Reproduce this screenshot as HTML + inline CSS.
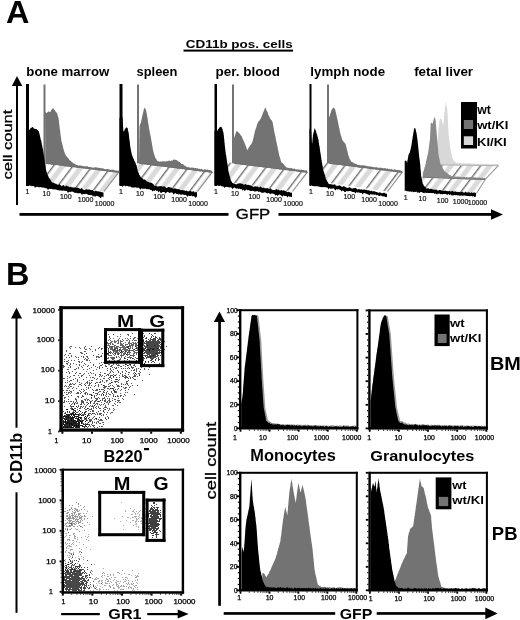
<!DOCTYPE html>
<html><head><meta charset="utf-8"><title>figure</title>
<style>html,body{margin:0;padding:0;background:#fff;} svg{display:block;will-change:transform;} text{font-family:"Liberation Sans", sans-serif;}</style>
</head><body>
<svg width="520" height="620" viewBox="0 0 520 620" style="font-family:'Liberation Sans', sans-serif">
<rect width="520" height="620" fill="#fff"/>
<text x="6.09" y="23.00" font-size="32.00" font-weight="bold" textLength="23.39" lengthAdjust="spacingAndGlyphs" fill="#000" >A</text>
<text x="185.66" y="48.30" font-size="10.76" font-weight="bold" textLength="107.19" lengthAdjust="spacingAndGlyphs" fill="#000" >CD11b pos. cells</text>
<rect x="183.5" y="49.6" width="109.5" height="2" fill="#000" />
<text x="26.34" y="76.20" font-size="13.38" font-weight="bold" textLength="82.95" lengthAdjust="spacingAndGlyphs" fill="#000" >bone marrow</text>
<text x="136.55" y="76.20" font-size="13.38" font-weight="bold" textLength="40.83" lengthAdjust="spacingAndGlyphs" fill="#000" >spleen</text>
<text x="215.52" y="76.20" font-size="13.38" font-weight="bold" textLength="64.36" lengthAdjust="spacingAndGlyphs" fill="#000" >per. blood</text>
<text x="310.37" y="76.20" font-size="13.38" font-weight="bold" textLength="74.68" lengthAdjust="spacingAndGlyphs" fill="#000" >lymph node</text>
<text x="414.17" y="76.20" font-size="13.38" font-weight="bold" textLength="58.92" lengthAdjust="spacingAndGlyphs" fill="#000" >fetal liver</text>
<polygon points="17,76 11.9,86 22.3,86" fill="#000" />
<rect x="16" y="85" width="2" height="120" fill="#000" />
<text transform="translate(11.60,178.70) rotate(-90)" x="-0.70" y="0" font-size="12.83" font-weight="normal" textLength="69.72" lengthAdjust="spacingAndGlyphs" fill="#000" stroke="#000" stroke-width="0.3">cell count</text>
<rect x="19.5" y="213" width="209" height="2.8" fill="#000" />
<rect x="278.5" y="213" width="213.5" height="2.8" fill="#000" />
<polygon points="491,209.2 503,214.4 491,219.8" fill="#000" />
<text x="235.86" y="219.40" font-size="14.91" font-weight="normal" textLength="34.43" lengthAdjust="spacingAndGlyphs" fill="#000" stroke="#000" stroke-width="0.3">GFP</text>
<defs>
<pattern id="hatch" patternUnits="userSpaceOnUse" width="15.5" height="16" patternTransform="translate(3,0) rotate(37)">
<rect width="15.5" height="16" fill="#fff"/>
<rect x="0" y="0" width="1.4" height="16" fill="#707070"/>
<rect x="5.5" y="0" width="5" height="16" fill="#dadada"/>
</pattern>
</defs>
<polygon points="40,162.4 118.8,172.1 104,191.5 26,180" fill="url(#hatch)" />
<line x1="118.8" y1="172.1" x2="104" y2="191.5" stroke="#8a8a8a" stroke-width="1.1" />
<rect x="43.5" y="84.5" width="2" height="78.8" fill="#737373" />
<polygon points="45.5,163.3 45.5,162.7 45.5,162.2 45.5,161.4 45.5,160.3 45.5,159.7 45.5,159.4 45.5,158 45.4,158 45.4,157.2 45.4,156.3 45.4,155.4 45.4,154.7 45.4,154 45.4,153.4 45.4,152.8 45.4,152.1 45.4,151.8 45.4,150.9 45.4,150.1 45.4,149.7 45.4,148.3 45.3,147.6 45.3,147.2 45.3,146.1 45.3,145.4 45.3,145.1 45.3,144.3 45.3,144 45.3,143 45.3,142.2 45.3,141.5 45.3,140.6 45.3,139.7 45.3,139.2 45.3,138.9 45.3,137.8 45.2,137.2 45.2,136.2 45.2,136.2 45.2,134.9 45.2,134.3 45.2,134.1 45.2,133.1 45.2,132.7 45.2,131.8 45.2,131.2 45.2,130 45.2,129.6 45.2,128.9 45.2,128.5 45.2,127.4 45.1,126.8 45.1,125.7 45.1,125.3 45.1,124.5 45.1,123.7 45.1,123.5 45.1,122.5 45.1,122.2 45.1,121.2 45.1,120.5 45.1,119.8 45.1,119.2 45.1,118 45.1,117.6 45,116.7 45,116.1 45,115.2 45,115.2 45,113.9 45,113.5 45,112.5 45,112 45.7,112.6 46.3,112.8 47,113 47.6,112 48.2,111.9 48.8,111 49.4,111.9 50,112 50.5,111.7 51,110.7 51.5,110 52,109 52.6,108.4 53.1,108 53.6,109 54,109.4 54.5,110 55,110.3 55.5,111.5 55.9,111.9 56.4,112.5 56.9,113 57.1,113.6 57.4,114.4 57.6,114.9 57.8,115.5 58,116.9 58.3,117.3 58.5,118 58.6,118.7 58.7,119.3 58.8,120.3 58.9,120.4 58.9,121.4 59,121.9 59.1,122.6 59.2,124 59.3,124.5 59.4,125 59.5,125.8 59.6,126.8 59.6,127.1 59.7,128 59.8,128.7 59.9,129.2 60,130 60.1,130.7 60.2,131.6 60.3,132.5 60.4,132.6 60.4,133.9 60.5,133.9 60.6,135.2 60.7,136 60.8,136.1 60.9,137.1 61,138.1 61.1,138.2 61.2,139.4 61.2,140 61.4,140.9 61.6,141.4 61.8,142.3 62,142.6 62.1,143.3 62.3,144.2 62.5,144.7 62.7,145.6 62.9,146.8 63,147.2 63.2,147.7 63.4,148.4 63.6,149.6 63.8,150 64,150.7 64.3,151.8 64.5,152.2 64.8,152.9 65.1,153.9 65.3,154.5 65.6,155 66,155.6 66.5,156 66.9,157 67.4,157.1 67.8,158.1 68.2,158 68.7,158.8 69.1,159.4 69.6,160.3 70,160.5 70.6,160.8 71.2,161.6 71.8,162 72.4,162.5 73,162.9 73.6,163.6 74.2,163.5 74.8,164 75.4,164.3 76,165 76.7,164.7 77.4,165 78.1,165.6 78.8,165.7 79.5,165.2 80.2,165.6 80.9,165.6 81.6,165.8 82.3,166 83,165.8 83.7,166.4 84.4,166.1 85.1,166.3 85.8,166.4 86.5,166.2 87.2,166.1 87.9,166.5 88.6,166.9 89.3,167 90,167.1 90.7,166.7 91.4,167.4 92.1,167.4 92.8,167.5 93.5,167.4 94.2,167.8 94.9,167.2 95.6,167.2 96.3,167.3 97,167.6 97.8,167.7 98.5,167.7 99.2,168.1 99.9,167.8 100.6,168.3 101.3,168.1 102,168.6 102.7,168.2 103.4,168.5 104.1,169.1 104.8,168.9 105.5,169.2 106.2,169.1 106.9,169.2 107.6,169 108.3,169.4 109,169 109.7,169.7 110.4,169.9 111.1,170 111.8,169.4 112.5,169.7 113.2,169.8 113.9,169.7 114.6,170.2 115.3,170.5 116,170.2 116.7,170.7 117.4,170.8 118.1,170.3 118.8,170.7 118.8,171.9 118.8,172.7 118.1,172.9 117.4,172.3 116.7,172.5 116,172.5 115.3,172.4 114.6,171.9 113.9,172.2 113.2,172.1 112.5,172.2 111.8,172.1 111.1,171.6 110.4,171.8 109.7,171.9 109,171.8 108.3,171.1 107.6,170.9 106.9,171.4 106.2,170.9 105.5,171.1 104.8,171.3 104.1,170.8 103.4,170.6 102.7,170.7 102,170.8 101.3,170.2 100.6,170.4 100,170.1 99.3,170.4 98.6,170.5 97.9,170 97.2,169.9 96.5,170 95.8,169.6 95.1,169.6 94.4,169.5 93.7,169.6 93,169.2 92.3,169.6 91.6,169.4 90.9,169.1 90.2,168.8 89.5,169.3 88.8,168.7 88.1,168.6 87.4,168.5 86.7,168.4 86,169 85.3,168.4 84.6,168.3 83.9,168.6 83.2,168.4 82.5,168 81.8,168.1 81.1,168.3 80.4,167.9 79.7,168 79,167.5 78.3,167.9 77.6,167.8 76.9,167.8 76.2,167.6 75.5,167.2 74.8,166.9 74.1,167.2 73.4,167.3 72.7,166.8 72,166.7 71.3,166.9 70.6,166.9 69.9,167 69.2,166.3 68.5,166.2 67.8,166.6 67.1,166.4 66.4,166.4 65.7,166.5 65,166.4 64.3,166.2 63.7,166.1 63,165.7 62.3,165.8 61.6,165.4 60.9,165.7 60.2,165.7 59.5,165.5 58.8,165.2 58.1,165.1 57.4,165 56.7,164.6 56,165.2 55.3,164.9 54.6,164.7 53.9,164.7 53.2,164.8 52.5,164.4 51.8,164.7 51.1,164.7 50.4,164.1 49.7,163.9 49,164.3 48.3,164.4 47.6,163.6 46.9,164 46.2,164 45.5,163.6" fill="#737373" />
<line x1="45.5" y1="163.2" x2="118.8" y2="172.3" stroke="#6f6f6f" stroke-width="1.0" />
<rect x="26" y="84" width="3" height="102" fill="#000" />
<polygon points="26,185 26,183.8 26,183.9 26,183.3 26,182.1 26,181 26,181 26,179.8 26,179.6 26,178.5 26,178.2 26,177 26,176.6 26,175.9 26,175.3 26,174.1 26,174.3 26,172.8 26,172.1 26,171.4 26,170.5 26,170.2 26,169.9 26,169.1 26,167.8 26,167 26,166.6 26,166.4 26,165.3 26,165.2 26,164.1 26,163.4 26,162.9 26,162.2 26,161 26,160.2 26,159.7 26,159 26,157.9 26,157.6 26,157.1 26,155.8 26,155.1 26,154.5 26,153.9 26,154 26,152.2 26,151.7 26,150.9 26,150.6 26,149.4 26,149.2 26,148.1 26,147.6 26,147.5 26,146 26,145.9 26,144.9 26,144.2 26,144 26,142.5 26,142.7 26,142 26,141 26,139.6 26,139.6 26,138.8 26,138.3 26,137 26,137.2 26,136.4 26,134.7 26,134.3 26,133.2 26,133.5 26,132.9 26,132.3 26,131 26.3,130.5 26.7,129.9 27,129 27.7,129.5 28.3,129.8 29,130 29.5,130 30,129.1 30.5,128.3 31,128 31.8,127.5 32.5,127 33,126.9 33.5,128.3 34,128.5 35,129 36,129 36.7,129.2 37.3,130.1 38,130 38.2,131 38.5,131.1 38.8,131.5 39,132.2 39.2,133 39.5,134 39.7,134.5 39.9,135.4 40.1,136.8 40.2,136.7 40.4,138.2 40.6,138.7 40.8,139.7 41,140 41.1,140.6 41.3,140.8 41.4,142.5 41.6,142.6 41.7,143.1 41.9,144.6 42,145.2 42.1,145.4 42.3,146.1 42.4,147.7 42.6,147.6 42.7,148.8 42.9,148.8 43,150 43.1,151.1 43.2,151 43.3,152.2 43.5,152.3 43.6,153.6 43.7,154.7 43.8,154.5 43.9,155.4 44,156.7 44.1,157.3 44.3,157.6 44.4,158.7 44.5,159.2 44.6,160 44.7,161.1 44.8,161.2 44.9,162.5 45,163 45.1,163.9 45.2,164.1 45.4,165.3 45.5,166 45.6,166.3 45.7,166.6 45.8,168.4 45.9,168.8 46,168.9 46.1,170 46.3,171 46.5,171.2 46.7,172.1 47,173.3 47.2,173.5 47.4,174 47.6,175 48,175.5 48.3,176 48.6,176.9 49,178 49.4,178.3 49.8,178.8 50.2,179.2 50.7,180.2 51.1,180.5 51.5,181.7 51.9,182 52.5,182.8 53.2,182.4 53.8,183.1 54.4,183.3 55.1,183.2 55.7,184 56.4,183.7 57.1,184.7 57.9,184.4 58.6,184.9 59.3,184.1 60,184.8 62,186.2 63,185.1 64,185.2 65,186.8 66,185.6 67,185.8 68,186.6 69,186.6 70,187.3 71,186.5 72,187.8 73,186.9 74,187.9 75,187 76,187.8 77,187.3 78,187.9 79,188 80,188.9 81,188.6 82,188.1 83,189.8 84,189.8 85,190 86,189.1 87,189.5 88,189.4 89,189.4 90,189.4 91,190.3 92,189.9 93,190.1 94,191.4 95,191 96,190.6 97,191.6 98,191.1 99,191.7 100,191.5 101,192 102,192.3 103,192.4 103.5,192.4 103.5,197.3 103,197 102,196.2 101,197.9 100,197.7 99,196.5 98,196.4 97,195.8 96,196.1 95,197 94,195.4 93,196.7 92,195 91,195.2 90,195 89,194.9 88,194.7 87,194 86,193.8 85,194.1 84,194.3 83,193.7 82,195 81,193.5 80,193 79,193.3 78,193.4 77,192.7 76,193 75,192.7 74,192.4 73,191.7 72,191.5 71,191.8 70,191.9 69,191.8 68,192.9 67,191.3 66,190.7 65,191.1 64,190.4 63,190.4 62,190.9 61,190.3 60,190.4 59,190.4 58,190 57,189.9 56,189.5 55,189.4 54,189.2 53,189.4 52,188.9 51,188.7 50,189 49,188.8 48,189.9 47,188.6 46,188.2 45,188.1 44,187.7 43,187.5 42,187.4 41,187.2 40,187.1 39,187.5 38,186.8 37,187.1 36,186.8 35,188 34,186.1 33,185.9 32,186.3 31,185.8 30,185.7 29,185.6 28,185.2 27,185.5" fill="#000" />
<text x="27.4" y="193.5" font-size="7" text-anchor="middle" fill="#111" stroke="#111" stroke-width="0.2">1</text>
<text x="46.4" y="196.1" font-size="7" text-anchor="middle" fill="#111" stroke="#111" stroke-width="0.2">10</text>
<text x="65.8" y="199.3" font-size="7" text-anchor="middle" fill="#111" stroke="#111" stroke-width="0.2">100</text>
<text x="85.6" y="202.3" font-size="7" text-anchor="middle" fill="#111" stroke="#111" stroke-width="0.2">1000</text>
<text x="104.6" y="205.5" font-size="7" text-anchor="middle" fill="#111" stroke="#111" stroke-width="0.2">10000</text>
<polygon points="133.5,162.4 212.3,172.1 197.5,191.5 119.5,180" fill="url(#hatch)" />
<line x1="212.3" y1="172.1" x2="197.5" y2="191.5" stroke="#8a8a8a" stroke-width="1.1" />
<rect x="137" y="84.5" width="2" height="78.8" fill="#737373" />
<polygon points="139,163.3 139,162.7 139,162.2 139,161.5 139,160.1 139,159.8 139.1,159 139.1,158.6 139.1,157.3 139.1,156.8 139.1,156.5 139.1,155.5 139.1,154.8 139.1,154.5 139.1,153.3 139.1,152.3 139.2,151.9 139.2,151 139.2,150.2 139.2,149.9 139.2,149.5 139.2,148.5 139.2,147.9 139.2,146.9 139.2,146.4 139.2,145.8 139.2,145 139.3,144.5 139.3,143.5 139.3,142.6 139.3,142.1 139.3,141.4 139.3,140.4 139.3,140.1 139.3,139.5 139.3,138.2 139.3,137.9 139.4,137.3 139.4,136.3 139.4,135.5 139.4,134.9 139.4,134.3 139.4,133.7 139.4,132.9 139.4,131.9 139.4,131.7 139.4,131.1 139.5,129.7 139.5,129.1 139.5,128.4 139.5,128.2 139.5,127.5 139.5,126.5 139.8,125.4 140,124.9 140.2,124 140.5,123.5 140.8,123.1 141,122 141.2,121 141.3,120.3 141.4,119.9 141.6,119.2 141.8,118.7 141.9,117.8 142.1,116.8 142.2,116.3 142.3,116.1 142.5,115 142.7,114.5 142.9,113.2 143,113 143.2,111.9 143.4,111.5 143.6,110.2 143.8,110.1 143.9,108.8 144.1,108.3 144.3,107.6 144.7,108.3 145.2,108.8 145.6,109.1 146,110 146.1,110.4 146.3,111.3 146.4,111.8 146.5,112.7 146.7,113.3 146.8,114.3 147,115 147.1,115.9 147.2,116.4 147.4,116.9 147.5,118 147.6,118.6 147.7,119.6 147.8,119.9 147.9,120.8 148,121.8 148.1,122.2 148.2,123.3 148.4,124 148.5,124.3 148.6,125.3 148.7,125.7 148.8,126.3 148.9,127.2 149,128 149.1,128.8 149.3,129.8 149.4,129.8 149.5,131 149.7,131.5 149.8,131.9 149.9,133.3 150.1,133.8 150.2,134.1 150.4,135.4 150.5,135.4 150.6,136.1 150.8,137 150.9,138.2 151,138.2 151.2,139.6 151.3,140 151.4,140.8 151.5,141.1 151.7,142.2 151.8,142.8 151.9,143.6 152,144.5 152.2,145.1 152.3,146.1 152.4,146.2 152.5,147.4 152.6,147.8 152.8,148.8 152.9,149.6 153,150 153.2,151.1 153.4,151.2 153.6,152.1 153.8,153.2 154,153.9 154.2,154.1 154.4,155.3 154.6,155.5 154.8,156.2 155,157 155.4,157.8 155.7,158.3 156.1,158.9 156.5,159.5 156.9,160.2 157.2,160.6 157.6,161.5 158.3,161.1 159.1,161.7 159.8,161.6 160.6,161.6 161.3,161.7 162,161.3 162.8,161.3 163.5,161.3 164.3,161.3 165,161.5 165.7,161.6 166.4,161.2 167.1,161.1 167.8,161.2 168.5,160.7 169.2,160.6 169.9,161 170.6,160.9 171.3,160.4 172,160.5 172.8,160.4 173.5,159.6 174.2,159.7 175,159.5 175.8,159.9 176.5,160.1 177.2,160.5 178,161 178.6,161.5 179.1,161.9 179.7,162 180.3,162.9 180.9,162.8 181.4,163.9 182,164 182.7,164.1 183.3,164.5 184,164.9 184.7,165.9 185.3,165.7 186,166.3 186.7,167 187.3,167.3 188,167.3 188.7,167 189.4,167.5 190.1,167.7 190.8,167.8 191.5,167.6 192.2,167.7 192.9,167.6 193.6,167.7 194.2,168.2 194.9,167.9 195.6,168.1 196.3,168.3 197,168.2 197.7,168.3 198.4,169.1 199.1,168.8 199.8,168.7 200.5,169.2 201.2,168.8 201.9,169 202.6,169.7 203.3,169.8 204,169.6 204.7,169.3 205.4,169.6 206.1,169.4 206.7,169.7 207.4,169.6 208.1,169.8 208.8,170.3 209.5,170 210.2,170.1 210.9,170.8 211.6,170.5 212.3,170.7 212.3,171.6 212.3,172.7 211.6,172.3 210.9,172.8 210.2,172.6 209.5,172.4 208.8,172.4 208.1,171.9 207.4,171.9 206.7,172.1 206,172.3 205.3,172.1 204.6,171.9 203.9,171.7 203.2,171.2 202.5,171.8 201.8,171.1 201.1,171 200.4,171.4 199.7,171.4 199,171.3 198.3,170.9 197.6,170.6 196.9,170.4 196.2,171 195.5,171 194.8,170.3 194.1,170.7 193.5,170.3 192.8,170.1 192.1,170.2 191.4,169.7 190.7,170 190,169.7 189.3,170 188.6,169.8 187.9,170 187.2,169.9 186.5,169.4 185.8,169.2 185.1,169.7 184.4,169.2 183.7,168.8 183,168.7 182.3,169.4 181.6,169 180.9,168.5 180.2,168.7 179.5,168.6 178.8,168.5 178.1,168.8 177.4,168.7 176.7,168 176,167.9 175.3,168 174.6,168.3 173.9,168 173.2,168 172.5,167.8 171.8,167.5 171.1,167.9 170.4,167.1 169.7,167.6 169,167.1 168.3,167.2 167.6,167.6 166.9,167.1 166.2,166.6 165.5,166.9 164.8,167 164.1,166.4 163.4,166.5 162.7,166.2 162,166.5 161.3,166.3 160.6,166.3 159.9,166.1 159.2,166.3 158.5,165.8 157.8,166.3 157.2,166.2 156.5,165.8 155.8,165.7 155.1,165.9 154.4,165.4 153.7,165.7 153,165.2 152.3,165.4 151.6,165.1 150.9,165.2 150.2,165.4 149.5,164.6 148.8,165.1 148.1,164.8 147.4,164.6 146.7,164.5 146,164.2 145.3,164.2 144.6,164.4 143.9,163.9 143.2,164.3 142.5,164.4 141.8,164.4 141.1,164.2 140.4,164.1 139.7,163.5 139,163.6" fill="#737373" />
<line x1="139" y1="163.2" x2="212.3" y2="172.3" stroke="#6f6f6f" stroke-width="1.0" />
<rect x="119.5" y="84" width="3" height="102" fill="#000" />
<polygon points="119.5,185 119.5,184.8 119.5,184 119.5,182.5 119.5,182.2 119.5,181.5 119.5,181.4 119.5,179.6 119.5,179.4 119.5,179.1 119.5,177.8 119.5,177 119.5,176.6 119.5,175.6 119.5,175.6 119.5,173.9 119.5,173.4 119.5,172.5 119.5,172.6 119.5,171.4 119.5,171.4 119.5,170.7 119.5,170 119.5,168.5 119.5,167.5 119.5,167.2 119.5,167.2 119.5,166.3 119.5,164.7 119.5,164.8 119.5,164.3 119.5,163.7 119.5,162.7 119.5,162.2 119.5,161.4 119.5,160.1 119.5,159.1 119.5,159.2 119.5,157.8 119.5,157.4 119.5,157.4 119.5,156.2 119.5,155.4 119.5,155.2 119.5,153.7 119.5,153.9 119.5,153.1 119.5,151.7 119.5,150.9 119.5,150 119.5,150.2 119.5,148.7 119.5,147.7 119.5,148.1 119.5,147 119.5,146.4 119.5,145.8 119.5,144.3 119.5,143.6 119.5,143.4 119.5,142.1 119.5,142 119.5,141.6 119.5,140.8 119.5,140 119.5,138.6 119.5,138.1 119.5,138.2 119.5,136.6 119.5,136.4 119.5,135.1 119.5,135.5 119.5,133.8 119.5,133.4 119.5,132.9 119.5,132.4 119.5,131.9 119.5,131 119.5,129.8 119.5,128.8 119.5,128.8 119.5,128.4 119.5,126.6 119.5,126.8 119.5,125.4 119.5,125 119.5,124.4 119.5,123.8 119.5,123.5 119.5,122.5 119.5,121.4 119.5,121.1 119.5,120.1 119.5,119.3 119.5,118.5 119.5,118 120,117.5 120.5,116.7 121,116.5 121.8,116.4 122.5,117 122.5,117.3 122.6,118.4 122.6,118.9 122.7,120.3 122.7,121.1 122.8,121.2 122.8,122.2 122.9,123.3 122.9,123.4 123,124.3 123,125 123,125.6 123.1,126.6 123.2,127.7 123.2,127.4 123.2,129.1 123.3,129.4 123.3,130.3 123.4,130.8 123.5,131.7 123.5,132 123.8,131.1 124.2,130.9 124.5,130 124.9,129.1 125.2,128.8 125.6,128.3 126,127.5 126.8,127.4 127.5,128 127.7,128.3 127.9,129.9 128.1,130.8 128.3,131.4 128.5,132 128.6,132.5 128.7,133.6 128.8,133.7 128.9,135.1 129,135.7 129,136.5 129.1,137 129.2,137.5 129.3,138.8 129.4,139.2 129.5,140 129.6,141 129.7,141.3 129.8,141.7 129.9,143 130,143.8 130,144.9 130.1,145.6 130.2,145.3 130.3,146.9 130.4,147 130.5,148 130.7,148.9 130.8,149.3 130.9,149.9 131.1,150.8 131.2,151.5 131.4,152.4 131.6,153.1 131.7,153.8 131.8,154.2 132,155 132.3,155.9 132.6,156.2 132.9,157.3 133.1,157.8 133.4,158.6 133.7,158.7 134,160 134.3,160.7 134.7,161.1 135,162 135.4,162.3 135.7,163.8 136.1,164.8 136.4,165 136.6,165.5 136.7,165.9 136.9,167.2 137,167.4 137.2,169 137.4,168.7 137.5,169.7 137.7,170.6 137.8,170.8 138,172 138.4,172.5 138.8,173.1 139.1,174.3 139.5,175.3 139.9,175.3 140.2,176.5 140.6,176.4 141,177.5 141.6,178 142.2,178.2 142.9,178.4 143.5,179.4 144.1,179.7 144.8,179.3 145.4,179.9 146,180.5 146.6,181.2 147.3,181.7 147.9,181.5 148.5,182.1 149.2,182.6 149.8,182.6 150.5,182.8 151.1,182.6 151.7,183 152.4,183.6 153,183.8 155,186.2 156,185.1 157,186.4 158,186.5 159,186.3 160,186.3 161,186 162,186.6 163,186.4 164,186.3 165,186.5 166,187.7 167,188.1 168,187 169,187 170,187.5 171,187.5 172,187.8 173,188.6 174,188.5 175,188.6 176,188.4 177,189.3 178,188.9 179,189.2 180,189.5 181,190.4 182,189.5 183,190.4 184,189.9 185,191 186,190.4 187,190.7 188,191.5 189,191.3 190,190.6 191,190.8 192,192.3 193,191 194,191.6 195,192.8 196,191.4 197,192.4 197,197.3 196.5,196.4 195.5,198 194.5,196.5 193.5,195.9 192.5,196.4 191.5,195.6 190.5,195.9 189.5,196 188.5,195.5 187.5,196.8 186.5,195.5 185.5,194.8 184.5,195.1 183.5,194.7 182.5,194.3 181.5,194.7 180.5,194.7 179.5,194.1 178.5,194.4 177.5,194 176.5,194.1 175.5,193.1 174.5,193.5 173.5,194.7 172.5,192.6 171.5,192.6 170.5,192.6 169.5,193 168.5,192.3 167.5,191.8 166.5,192.6 165.5,193.5 164.5,192 163.5,192 162.5,192 161.5,192.9 160.5,192.8 159.5,191.1 158.5,192.5 157.5,190.6 156.5,190.9 155.5,190.1 154.5,190.9 153.5,190.5 152.5,191.6 151.5,190 150.5,190.1 149.5,189.2 148.5,189.2 147.5,189.1 146.5,189.3 145.5,188.5 144.5,188.7 143.5,188.8 142.5,188.8 141.5,188.2 140.5,189.8 139.5,188.5 138.5,187.5 137.5,187.7 136.5,187.7 135.5,187.3 134.5,187.5 133.5,187.4 132.5,187.4 131.5,187.4 130.5,186.4 129.5,186.4 128.5,186.6 127.5,185.9 126.5,185.7 125.5,186.4 124.5,185.5 123.5,185.7 122.5,187.1 121.5,185.1 120.5,185.4" fill="#000" />
<text x="120.9" y="193.5" font-size="7" text-anchor="middle" fill="#111" stroke="#111" stroke-width="0.2">1</text>
<text x="139.9" y="196.1" font-size="7" text-anchor="middle" fill="#111" stroke="#111" stroke-width="0.2">10</text>
<text x="159.3" y="199.3" font-size="7" text-anchor="middle" fill="#111" stroke="#111" stroke-width="0.2">100</text>
<text x="179.1" y="202.3" font-size="7" text-anchor="middle" fill="#111" stroke="#111" stroke-width="0.2">1000</text>
<text x="198.1" y="205.5" font-size="7" text-anchor="middle" fill="#111" stroke="#111" stroke-width="0.2">10000</text>
<polygon points="228.5,162.4 307.3,172.1 292.5,191.5 214.5,180" fill="url(#hatch)" />
<line x1="307.3" y1="172.1" x2="292.5" y2="191.5" stroke="#8a8a8a" stroke-width="1.1" />
<rect x="232" y="84.5" width="2" height="78.8" fill="#737373" />
<polygon points="234,163.3 234,163 234,161.8 234,161.1 234,160.1 234,159.9 234,159 234,158.6 234,157.4 234,157.1 234,156.4 234,155.5 234,154.6 234,154 234,153.6 234,152.4 234,151.7 234,151.2 234,150.3 234,150.1 234,149.4 234,148.8 234,148 234,147.1 234,146.1 234,145.9 234,145.1 234,144.4 234,143.6 234,143 234,141.9 234,141.5 234,140.6 234,139.8 234,139.1 234,138.5 234.2,137.5 234.4,137 234.7,136.2 234.9,135.5 235.1,135.2 235.3,134.3 235.6,133.6 235.8,133.1 236,132 236.7,130.9 237.3,131.2 238,132 238.6,132.7 239.3,133 239.9,134 240.4,134.6 241,135.7 241.5,136 241.8,136.3 242.1,137.6 242.4,138.3 242.7,138.7 243,139.4 243.3,140.3 243.6,140.7 243.9,141.3 244.1,142 244.4,142.4 244.7,143.2 245,144 245.3,144.5 245.5,145.7 245.8,145.9 246,146.4 246.3,147.7 246.5,147.7 246.8,149 247,149.6 247.3,150 247.8,149.5 248.2,148.6 248.7,147.8 249.1,147 249.6,146.3 250,146 250.4,145.2 250.7,144.6 251.1,144.4 251.5,143.5 251.9,143.2 252.2,142.3 252.6,141.5 252.8,140.5 252.9,140.1 253.1,139.1 253.2,138.3 253.4,138.4 253.6,137.2 253.7,136.4 253.9,135.6 254,135.3 254.2,134.5 254.4,133.4 254.5,133.3 254.7,132.2 254.8,131.9 255,131 255.2,130.3 255.5,129.6 255.7,128.8 256,128.3 256.2,127.8 256.4,126.9 256.7,125.6 256.9,125.3 257.2,124.3 257.4,123.5 257.7,122.9 257.9,122.4 258.3,121.6 258.8,121.6 259.2,120.8 259.7,120.3 260.1,119.6 260.6,118.7 261,118.2 261.3,117.4 261.6,116.7 261.9,115.8 262.1,115.2 262.4,114.7 262.7,113.4 263,113 263.3,112.1 263.6,111.6 263.9,111.1 264.1,110.4 264.4,109.8 264.7,108.6 265,108 265.3,107.6 265.6,108.1 266,108.8 266.3,109.8 266.7,110.7 267,111 267.2,111.8 267.5,112 267.8,112.8 268,113.9 268.2,114.7 268.5,115 268.8,115.7 269.2,116.2 269.5,116.9 269.8,117.8 270.2,118.6 270.5,119 270.9,119.6 271.4,120.1 271.8,120.6 272.3,121.4 272.7,122.4 272.8,123.4 272.9,123.9 273.1,124.9 273.2,124.8 273.3,125.7 273.4,126.8 273.5,127.4 273.6,127.6 273.8,128.5 273.9,129.4 274,130 274.1,130.9 274.3,131.4 274.4,131.9 274.6,133.3 274.7,133.6 274.9,134.5 275,135.1 275.2,135.4 275.3,136.3 275.5,136.9 275.6,137.7 275.8,138.4 275.9,139.4 276,140 276.2,140.6 276.3,141.4 276.5,142.4 276.6,142.5 276.8,143.2 276.9,144.5 277.1,145 277.2,145.6 277.4,146.1 277.5,147 277.6,147.8 277.8,148.2 277.9,149.4 278.1,150.1 278.2,150.5 278.4,150.9 278.6,152.4 278.7,152.6 278.9,153.6 279,154.2 279.2,155.2 279.4,155.9 279.6,156.6 279.8,157 280,158 280.2,158.4 280.4,159 280.6,159.9 280.8,160.5 281,161.5 281.2,162 281.7,162.8 282.3,162.8 282.8,163.3 283.4,164 283.9,164.6 284.5,165.5 285,166.1 285.6,166.6 286.1,166.9 286.7,167.4 287.2,167.8 287.9,167.7 288.6,167.9 289.3,167.7 290,168.5 290.7,168.1 291.4,168.1 292.1,168.4 292.7,168.5 293.4,168.9 294.1,168.4 294.8,168.7 295.5,169.3 296.2,169.4 296.9,169.3 297.6,169.4 298.3,169.2 299,169.8 299.7,169.8 300.4,169.7 301.1,169.5 301.8,169.7 302.4,169.9 303.1,170 303.8,169.9 304.5,170.2 305.2,170.4 305.9,170.3 306.6,170.5 307.3,170.7 307.3,171.6 307.3,172.7 306.6,172.5 305.9,172.6 305.2,172.4 304.5,172.1 303.8,172.5 303.1,172.2 302.4,172.1 301.7,172.2 301,172.1 300.3,172.1 299.6,172 298.9,171.8 298.2,171.8 297.5,171.2 296.8,171.6 296.1,171.1 295.4,171 294.7,170.8 294,171 293.3,170.6 292.6,171 291.9,171 291.2,170.9 290.5,170.3 289.8,170.7 289.1,170.7 288.5,170 287.8,170 287.1,170 286.4,170.1 285.7,169.8 285,170 284.3,169.7 283.6,169.9 282.9,169.7 282.2,169.7 281.5,169.3 280.8,169.6 280.1,169.5 279.4,169.4 278.7,168.8 278,169.4 277.3,169 276.6,168.7 275.9,168.8 275.2,168.7 274.5,168.7 273.8,168.4 273.1,168.3 272.4,168.3 271.7,168.5 271,168.2 270.3,167.8 269.6,168 268.9,167.7 268.2,167.5 267.5,168.2 266.8,167.5 266.1,167.6 265.4,167.4 264.7,167.1 264,167.7 263.3,167.6 262.6,166.9 261.9,167 261.2,166.9 260.5,166.6 259.8,167 259.1,167 258.4,166.9 257.7,166.7 257,166.1 256.3,166.2 255.6,166.3 254.9,166.4 254.2,166 253.5,166 252.8,166.2 252.2,165.5 251.5,165.6 250.8,165.5 250.1,166 249.4,165.3 248.7,165.1 248,165.3 247.3,165.4 246.6,164.9 245.9,165.4 245.2,164.8 244.5,165.1 243.8,164.6 243.1,165.1 242.4,164.4 241.7,164.8 241,164.8 240.3,164.2 239.6,164 238.9,164.3 238.2,164.2 237.5,164 236.8,164.2 236.1,163.9 235.4,163.8 234.7,163.7 234,163.6" fill="#737373" />
<line x1="234" y1="163.2" x2="307.3" y2="172.3" stroke="#6f6f6f" stroke-width="1.0" />
<rect x="214.5" y="84" width="2.5" height="102" fill="#000" />
<polygon points="214.5,185 214.5,184.6 214.5,184.1 214.5,182.4 214.5,182.5 214.5,181.4 214.5,181.1 214.5,179.8 214.5,179.4 214.5,179.1 214.5,177.4 214.5,177 214.5,176.6 214.5,176.3 214.5,174.9 214.5,174.9 214.5,173.5 214.5,172.8 214.5,172.4 214.5,171.9 214.5,171.4 214.5,170.7 214.5,169.3 214.5,169.2 214.5,168.3 214.5,167.3 214.5,167.1 214.5,166.5 214.5,165.3 214.5,165.2 214.5,163.5 214.5,162.9 214.5,162.9 214.5,161.6 214.5,161.3 214.5,160.5 214.5,159.3 214.5,159.4 214.5,158.6 214.5,157.2 214.5,156.7 214.5,156.6 214.5,156 214.5,155.3 214.5,154.1 214.5,153.3 214.5,152.7 214.5,151.7 214.5,151.3 214.5,150.3 214.5,149.5 214.5,149.1 214.5,148 214.5,147.8 214.5,147.4 214.5,146.6 214.5,146.3 214.5,145.5 214.5,144.5 214.5,144.1 214.5,142.9 214.5,142.6 214.5,141.3 214.5,140.9 214.5,140.7 214.5,139.5 214.5,138.7 214.5,138.4 214.5,137.1 214.5,137 214.5,135.3 214.5,134.9 214.5,134.1 214.5,133.5 214.5,133.6 214.5,131.8 214.5,131.5 214.5,131 215.3,131.1 216.2,131.2 217,131 217.4,130.7 217.8,129.7 218.2,128.9 218.6,129 219,128 219.8,127.2 220.5,126.8 221.3,127 221.7,127.3 222.1,128.3 222.5,129 222.7,130.3 222.9,130.9 223.1,131.5 223.3,132.2 223.5,133 223.6,133.9 223.7,134.6 223.7,134.9 223.8,135.3 223.9,136.1 224,137.5 224.1,138.1 224.1,139 224.2,138.8 224.3,140 224.4,141.2 224.4,141.3 224.5,142.7 224.6,143 224.7,143.6 224.7,144.7 224.8,145.2 224.9,145.9 224.9,146 225,147.3 225.1,147.7 225.2,148.1 225.2,148.8 225.3,150 225.4,150.7 225.5,151.1 225.6,152.5 225.7,152.4 225.8,153 225.9,154.9 226.1,154.8 226.2,155.7 226.3,156.1 226.4,156.8 226.5,157.7 226.6,158.9 226.7,158.7 226.8,160 226.9,161.1 227,162 227.1,162.2 227.2,162.7 227.3,163.3 227.4,163.9 227.6,164.8 227.7,166.1 227.8,165.8 227.9,167.5 228,168.1 228.1,168 228.2,168.8 228.3,170 228.4,171 228.6,171.6 228.7,171.9 228.9,173.3 229,173.2 229.2,174.2 229.3,175 229.5,175.3 229.7,176.6 229.9,176.6 230.2,177.5 230.4,178.9 230.6,179.3 230.8,180 231.2,180.9 231.7,181.8 232.1,182.4 232.5,183 233.2,182.9 233.9,183.8 234.6,183.4 235.3,183.9 236,184.5 238,183.4 239,183.5 240,183.3 241,183.6 242,183.8 243,183.9 244,184.9 245,184 246,184.3 247,185 248,184.8 249,184.9 250,185.2 251,185.6 252,186.1 253,186.7 254,186.7 255,186.2 256,186.4 257,186.5 258,186.4 259,187.7 260,186.4 261,186.8 262,187.7 263,187.7 264,187.4 265,188.6 266,187.9 267,188.4 268,187.8 269,189.2 270,188.1 271,188.7 272,189.7 273,190 274,190.1 275,190.1 276,189.3 277,189.2 278,190 279,189.5 280,191.1 281,189.8 282,190.5 283,190.4 284,190.3 285,191.2 286,190.7 287,192.2 288,192 289,191.7 290,192.6 291,192.7 292,192.4 292,197.3 291.5,197 290.5,196.7 289.5,196.8 288.5,196.1 287.5,197.6 286.5,196.1 285.5,195.9 284.5,196.1 283.5,195.2 282.5,196.8 281.5,195.7 280.5,195 279.5,194.4 278.5,195.1 277.5,196.1 276.5,194.8 275.5,195.8 274.5,194.2 273.5,193.8 272.5,193.6 271.5,193.4 270.5,193.9 269.5,193.6 268.5,193 267.5,193.5 266.5,193 265.5,192.6 264.5,192.2 263.5,192.8 262.5,192.8 261.5,192.7 260.5,192.1 259.5,191.5 258.5,191.9 257.5,191.1 256.5,191.2 255.5,191.6 254.5,191.4 253.5,190.9 252.5,190.7 251.5,191 250.5,190.9 249.5,190.6 248.5,190.1 247.5,190.2 246.5,189.5 245.5,190.2 244.5,191.1 243.5,189.5 242.5,190.8 241.5,189.1 240.5,189.3 239.5,188.4 238.5,188.9 237.5,188.3 236.5,188.8 235.5,188.2 234.5,187.6 233.5,187.8 232.5,189.3 231.5,187.6 230.5,187.3 229.5,187.6 228.5,187.3 227.5,187.1 226.5,186.7 225.5,186.9 224.5,188.1 223.5,186.5 222.5,186.6 221.5,186.3 220.5,185.6 219.5,186.1 218.5,185.8 217.5,185.4 216.5,185.5 215.5,185.6" fill="#000" />
<text x="215.9" y="193.5" font-size="7" text-anchor="middle" fill="#111" stroke="#111" stroke-width="0.2">1</text>
<text x="234.9" y="196.1" font-size="7" text-anchor="middle" fill="#111" stroke="#111" stroke-width="0.2">10</text>
<text x="254.3" y="199.3" font-size="7" text-anchor="middle" fill="#111" stroke="#111" stroke-width="0.2">100</text>
<text x="274.1" y="202.3" font-size="7" text-anchor="middle" fill="#111" stroke="#111" stroke-width="0.2">1000</text>
<text x="293.1" y="205.5" font-size="7" text-anchor="middle" fill="#111" stroke="#111" stroke-width="0.2">10000</text>
<polygon points="323.5,162.4 402.3,172.1 387.5,191.5 309.5,180" fill="url(#hatch)" />
<line x1="402.3" y1="172.1" x2="387.5" y2="191.5" stroke="#8a8a8a" stroke-width="1.1" />
<rect x="327" y="84.5" width="2" height="78.8" fill="#737373" />
<polygon points="329,163.3 329,162.6 329,161.6 329,160.9 328.9,160.6 328.9,160 328.9,159 328.9,158.3 328.9,157.5 328.9,157 328.8,156.4 328.8,156 328.8,154.5 328.8,154.5 328.8,153.9 328.8,152.7 328.7,152.3 328.7,151.7 328.7,150.8 328.7,149.8 328.7,149.4 328.7,148.9 328.6,147.6 328.6,147.2 328.6,146.1 328.6,146.1 328.6,145.3 328.6,144 328.5,143.9 328.5,143.1 328.5,142 328.5,141.6 328.5,141 328.5,140 328.4,139.5 328.4,139.1 328.4,138.2 328.4,137.4 328.4,136.3 328.4,135.6 328.3,135.5 328.3,134.7 328.3,134.1 328.3,133.2 328.3,132.5 328.3,131.8 328.2,131.2 328.2,130.2 328.2,129.6 328.2,128.9 328.2,128.4 328.2,127.3 328.1,126.4 328.1,125.8 328.1,125.2 328.1,125 328.1,124.2 328.1,123.5 328,122.6 328,121.6 328,121.2 328,120.5 328.2,120.1 328.5,119.1 328.8,118.5 329,117.6 329.2,116.8 329.5,116.5 329.8,115.7 330,115 330.2,114.2 330.4,113.4 330.6,113 330.9,112 331.1,111.5 331.3,110.5 331.5,110 332,109.6 332.5,108.6 333,108 333.5,107.4 334,108.3 334.5,108.6 335,109 335.2,109.9 335.4,110.4 335.6,111.5 335.8,111.9 335.9,113.1 336.1,113.8 336.3,114.4 336.5,115 336.6,116 336.8,116.4 336.9,117.3 337.1,117.5 337.2,118.9 337.4,119.4 337.6,119.6 337.7,120.4 337.9,121.4 338,122 338.1,122.9 338.3,123.1 338.4,124.5 338.6,124.7 338.7,126 338.9,126.5 339,127 339.1,127.6 339.3,128.1 339.4,128.8 339.6,130 339.7,130.8 339.9,131.6 340,132 340.2,132.6 340.4,133.8 340.6,134 340.8,135.3 341,136 341.3,136.1 341.5,137.4 341.7,138 341.9,138.7 342.1,139.5 342.3,140 342.9,140.8 343.4,141.5 343.9,142 344.4,142.4 345,143.4 345.5,143.6 345.7,144.6 345.8,144.8 346,146 346.2,146.3 346.3,146.9 346.5,147.6 346.7,148.6 346.8,149.1 347,150 347.2,150.5 347.4,151.1 347.6,152 347.8,153 347.9,153.1 348.1,154.2 348.3,155 348.5,155.2 348.7,156.3 349,156.8 349.3,158 349.6,158.8 349.9,159.4 350.2,159.5 350.5,160.5 351.1,161.5 351.8,162 352.5,162.3 353.1,162.4 353.8,162.9 354.5,163.6 355.1,163.9 355.8,163.8 356.5,163.8 357.1,164.8 357.8,164.8 358.5,165.3 359.2,165 359.9,164.9 360.6,165.2 361.3,165.4 362,165.3 362.7,165.3 363.4,165.3 364.1,165.5 364.8,165.4 365.4,165.6 366.1,166.3 366.8,165.6 367.5,166.3 368.2,166.4 368.9,166.2 369.6,166.4 370.3,166.2 371,166.7 371.7,166.8 372.4,166.9 373.1,166.8 373.8,167.3 374.5,167.3 375.2,167.2 375.9,167.3 376.6,167.1 377.3,167.7 378,167.6 378.7,167.9 379.4,167.5 380.1,168.1 380.7,167.5 381.4,168 382.1,167.7 382.8,167.9 383.5,168.4 384.2,168 384.9,168.3 385.6,168.2 386.3,168.9 387,168.3 387.7,168.6 388.4,169.1 389.1,169.1 389.8,169.2 390.5,169.5 391.2,168.8 391.9,169.4 392.6,169.6 393.3,169.7 394,169.8 394.7,169.3 395.3,169.4 396,170.1 396.7,170.1 397.4,169.9 398.1,169.8 398.8,170.3 399.5,170 400.2,170.6 400.9,170.4 401.6,170.9 402.3,170.7 402.3,171.4 402.3,172.7 401.6,172.6 400.9,172.2 400.2,172.7 399.5,172.4 398.8,172.1 398.1,172.6 397.4,172.2 396.7,171.9 396,172.2 395.3,171.7 394.6,172.1 393.9,171.5 393.2,172 392.5,171.1 391.8,171.6 391.1,171.2 390.4,171.2 389.7,171.3 389,170.7 388.3,170.8 387.6,170.6 386.9,171 386.2,170.5 385.5,170.6 384.8,170.4 384.1,170.2 383.5,170.7 382.8,170.3 382.1,170.3 381.4,170.3 380.7,170.3 380,169.7 379.3,169.5 378.6,169.7 377.9,169.4 377.2,169.2 376.5,169.8 375.8,169.5 375.1,169.3 374.4,169 373.7,169.4 373,169.1 372.3,168.7 371.6,169.3 370.9,169.2 370.2,169.1 369.5,168.9 368.8,168.6 368.1,168.3 367.4,168.5 366.7,168 366,168.3 365.3,167.8 364.6,167.6 363.9,168.1 363.2,167.7 362.5,167.9 361.8,167.9 361.1,167.9 360.4,167.6 359.7,167.7 359,167.5 358.3,167.6 357.6,167.5 356.9,166.7 356.2,166.8 355.5,166.8 354.8,166.6 354.1,166.5 353.4,167 352.7,166.2 352,166.2 351.3,166.6 350.6,166.1 349.9,166 349.2,166.5 348.5,166.3 347.8,165.9 347.2,165.6 346.5,165.6 345.8,166.1 345.1,165.9 344.4,165.2 343.7,165.6 343,165.3 342.3,165.4 341.6,165 340.9,164.8 340.2,164.6 339.5,164.8 338.8,165.1 338.1,165.1 337.4,164.8 336.7,164.8 336,164.3 335.3,164.3 334.6,164.6 333.9,164.6 333.2,164.1 332.5,164.3 331.8,164.3 331.1,164.3 330.4,163.6 329.7,163.8 329,163.6" fill="#737373" />
<line x1="329" y1="163.2" x2="402.3" y2="172.3" stroke="#6f6f6f" stroke-width="1.0" />
<rect x="309.5" y="84" width="2" height="102" fill="#000" />
<polygon points="309.5,185 309.5,184.2 309.5,183.5 309.5,182.8 309.5,181.8 309.5,181 309.5,180.2 309.5,180.3 309.5,179.2 309.5,178.6 309.5,178.5 309.5,177.4 309.5,176.9 309.5,176.2 309.5,175.7 309.5,173.9 309.5,173.6 309.5,173.6 309.5,172.3 309.5,172.2 309.5,170.5 309.5,169.7 309.5,170 309.5,168.7 309.5,168.1 309.5,167.9 309.5,166.4 309.5,166.6 309.5,165.2 309.5,164.3 309.5,163.6 309.5,163.2 309.5,162.4 309.5,162.2 309.5,160.5 309.5,159.8 309.5,159.2 309.5,159.1 309.5,158.6 309.5,157.5 309.5,157 309.5,156.3 309.5,154.9 309.5,154.4 309.5,154.6 309.5,153.1 309.5,153.2 309.5,151.9 309.5,150.9 309.5,149.9 309.5,149.5 309.5,148.9 309.5,148.3 309.5,147.6 309.5,147.1 309.5,146.3 309.5,145 309.5,144.6 309.5,144.7 309.5,142.9 309.5,143.1 309.5,142 309.5,141.6 309.5,140.5 309.5,139.8 309.5,139.3 309.5,139 309.5,137.6 309.5,136.6 309.5,135.9 309.5,136.2 309.5,134.8 309.5,133.9 309.5,133.7 309.5,133.3 309.5,132.3 309.5,131.1 309.5,130.7 309.5,129.8 309.5,128.8 309.5,128.7 310.2,129.3 311,128.7 311,129.4 311.1,129.7 311.1,131.3 311.2,132.1 311.2,132.6 311.3,132.7 311.3,133.3 311.3,134.4 311.4,135.2 311.4,136.2 311.5,137.1 311.5,137.7 311.6,137.7 311.6,138.7 311.7,138.9 311.7,140.1 311.7,140.2 311.8,141 311.8,141.7 311.9,142.6 311.9,143.4 312,144.5 312,145 312.1,143.8 312.1,143.1 312.2,143 312.3,142.4 312.4,141.7 312.4,141 312.5,140.2 312.6,139.3 312.6,138.9 312.7,137.4 312.8,136.8 312.9,136.7 312.9,135.3 313,135 313.2,134.3 313.3,133.3 313.5,132.8 313.7,132.6 313.9,131.6 314,130.7 314.2,129.8 314.4,129.7 314.5,128.8 314.7,127.9 315,128.6 315.4,129.9 315.7,130.5 316,131 316.2,132.4 316.5,132.8 316.7,133.9 317,134.3 317.2,135 317.4,136 317.6,136.8 317.8,136.7 317.9,137.8 318.1,138.7 318.3,138.8 318.5,140 318.6,141.1 318.7,141.7 318.8,142.7 318.9,142.7 319,143.5 319.1,144.8 319.2,144.9 319.4,146.1 319.5,146.3 319.6,146.9 319.7,147.6 319.8,148.2 319.9,149.2 320,150 320.1,150.3 320.2,151.8 320.3,152.7 320.4,152.4 320.5,153 320.6,153.7 320.8,155.5 320.9,155.2 321,156.6 321.1,156.9 321.2,157.5 321.3,158.3 321.4,159.5 321.5,160 321.6,160.1 321.8,161.9 321.9,162.2 322,162.5 322.1,163.2 322.3,164.5 322.4,165.2 322.5,165.5 322.7,166.2 322.8,167.1 322.9,168.3 323,168.6 323.2,169.7 323.3,170 323.5,170.9 323.7,171.5 324,172.1 324.2,173.1 324.4,173.6 324.6,174.6 324.9,174.6 325.1,175.5 325.3,176.9 325.5,177 325.7,178.3 326,179.1 326.2,179.4 326.4,180 326.8,180.2 327.3,181.6 327.7,182.2 328.1,182.4 328.6,183.8 329,184 331,184.3 332,184.5 333,184.7 334,184.6 335,184.3 336,185.7 337,185.7 338,186.1 339,185.2 340,185.5 341,186.2 342,187 343,186.4 344,186.1 345,186.9 346,187.6 347,187.7 348,187.9 349,187.3 350,187.2 351,188.3 352,188.4 353,188.6 354,188.1 355,188.1 356,188.1 357,189.3 358,189.6 359,188.8 360,189.8 361,189.2 362,189.5 363,189.8 364,189.4 365,189.7 366,189.8 367,190 368,190.6 369,190.1 370,191.3 371,190.5 372,191.1 373,191.6 374,191 375,191.6 376,192 377,192.1 378,192.8 379,192.8 380,191.9 381,193.2 382,192.9 383,193.3 384,192.6 385,193.3 386,193.8 387,193.7 387,197.3 386.5,197 385.5,196.9 384.5,196.6 383.5,196.2 382.5,196.5 381.5,195.8 380.5,195.5 379.5,196 378.5,195.7 377.5,194.9 376.5,195.2 375.5,194.6 374.5,194.7 373.5,194.4 372.5,194.5 371.5,194.6 370.5,194 369.5,195.6 368.5,194.4 367.5,194.3 366.5,193.8 365.5,193.4 364.5,193.1 363.5,193.2 362.5,194.6 361.5,192.7 360.5,193.1 359.5,192.8 358.5,192.2 357.5,192.7 356.5,191.9 355.5,193.5 354.5,192.2 353.5,192 352.5,192 351.5,191.4 350.5,191 349.5,190.9 348.5,191.3 347.5,191.3 346.5,190.9 345.5,192 344.5,191.9 343.5,190.7 342.5,190.5 341.5,191.4 340.5,190.1 339.5,189.5 338.5,189.2 337.5,189.5 336.5,188.9 335.5,190.5 334.5,189.2 333.5,188.3 332.5,188.6 331.5,188.8 330.5,188.7 329.5,188.1 328.5,189.5 327.5,187.5 326.5,187.4 325.5,187.2 324.5,187.1 323.5,187.3 322.5,186.9 321.5,187.3 320.5,187 319.5,186.7 318.5,186.6 317.5,186.3 316.5,186.2 315.5,186.3 314.5,186.2 313.5,186 312.5,186 311.5,185 310.5,185.4" fill="#000" />
<text x="310.9" y="193.5" font-size="7" text-anchor="middle" fill="#111" stroke="#111" stroke-width="0.2">1</text>
<text x="329.9" y="196.1" font-size="7" text-anchor="middle" fill="#111" stroke="#111" stroke-width="0.2">10</text>
<text x="349.3" y="199.3" font-size="7" text-anchor="middle" fill="#111" stroke="#111" stroke-width="0.2">100</text>
<text x="369.1" y="202.3" font-size="7" text-anchor="middle" fill="#111" stroke="#111" stroke-width="0.2">1000</text>
<text x="388.1" y="205.5" font-size="7" text-anchor="middle" fill="#111" stroke="#111" stroke-width="0.2">10000</text>
<polygon points="436,164.5 498.5,165.4 485.4,179.2 422.5,176.8" fill="url(#hatch)" />
<line x1="498.5" y1="165.3" x2="485.4" y2="179.2" stroke="#999" stroke-width="1.1" />
<polygon points="436,164.9 436,164.2 436,163.2 436.1,162.5 436.1,161.9 436.1,161.5 436.1,160.9 436.2,159.6 436.2,158.9 436.2,158.6 436.2,157.8 436.3,157.1 436.3,156.7 436.3,156 436.3,155.4 436.4,154.5 436.4,153.2 436.4,152.6 436.4,152.2 436.5,151.8 436.5,150.4 436.5,150 436.6,149.3 436.6,148.5 436.7,147.8 436.8,147 436.9,146.3 436.9,145.5 437,144.7 437.1,144.4 437.2,143.6 437.2,143.1 437.3,142.3 437.4,141.8 437.5,140.6 437.5,140.4 437.6,139.2 437.7,138.8 437.8,138.2 437.8,137.1 437.9,136.4 438,135.9 438.1,134.8 438.1,134.4 438.2,133.3 438.3,132.7 438.4,132.3 438.4,131.9 438.5,130.8 438.6,130.5 438.6,129.1 438.7,128.3 438.8,127.9 438.9,127.1 438.9,126.3 439,125.9 439.1,125.1 439.1,124.3 439.2,123.6 439.3,122.8 439.3,122.2 439.4,121.7 439.5,120.9 439.6,120.2 439.6,119.4 439.7,118.4 440.6,118.5 441.5,119.3 441.7,120 441.9,120.9 442.1,121.2 442.3,122.1 442.4,122.4 442.6,123.2 442.8,124 443,124.5 443.2,125.5 443.3,124.7 443.4,123.8 443.4,123.6 443.5,122.4 443.6,121.8 443.7,121.4 443.7,120.4 443.8,119.3 443.9,118.7 444,118.3 444,117.2 444.1,116.5 444.2,116.1 444.3,115.3 444.3,114.4 444.4,113.9 444.5,113.1 444.6,112.5 444.7,111.3 444.8,110.7 444.9,110 444.9,109.8 445,108.4 445.1,107.9 445.2,107.1 445.3,106.7 445.4,106.1 445.5,104.8 445.5,104.7 445.6,103.8 445.7,102.7 445.8,102.6 445.9,101.5 446,102.1 446.2,103.2 446.3,103.3 446.4,104.4 446.5,105.1 446.7,106.2 446.8,106.9 446.9,107.4 447,107.7 447.2,108.7 447.3,109.5 447.3,110.1 447.4,111.3 447.4,111.8 447.4,112.3 447.5,112.9 447.5,114 447.6,114.2 447.6,115.4 447.6,116 447.7,116.6 447.7,117.5 447.7,118 447.8,118.5 447.8,119.4 447.9,119.8 447.9,120.6 447.9,121.5 448,122.6 448,122.8 448,123.7 448.1,124.8 448.1,125.4 448.2,126.2 448.2,126.7 448.2,127.4 448.3,128.1 448.3,128.8 448.3,129.4 448.4,130 448.4,130.6 448.5,131.2 448.5,132.2 448.5,133.2 448.6,133.7 448.6,134.4 448.7,134.8 448.8,136.1 448.9,136.2 448.9,137.6 449,138.1 449.1,138.7 449.2,139.3 449.3,140.3 449.4,140.4 449.5,141.1 449.5,142.2 449.6,142.8 449.7,143.6 449.8,144.4 449.9,144.7 450,146.1 450,146.6 450.1,146.9 450.2,148.1 450.3,148.6 450.4,149.4 450.6,150.2 450.8,151 450.9,151.9 451.1,152 451.2,153.4 451.4,153.7 451.5,154.2 451.7,155.1 451.8,155.8 452,157 452.1,157.4 452.5,158.1 452.8,158.5 453.2,159.7 453.5,160.3 453.9,161 454.6,161.6 455.3,161.4 455.9,162.5 456.6,162.9 457.3,162.6 458,163.3 458.7,163.3 459.4,163.1 460.1,163.4 460.8,163.1 461.6,163.7 462.3,163.2 463,163.6 463.7,163.6 464.4,163.3 465.1,163.3 465.8,163.8 466.5,163.2 467.2,163.3 467.9,163.4 468.7,163.6 469.4,163.5 470.1,163.3 470.8,163.7 471.5,163.8 472.2,163.8 472.9,163.7 473.6,163.5 474.3,163.3 475.1,163.7 475.8,163.8 476.5,163.7 477.2,164.1 477.9,163.5 478.6,164 479.3,164 480,164.1 480.7,164.2 481.4,163.6 482.2,164.2 482.9,163.8 483.6,164 484.3,164.3 485,164 485.7,164 486.4,163.6 487.1,164 487.8,163.8 488.6,163.9 489.3,163.9 490,164.4 490.7,164.1 491.4,164.2 492.1,163.8 492.8,163.9 493.5,164.4 494.2,163.8 494.9,164.5 495.7,164.1 496.4,164.1 497.1,164.2 497.8,164.1 498.5,164.2 498.5,165 498.5,165.9 497.8,165.8 497.1,166 496.4,165.7 495.7,165.6 495,165.8 494.3,165.5 493.6,165.8 492.9,165.8 492.2,166 491.5,165.5 490.8,165.7 490.1,166 489.4,165.6 488.7,166 488,165.9 487.3,165.4 486.6,165.6 485.9,165.9 485.2,165.7 484.5,165.8 483.8,166.1 483.1,165.8 482.3,165.7 481.6,165.9 480.9,165.6 480.2,165.3 479.5,165.5 478.8,165.7 478.1,166 477.4,165.7 476.7,165.4 476,166 475.3,165.5 474.6,165.4 473.9,165.6 473.2,165.4 472.5,165.2 471.8,165.7 471.1,165.7 470.4,165.9 469.7,165.2 469,165.8 468.3,165.7 467.6,165.3 466.9,165.5 466.2,165.6 465.5,165.3 464.8,165.1 464.1,165.7 463.4,165.2 462.7,165.4 462,165.4 461.3,165.7 460.6,165.4 459.9,165.3 459.2,165.7 458.5,165.2 457.8,165.5 457.1,165.1 456.4,165.5 455.7,165.5 455,165.6 454.3,165.3 453.6,165.1 452.9,165.4 452.2,165.6 451.4,165.1 450.7,164.9 450,165 449.3,165.6 448.6,164.8 447.9,164.9 447.2,164.9 446.5,165.5 445.8,165.1 445.1,165.3 444.4,165.3 443.7,165.1 443,165.3 442.3,165.1 441.6,165.2 440.9,165 440.2,164.7 439.5,165.2 438.8,164.9 438.1,164.9 437.4,165.4 436.7,164.9 436,165" fill="#d8d8d8" />
<line x1="436" y1="164.8" x2="498.5" y2="165.7" stroke="#aaa" stroke-width="0.9" />
<polygon points="422.5,176.8 485.4,179.2 476.4,193.5 405,188" fill="url(#hatch)" />
<line x1="485.4" y1="179.2" x2="476.4" y2="193.5" stroke="#999" stroke-width="1.1" />
<polygon points="422.8,177.3 422.8,176.2 422.8,175.9 422.8,175 422.8,173.8 422.8,173.4 423,172.6 423.2,172.1 423.4,171.2 423.6,171.1 423.8,170.2 424,169.3 424.3,168.9 424.5,167.6 424.7,167 424.9,166.9 425.1,165.9 425.3,164.9 425.5,164.5 425.6,163.9 425.8,163.3 425.9,162.5 426.1,161.4 426.2,160.7 426.4,160.3 426.6,159.3 426.7,158.7 426.9,158.4 427,157.6 427.1,156.6 427.3,156.5 427.4,155.4 427.6,155.2 427.8,154.3 427.9,153.6 428.1,152.7 428.2,152.1 428.3,151.5 428.4,150.4 428.5,149.7 428.6,149.5 428.7,148.2 428.8,147.6 428.9,147.2 429,146.1 429.1,145.4 429.2,145.1 429.3,143.8 429.4,143.1 429.5,142.9 429.6,141.7 429.7,141 429.8,140.7 429.9,139.7 429.9,138.8 430,138.7 430,137.8 430,137.1 430.1,135.9 430.1,135.2 430.2,134.9 430.2,134.3 430.2,133.1 430.3,132.3 430.3,131.7 430.3,130.9 430.4,130.4 430.4,129.7 430.4,129.1 430.5,128 430.5,127.3 430.5,126.6 430.6,126 430.6,125.2 430.7,125.1 430.7,123.9 430.7,123 430.8,122.7 430.8,121.9 431.4,122.9 432,123.3 432.6,123.7 432.8,123.1 433,122.2 433.1,121.5 433.3,120.7 433.5,120.4 433.7,119.7 433.9,118.7 434,118.3 434.2,117.4 434.4,116.6 434.6,117.5 434.9,117.9 435.1,118.6 435.4,119.3 435.6,120.2 435.7,121.2 435.7,121.9 435.8,122.6 435.8,123.3 435.9,124 435.9,124.4 436,125.4 436.1,125.6 436.1,126.7 436.2,126.9 436.2,128.4 436.3,129 436.3,129.1 436.4,130.3 436.5,131.1 436.5,131.1 436.6,132.3 436.6,132.9 436.7,133.7 436.7,134.7 436.8,135.2 436.9,135.5 436.9,136.5 437,137.2 437,137.5 437.1,138.3 437.1,139.2 437.2,140 437.3,140.5 437.3,141.2 437.4,142.3 437.5,143.2 437.5,143.5 437.6,144.4 437.7,145.2 437.7,145.9 437.8,146.6 437.9,146.7 437.9,148.2 438,148.3 438.1,149 438.1,150 438.2,150.8 438.3,151.6 438.3,152 438.4,153.2 438.5,153.7 438.5,154.6 438.6,155 438.7,155.7 438.9,156 439,156.7 439.2,157.9 439.3,158.4 439.5,159.1 439.6,159.7 439.8,160.3 439.9,161.2 440.1,161.7 440.2,162.9 440.4,163.1 440.5,164 440.8,165 441.2,165.5 441.5,165.8 441.9,166.7 442.2,167.1 442.6,167.7 442.9,168.6 443.2,169.2 443.6,169.3 443.9,170.5 444.3,170.4 444.6,171.4 445.2,171.4 445.8,172.2 446.5,172.5 447.1,173 447.7,173.5 448.3,173.9 448.9,174.7 449.5,175.1 450.1,175 450.8,175.4 451.4,176.1 452,176.4 452.7,176.2 453.4,176.4 454.1,176.7 454.8,176.2 455.6,176.8 456.3,176.8 457,176.6 457.7,176.5 458.4,176.8 459.1,176.6 459.8,177.1 460.5,176.9 461.2,176.7 461.9,177.2 462.7,177 463.4,176.7 464.1,177 464.8,177.1 465.5,177.5 466.2,177 466.9,177.1 467.6,177.6 468.3,177.2 469.1,177.5 469.8,177 470.5,177.3 471.2,177.1 471.9,177.7 472.6,177.5 473.3,177.3 474,177.2 474.7,177.5 475.5,177.3 476.2,177.6 476.9,177.9 477.6,177.6 478.3,177.5 479,177.7 479.7,177.5 480.4,178.1 481.1,177.6 481.8,178.1 482.6,177.8 483.3,178.2 484,178.2 484.7,177.8 485.4,178.1 485.4,179.2 485.4,179.8 484.7,180.1 484,179.8 483.3,179.8 482.6,179.6 481.9,179.4 481.2,179.8 480.5,179.9 479.8,179.4 479.1,179.2 478.4,179.4 477.7,179.6 477,179.4 476.3,179.8 475.6,179.7 474.8,179.7 474.1,179.5 473.4,179.5 472.7,179.7 472,178.9 471.3,179.3 470.6,179 469.9,179.4 469.2,179 468.5,179.3 467.8,179 467.1,179.2 466.4,179.2 465.7,179.4 465,179.3 464.3,178.9 463.6,179.1 462.9,178.7 462.2,178.6 461.5,179.1 460.8,179.2 460.1,179 459.4,178.8 458.7,178.9 458,178.9 457.3,178.8 456.6,178.6 455.9,179 455.2,178.5 454.5,178.9 453.7,178.8 453,178.8 452.3,178.8 451.6,178.9 450.9,178.9 450.2,178.5 449.5,178.3 448.8,178.6 448.1,178.8 447.4,178.5 446.7,177.9 446,177.9 445.3,178.2 444.6,178.5 443.9,178.5 443.2,178.1 442.5,178.2 441.8,178.1 441.1,177.8 440.4,177.7 439.7,178.1 439,178 438.3,178.3 437.6,177.7 436.9,178.2 436.2,177.7 435.5,177.9 434.8,178 434.1,177.6 433.4,178.2 432.6,178.2 431.9,178.1 431.2,177.3 430.5,177.8 429.8,177.8 429.1,178 428.4,177.4 427.7,177.3 427,177.8 426.3,177.4 425.6,177.2 424.9,177.2 424.2,177.6 423.5,177.5 422.8,177.4" fill="#8a8a8a" />
<line x1="422.8" y1="177.2" x2="485.4" y2="179.6" stroke="#777" stroke-width="1.0" />
<polygon points="404.7,191 404.7,190.6 404.7,189.9 404.7,188.3 404.7,188.7 404.7,187.9 404.7,187.2 404.7,186.3 404.7,185.1 404.7,184.3 404.7,184.4 404.7,183 404.7,182.4 404.7,182 404.7,181.2 404.7,180.5 404.7,179.7 404.7,178.9 404.7,178.5 404.7,177.3 404.7,176.4 404.7,176.5 404.7,175.7 404.7,174.8 404.7,173.5 404.7,172.6 404.7,172.9 404.7,172.2 404.7,170.7 404.7,170.4 404.7,169 404.7,168.7 404.7,168.4 404.7,167.3 404.7,167.1 404.7,166.5 404.7,164.9 404.7,164.8 404.7,163.7 404.7,162.8 404.7,162.2 404.7,161.7 404.7,161 405.4,161 406,160 406.2,161.1 406.5,160.9 406.8,161.7 407,163 407.1,162.9 407.3,161.6 407.4,161 407.5,159.9 407.7,159.8 407.8,158.7 408,158 408.1,156.9 408.2,156.8 408.4,155.4 408.5,155 408.9,153.8 409.2,153.6 409.6,153.1 410,152 410.1,151.1 410.3,150.4 410.4,149.5 410.6,149.3 410.8,148.8 410.9,147.4 411.1,147.1 411.2,146.4 411.4,145.2 411.5,145 411.6,144.3 411.7,143.3 411.8,142.5 411.9,142.7 412,140.9 412.1,140.5 412.2,140.1 412.4,139.2 412.5,138 412.6,138.3 412.7,136.8 412.8,136.3 412.9,136.2 413,135 413.1,134.8 413.2,134 413.4,132.6 413.5,132.3 413.6,131.7 413.8,130.1 413.9,130.3 414,129 414.6,128.1 415.2,128.1 415.4,129 415.6,129.2 415.8,129.9 415.9,130.5 416.1,132.1 416.3,131.9 416.5,133 416.6,134.2 416.7,134 416.8,134.9 416.9,135.5 417,137.1 417.1,136.7 417.2,138.3 417.3,138.4 417.4,139.8 417.5,140 417.6,141 417.6,141.1 417.7,142.2 417.8,142.5 417.9,143.5 417.9,143.7 418,145.2 418.1,145.8 418.1,146.2 418.2,146.6 418.3,148.4 418.4,148.1 418.4,149.1 418.5,150 418.6,150.2 418.7,151.3 418.7,152.1 418.8,153 418.9,153.5 419,154.1 419.1,155.5 419.1,155.7 419.2,156.5 419.3,157.4 419.4,158.1 419.5,158.5 419.6,159.8 419.7,159.7 419.8,160.7 419.8,161.6 419.9,162.1 420,163.5 420.1,163.6 420.2,164.5 420.3,165.1 420.3,165.9 420.4,167 420.4,167 420.5,168.5 420.6,169.3 420.6,169.2 420.7,169.8 420.7,171.3 420.8,171.4 420.9,172 420.9,172.6 421,173.9 421,175 421.1,175.2 421.2,176.4 421.4,176.8 421.5,177.3 421.7,178.7 421.8,179.1 422,180.1 422.1,180.6 422.2,181.3 422.4,182 422.5,182.1 422.7,183 422.8,184 423.2,184 423.7,185.6 424.1,186.3 424.6,186.4 425.1,186.4 425.5,186.9 425.9,187.9 426.4,188.5 427.1,188.5 427.8,188.3 428.5,188.3 429.3,189.1 430,189.3 430.7,188.5 431.4,188.9 432.1,189 432.8,189.4 433.6,189.6 434.3,189.4 435,190.1 435.7,189.6 436.4,189.6 437.1,190.2 437.9,190.4 438.6,190.6 439.3,189.8 440,190.3 440.7,190 441.4,190.4 442.1,191 442.9,190.7 443.6,190.7 444.3,190.4 445,191.3 445.7,190.3 446.4,190.9 447.1,191 447.9,191.3 448.6,191.3 449.3,190.9 450,190.8 450.7,191.7 451.4,191.2 452.1,190.9 452.9,190.8 453.6,191.7 454.3,191.8 455,191.5 455.7,191.3 456.4,191.7 457.1,192.2 457.9,191.7 458.6,192 459.3,192.2 460,191.8 460.7,192.2 461.5,191.9 462.2,191.6 462.9,192.3 463.6,192.5 464.4,192.7 465.1,191.8 465.8,191.8 466.5,192.5 467.3,192.7 468,191.9 468.7,192.6 469.5,192.2 470.2,193.2 470.9,192.5 471.6,192.2 472.4,193.1 473.1,192.5 473.8,192.7 474.5,192.4 475.3,192.7 476,193 476,193.3 476,194.1 476,195.2 476,195.6 476,196.5 475.3,196.7 474.5,196.9 473.8,196.5 473.1,195.8 472.4,196.8 471.6,195.9 470.9,196 470.2,196.2 469.5,196.2 468.7,195.9 468,195.9 467.3,196.1 466.5,195.9 465.8,195.6 465.1,195.7 464.4,195.6 463.6,195.5 462.9,195.8 462.2,195.7 461.5,195.5 460.7,195.8 460,195.5 459.3,195.8 458.6,195.6 457.9,195.1 457.1,195.8 456.4,194.8 455.7,195.5 455,195 454.3,194.9 453.6,195.4 452.9,195.2 452.1,195.5 451.4,195.3 450.7,194.3 450,194.8 449.3,195 448.6,194.1 447.9,194.6 447.1,195.1 446.4,194.2 445.7,194 445,194.1 444.3,194.1 443.6,194 442.9,194.1 442.1,194.6 441.4,194.1 440.7,194.2 440,194 439.3,193.5 438.6,193.4 437.9,194.4 437.1,193.6 436.4,194.3 435.7,193.5 435,193.8 434.3,193.8 433.6,193 432.9,192.9 432.1,193.3 431.4,192.9 430.7,193.1 430,192.9 429.3,193 428.6,193.1 427.9,192.9 427.1,192.8 426.4,193 425.7,193.1 425,192.3 424.3,193.4 423.6,192.7 422.9,193.2 422.1,192.1 421.4,192.1 420.7,192.1 420,192.5 419.3,192.9 418.5,192.3 417.8,192.7 417.1,192.4 416.4,191.6 415.6,191.9 414.9,191.8 414.2,191.9 413.4,192.2 412.7,191.3 412,192.2 411.3,191.6 410.5,191.4 409.8,191.7 409.1,191.2 408.3,191.6 407.6,191.2 406.9,191.2 406.2,190.8 405.4,190.7 404.7,191" fill="#000" />
<text x="405.6" y="199.6" font-size="7" text-anchor="middle" fill="#111" stroke="#111" stroke-width="0.2">1</text>
<text x="422.5" y="200.9" font-size="7" text-anchor="middle" fill="#111" stroke="#111" stroke-width="0.2">10</text>
<text x="442.6" y="202.8" font-size="7" text-anchor="middle" fill="#111" stroke="#111" stroke-width="0.2">100</text>
<text x="460.6" y="203.8" font-size="7" text-anchor="middle" fill="#111" stroke="#111" stroke-width="0.2">1000</text>
<text x="477.5" y="205.1" font-size="7" text-anchor="middle" fill="#111" stroke="#111" stroke-width="0.2">10000</text>
<rect x="461" y="102" width="16" height="46.5" fill="#000" />
<rect x="463.8" y="120" width="9.3" height="9" fill="#737373" />
<rect x="463.8" y="136.3" width="9.3" height="8.7" fill="#d8d8d8" />
<text x="477.23" y="113.60" font-size="12.72" font-weight="bold" textLength="13.73" lengthAdjust="spacingAndGlyphs" fill="#000" >wt</text>
<text x="477.23" y="129.30" font-size="11.72" font-weight="bold" textLength="31.16" lengthAdjust="spacingAndGlyphs" fill="#000" >wt/KI</text>
<text x="477.12" y="145.50" font-size="11.31" font-weight="bold" textLength="29.56" lengthAdjust="spacingAndGlyphs" fill="#000" >KI/KI</text>
<text x="6.11" y="284.80" font-size="31.71" font-weight="bold" textLength="23.44" lengthAdjust="spacingAndGlyphs" fill="#000" >B</text>
<polygon points="16.5,307.8 11,318.5 22,318.5" fill="#000" />
<rect x="15.5" y="318" width="2" height="109.7" fill="#000" />
<rect x="15.5" y="492.3" width="2" height="120.5" fill="#000" />
<text transform="translate(22.40,483.00) rotate(-90)" x="-0.66" y="0" font-size="17.24" font-weight="bold" textLength="51.01" lengthAdjust="spacingAndGlyphs" fill="#000" >CD11b</text>
<path d="M79 427h1v1h-1zM78 419h1v1h-1zM65 423h1v1h-1zM68 424h1v1h-1zM81 421h1v1h-1zM68 425h1v1h-1zM66 425h1v1h-1zM72 422h1v1h-1zM75 420h1v1h-1zM67 426h1v1h-1zM74 416h1v1h-1zM72 423h1v1h-1zM65 419h1v1h-1zM69 427h1v1h-1zM76 423h1v1h-1zM67 417h1v1h-1zM63 421h1v1h-1zM72 409h1v1h-1zM74 416h1v1h-1zM67 416h1v1h-1zM73 419h1v1h-1zM67 420h1v1h-1zM71 421h1v1h-1zM77 423h1v1h-1zM64 426h1v1h-1zM73 422h1v1h-1zM79 427h1v1h-1zM72 422h1v1h-1zM76 425h1v1h-1zM73 425h1v1h-1zM73 415h1v1h-1zM71 419h1v1h-1zM66 424h1v1h-1zM71 424h1v1h-1zM68 426h1v1h-1zM77 427h1v1h-1zM68 416h1v1h-1zM78 414h1v1h-1zM75 422h1v1h-1zM72 422h1v1h-1zM68 420h1v1h-1zM78 416h1v1h-1zM71 423h1v1h-1zM80 425h1v1h-1zM65 427h1v1h-1zM74 423h1v1h-1zM72 421h1v1h-1zM71 426h1v1h-1zM71 427h1v1h-1zM67 409h1v1h-1zM79 427h1v1h-1zM73 423h1v1h-1zM69 425h1v1h-1zM79 423h1v1h-1zM88 422h1v1h-1zM73 420h1v1h-1zM67 423h1v1h-1zM66 421h1v1h-1zM69 421h1v1h-1zM65 421h1v1h-1zM73 412h1v1h-1zM73 413h1v1h-1zM75 425h1v1h-1zM76 422h1v1h-1zM68 420h1v1h-1zM64 425h1v1h-1zM65 420h1v1h-1zM71 424h1v1h-1zM66 426h1v1h-1zM68 420h1v1h-1zM71 422h1v1h-1zM77 426h1v1h-1zM64 421h1v1h-1zM64 416h1v1h-1zM84 412h1v1h-1zM75 426h1v1h-1zM82 426h1v1h-1zM85 416h1v1h-1zM72 423h1v1h-1zM72 421h1v1h-1zM73 422h1v1h-1zM70 426h1v1h-1zM65 423h1v1h-1zM73 426h1v1h-1zM71 423h1v1h-1zM71 421h1v1h-1zM70 420h1v1h-1zM68 425h1v1h-1zM73 426h1v1h-1zM75 411h1v1h-1zM63 426h1v1h-1zM63 427h1v1h-1zM65 413h1v1h-1zM65 427h1v1h-1zM79 426h1v1h-1zM69 418h1v1h-1zM69 426h1v1h-1zM71 418h1v1h-1zM71 424h1v1h-1zM76 425h1v1h-1zM70 419h1v1h-1zM71 419h1v1h-1zM68 427h1v1h-1zM74 423h1v1h-1zM75 418h1v1h-1zM65 424h1v1h-1zM72 418h1v1h-1zM76 427h1v1h-1zM66 426h1v1h-1zM68 425h1v1h-1zM70 425h1v1h-1zM75 426h1v1h-1zM69 427h1v1h-1zM77 426h1v1h-1zM70 420h1v1h-1zM73 424h1v1h-1zM67 421h1v1h-1zM67 420h1v1h-1zM66 417h1v1h-1zM66 423h1v1h-1zM74 417h1v1h-1zM76 418h1v1h-1zM77 426h1v1h-1zM66 424h1v1h-1zM64 415h1v1h-1zM78 415h1v1h-1zM72 425h1v1h-1zM80 411h1v1h-1zM73 421h1v1h-1zM69 414h1v1h-1zM71 418h1v1h-1zM64 419h1v1h-1zM71 427h1v1h-1zM74 421h1v1h-1zM70 414h1v1h-1zM69 417h1v1h-1zM72 416h1v1h-1zM67 417h1v1h-1zM70 417h1v1h-1zM71 423h1v1h-1zM73 426h1v1h-1zM71 426h1v1h-1zM71 421h1v1h-1zM64 427h1v1h-1zM71 426h1v1h-1zM65 421h1v1h-1zM67 423h1v1h-1zM66 425h1v1h-1zM70 424h1v1h-1zM71 419h1v1h-1zM67 419h1v1h-1zM72 422h1v1h-1zM64 419h1v1h-1zM70 422h1v1h-1zM75 421h1v1h-1zM70 416h1v1h-1zM70 416h1v1h-1zM88 418h1v1h-1zM68 420h1v1h-1zM74 410h1v1h-1zM68 416h1v1h-1zM83 420h1v1h-1zM76 414h1v1h-1zM70 424h1v1h-1zM69 427h1v1h-1zM71 414h1v1h-1zM78 422h1v1h-1zM66 416h1v1h-1zM70 420h1v1h-1zM63 424h1v1h-1zM65 421h1v1h-1zM64 424h1v1h-1zM76 416h1v1h-1zM73 423h1v1h-1zM67 425h1v1h-1zM77 421h1v1h-1zM72 413h1v1h-1zM67 423h1v1h-1zM73 423h1v1h-1zM79 424h1v1h-1zM73 422h1v1h-1zM76 422h1v1h-1zM68 420h1v1h-1zM71 419h1v1h-1zM66 418h1v1h-1zM72 421h1v1h-1zM71 420h1v1h-1zM75 418h1v1h-1zM73 413h1v1h-1zM65 417h1v1h-1zM76 421h1v1h-1zM72 423h1v1h-1zM65 424h1v1h-1zM63 423h1v1h-1zM70 421h1v1h-1zM71 421h1v1h-1zM73 414h1v1h-1zM65 424h1v1h-1zM65 424h1v1h-1zM72 418h1v1h-1zM72 424h1v1h-1zM72 423h1v1h-1zM63 423h1v1h-1zM73 423h1v1h-1zM67 420h1v1h-1zM69 424h1v1h-1zM67 414h1v1h-1zM74 426h1v1h-1zM69 420h1v1h-1zM65 425h1v1h-1zM73 425h1v1h-1zM67 417h1v1h-1zM76 426h1v1h-1zM70 418h1v1h-1zM69 420h1v1h-1zM70 424h1v1h-1zM70 419h1v1h-1zM68 424h1v1h-1zM82 420h1v1h-1zM65 427h1v1h-1zM63 426h1v1h-1zM70 426h1v1h-1zM66 422h1v1h-1zM63 423h1v1h-1zM66 423h1v1h-1zM67 424h1v1h-1zM77 425h1v1h-1zM81 415h1v1h-1zM67 423h1v1h-1zM73 423h1v1h-1zM87 424h1v1h-1zM74 425h1v1h-1zM70 425h1v1h-1zM67 426h1v1h-1zM74 424h1v1h-1zM64 426h1v1h-1zM71 422h1v1h-1zM70 416h1v1h-1zM77 421h1v1h-1zM66 422h1v1h-1zM68 423h1v1h-1zM71 413h1v1h-1zM77 418h1v1h-1zM63 420h1v1h-1zM67 416h1v1h-1zM78 418h1v1h-1zM66 414h1v1h-1zM71 425h1v1h-1zM72 421h1v1h-1zM63 416h1v1h-1zM70 423h1v1h-1zM77 414h1v1h-1zM68 424h1v1h-1zM72 417h1v1h-1zM69 422h1v1h-1zM75 418h1v1h-1zM79 424h1v1h-1zM63 422h1v1h-1zM68 420h1v1h-1zM73 415h1v1h-1zM75 416h1v1h-1zM65 423h1v1h-1zM70 421h1v1h-1zM69 427h1v1h-1zM73 427h1v1h-1zM71 421h1v1h-1zM65 426h1v1h-1zM70 427h1v1h-1zM76 406h1v1h-1zM77 416h1v1h-1zM66 426h1v1h-1zM71 422h1v1h-1zM66 414h1v1h-1zM64 425h1v1h-1zM73 421h1v1h-1zM70 422h1v1h-1zM73 425h1v1h-1zM81 417h1v1h-1zM75 426h1v1h-1zM73 426h1v1h-1zM75 427h1v1h-1zM80 414h1v1h-1zM63 424h1v1h-1zM76 425h1v1h-1zM71 419h1v1h-1zM86 417h1v1h-1zM65 426h1v1h-1zM67 414h1v1h-1zM73 417h1v1h-1zM71 419h1v1h-1zM81 425h1v1h-1zM83 424h1v1h-1zM82 412h1v1h-1zM69 427h1v1h-1zM68 417h1v1h-1zM71 422h1v1h-1zM78 423h1v1h-1zM77 425h1v1h-1zM68 419h1v1h-1zM68 427h1v1h-1zM78 424h1v1h-1zM69 426h1v1h-1zM67 418h1v1h-1zM72 424h1v1h-1zM65 423h1v1h-1zM66 422h1v1h-1zM72 424h1v1h-1zM64 418h1v1h-1zM72 422h1v1h-1zM71 427h1v1h-1zM87 415h1v1h-1zM78 419h1v1h-1zM76 423h1v1h-1zM77 425h1v1h-1zM63 420h1v1h-1zM75 418h1v1h-1zM70 424h1v1h-1zM66 419h1v1h-1zM67 422h1v1h-1zM74 423h1v1h-1zM82 421h1v1h-1zM81 422h1v1h-1zM68 425h1v1h-1zM64 415h1v1h-1zM67 419h1v1h-1zM80 420h1v1h-1zM71 415h1v1h-1zM68 421h1v1h-1zM75 426h1v1h-1zM66 425h1v1h-1zM70 427h1v1h-1zM72 418h1v1h-1zM68 422h1v1h-1zM84 427h1v1h-1zM74 426h1v1h-1zM71 419h1v1h-1zM68 425h1v1h-1zM64 427h1v1h-1zM65 424h1v1h-1zM84 417h1v1h-1zM65 426h1v1h-1zM79 410h1v1h-1zM68 424h1v1h-1zM76 422h1v1h-1zM69 423h1v1h-1zM78 415h1v1h-1zM79 419h1v1h-1zM79 417h1v1h-1zM67 426h1v1h-1zM76 427h1v1h-1zM70 421h1v1h-1zM68 426h1v1h-1zM65 426h1v1h-1zM66 426h1v1h-1zM74 425h1v1h-1zM64 424h1v1h-1zM76 426h1v1h-1zM70 419h1v1h-1zM71 427h1v1h-1zM66 423h1v1h-1zM67 421h1v1h-1zM71 427h1v1h-1zM81 423h1v1h-1zM65 422h1v1h-1zM79 420h1v1h-1zM71 420h1v1h-1zM65 423h1v1h-1zM70 424h1v1h-1zM78 418h1v1h-1zM79 426h1v1h-1zM73 418h1v1h-1zM69 426h1v1h-1zM63 426h1v1h-1zM71 423h1v1h-1zM64 422h1v1h-1zM87 408h1v1h-1zM78 421h1v1h-1zM78 417h1v1h-1zM77 425h1v1h-1zM67 411h1v1h-1zM69 415h1v1h-1zM78 426h1v1h-1zM66 427h1v1h-1zM85 418h1v1h-1zM82 425h1v1h-1zM76 418h1v1h-1zM68 426h1v1h-1zM73 425h1v1h-1zM74 414h1v1h-1zM71 418h1v1h-1zM74 417h1v1h-1zM78 425h1v1h-1zM65 421h1v1h-1zM75 424h1v1h-1zM73 417h1v1h-1zM72 408h1v1h-1zM65 416h1v1h-1zM64 424h1v1h-1zM73 425h1v1h-1zM73 426h1v1h-1zM88 422h1v1h-1zM71 418h1v1h-1zM77 425h1v1h-1zM83 420h1v1h-1zM69 412h1v1h-1zM81 422h1v1h-1zM71 413h1v1h-1zM72 424h1v1h-1zM70 418h1v1h-1zM77 419h1v1h-1zM68 422h1v1h-1zM69 418h1v1h-1zM77 419h1v1h-1zM71 418h1v1h-1zM73 406h1v1h-1zM80 421h1v1h-1zM76 421h1v1h-1zM71 424h1v1h-1zM70 419h1v1h-1zM77 420h1v1h-1zM64 426h1v1h-1zM68 424h1v1h-1zM71 425h1v1h-1zM85 411h1v1h-1zM64 424h1v1h-1zM71 417h1v1h-1zM73 425h1v1h-1zM72 423h1v1h-1zM72 420h1v1h-1zM69 425h1v1h-1zM71 418h1v1h-1zM69 422h1v1h-1zM79 427h1v1h-1zM73 426h1v1h-1zM71 423h1v1h-1zM66 424h1v1h-1zM67 427h1v1h-1zM85 421h1v1h-1zM87 415h1v1h-1zM81 421h1v1h-1zM72 419h1v1h-1zM70 424h1v1h-1zM66 421h1v1h-1zM70 421h1v1h-1zM68 414h1v1h-1zM79 425h1v1h-1zM76 425h1v1h-1zM72 423h1v1h-1zM69 418h1v1h-1zM64 427h1v1h-1zM74 420h1v1h-1zM67 425h1v1h-1zM63 418h1v1h-1zM75 424h1v1h-1zM76 424h1v1h-1zM75 414h1v1h-1zM76 422h1v1h-1zM70 421h1v1h-1zM65 423h1v1h-1zM75 413h1v1h-1zM75 423h1v1h-1zM78 427h1v1h-1zM63 424h1v1h-1zM69 424h1v1h-1zM80 417h1v1h-1zM68 423h1v1h-1zM76 424h1v1h-1zM73 425h1v1h-1zM79 425h1v1h-1zM78 420h1v1h-1zM73 427h1v1h-1zM69 425h1v1h-1zM85 425h1v1h-1zM68 416h1v1h-1zM71 427h1v1h-1zM68 418h1v1h-1zM70 419h1v1h-1zM70 422h1v1h-1zM74 426h1v1h-1zM64 419h1v1h-1zM64 426h1v1h-1zM72 427h1v1h-1zM70 427h1v1h-1zM68 419h1v1h-1zM86 420h1v1h-1zM67 423h1v1h-1zM66 417h1v1h-1zM73 427h1v1h-1zM73 424h1v1h-1zM68 424h1v1h-1zM69 415h1v1h-1zM86 426h1v1h-1zM68 423h1v1h-1zM67 418h1v1h-1zM75 424h1v1h-1zM70 414h1v1h-1zM74 420h1v1h-1zM68 420h1v1h-1zM87 416h1v1h-1zM71 422h1v1h-1zM79 422h1v1h-1zM68 415h1v1h-1zM77 418h1v1h-1zM65 424h1v1h-1zM79 427h1v1h-1zM66 419h1v1h-1zM67 424h1v1h-1zM73 427h1v1h-1zM70 423h1v1h-1zM69 427h1v1h-1zM70 424h1v1h-1zM69 423h1v1h-1zM73 409h1v1h-1zM70 424h1v1h-1zM71 424h1v1h-1zM72 421h1v1h-1zM68 422h1v1h-1zM72 423h1v1h-1zM67 416h1v1h-1zM76 427h1v1h-1zM68 416h1v1h-1zM70 423h1v1h-1zM69 426h1v1h-1zM66 409h1v1h-1zM83 426h1v1h-1zM66 427h1v1h-1zM74 423h1v1h-1zM72 423h1v1h-1zM75 426h1v1h-1zM78 422h1v1h-1zM71 422h1v1h-1zM90 421h1v1h-1zM71 423h1v1h-1zM66 421h1v1h-1zM65 427h1v1h-1zM71 426h1v1h-1zM80 418h1v1h-1zM64 422h1v1h-1zM74 403h1v1h-1zM83 415h1v1h-1zM71 422h1v1h-1zM66 414h1v1h-1zM71 415h1v1h-1zM68 420h1v1h-1zM66 425h1v1h-1zM81 423h1v1h-1zM74 422h1v1h-1zM76 421h1v1h-1zM64 424h1v1h-1zM67 415h1v1h-1z" fill="#000" fill-opacity="0.85"/>
<path d="M96 393h1v1h-1zM89 375h1v1h-1zM65 412h1v1h-1zM97 399h1v1h-1zM70 376h1v1h-1zM115 368h1v1h-1zM108 353h1v1h-1zM66 386h1v1h-1zM98 348h1v1h-1zM88 410h1v1h-1zM77 381h1v1h-1zM138 368h1v1h-1zM101 426h1v1h-1zM69 365h1v1h-1zM121 362h1v1h-1zM88 385h1v1h-1zM138 352h1v1h-1zM135 373h1v1h-1zM88 403h1v1h-1zM113 363h1v1h-1zM83 389h1v1h-1zM111 375h1v1h-1zM158 346h1v1h-1zM84 373h1v1h-1zM64 366h1v1h-1zM145 362h1v1h-1zM63 417h1v1h-1zM84 426h1v1h-1zM85 394h1v1h-1zM150 348h1v1h-1zM68 396h1v1h-1zM80 352h1v1h-1zM105 409h1v1h-1zM75 399h1v1h-1zM74 360h1v1h-1zM98 348h1v1h-1zM110 388h1v1h-1zM117 402h1v1h-1zM79 365h1v1h-1zM100 408h1v1h-1zM136 368h1v1h-1zM110 366h1v1h-1zM114 349h1v1h-1zM84 424h1v1h-1zM111 365h1v1h-1zM100 423h1v1h-1zM72 409h1v1h-1zM154 345h1v1h-1zM113 395h1v1h-1zM83 396h1v1h-1zM106 419h1v1h-1zM79 347h1v1h-1zM84 414h1v1h-1zM104 354h1v1h-1zM69 387h1v1h-1zM140 372h1v1h-1zM74 369h1v1h-1zM95 375h1v1h-1zM67 363h1v1h-1zM83 356h1v1h-1zM98 421h1v1h-1zM89 425h1v1h-1zM82 395h1v1h-1zM88 424h1v1h-1zM72 383h1v1h-1zM121 350h1v1h-1zM120 390h1v1h-1zM73 423h1v1h-1zM76 388h1v1h-1zM67 369h1v1h-1zM139 363h1v1h-1zM116 368h1v1h-1zM99 394h1v1h-1zM113 357h1v1h-1zM105 387h1v1h-1zM81 375h1v1h-1zM66 392h1v1h-1zM67 426h1v1h-1zM70 416h1v1h-1zM103 408h1v1h-1zM81 385h1v1h-1zM76 426h1v1h-1zM118 372h1v1h-1zM119 400h1v1h-1zM66 415h1v1h-1zM114 349h1v1h-1zM90 377h1v1h-1zM70 405h1v1h-1zM75 423h1v1h-1zM111 392h1v1h-1zM81 366h1v1h-1zM96 390h1v1h-1zM84 408h1v1h-1zM103 415h1v1h-1zM133 365h1v1h-1zM99 420h1v1h-1zM99 347h1v1h-1zM93 370h1v1h-1zM100 400h1v1h-1zM108 418h1v1h-1zM91 394h1v1h-1zM86 349h1v1h-1zM81 423h1v1h-1zM89 413h1v1h-1zM86 426h1v1h-1zM136 371h1v1h-1zM113 350h1v1h-1zM117 386h1v1h-1zM85 409h1v1h-1zM101 348h1v1h-1zM126 383h1v1h-1zM85 349h1v1h-1zM77 402h1v1h-1zM85 421h1v1h-1zM66 427h1v1h-1zM69 411h1v1h-1zM91 397h1v1h-1zM112 367h1v1h-1zM124 394h1v1h-1zM67 411h1v1h-1zM65 354h1v1h-1zM108 384h1v1h-1zM126 382h1v1h-1zM68 362h1v1h-1zM81 376h1v1h-1zM94 413h1v1h-1zM119 349h1v1h-1zM101 420h1v1h-1zM90 420h1v1h-1zM133 378h1v1h-1zM80 384h1v1h-1zM97 414h1v1h-1zM105 373h1v1h-1zM77 425h1v1h-1zM106 393h1v1h-1zM140 350h1v1h-1zM111 355h1v1h-1zM111 382h1v1h-1zM93 364h1v1h-1zM126 376h1v1h-1zM79 414h1v1h-1zM114 358h1v1h-1zM102 381h1v1h-1zM96 382h1v1h-1zM148 349h1v1h-1zM108 386h1v1h-1zM92 406h1v1h-1zM103 398h1v1h-1zM109 386h1v1h-1zM87 357h1v1h-1zM86 360h1v1h-1zM96 400h1v1h-1zM69 392h1v1h-1zM117 379h1v1h-1zM113 363h1v1h-1zM76 417h1v1h-1zM134 379h1v1h-1zM94 422h1v1h-1zM136 360h1v1h-1zM117 370h1v1h-1zM110 351h1v1h-1zM75 410h1v1h-1zM69 419h1v1h-1zM118 385h1v1h-1zM79 362h1v1h-1zM70 416h1v1h-1zM81 422h1v1h-1zM89 421h1v1h-1zM120 373h1v1h-1zM75 398h1v1h-1zM92 418h1v1h-1zM70 366h1v1h-1zM78 417h1v1h-1zM105 366h1v1h-1zM63 390h1v1h-1zM67 423h1v1h-1zM128 346h1v1h-1zM83 402h1v1h-1zM86 398h1v1h-1zM96 369h1v1h-1zM71 392h1v1h-1zM145 361h1v1h-1zM124 388h1v1h-1zM92 413h1v1h-1zM67 388h1v1h-1zM119 360h1v1h-1zM103 410h1v1h-1zM83 379h1v1h-1zM70 384h1v1h-1zM116 374h1v1h-1zM96 403h1v1h-1zM79 415h1v1h-1zM81 376h1v1h-1zM143 359h1v1h-1zM66 394h1v1h-1zM74 422h1v1h-1zM99 363h1v1h-1zM99 389h1v1h-1zM78 375h1v1h-1zM85 425h1v1h-1zM69 365h1v1h-1zM90 402h1v1h-1zM68 355h1v1h-1zM79 413h1v1h-1zM71 407h1v1h-1zM72 371h1v1h-1zM139 371h1v1h-1zM96 359h1v1h-1zM64 416h1v1h-1zM89 383h1v1h-1zM71 427h1v1h-1zM101 415h1v1h-1zM116 379h1v1h-1zM120 355h1v1h-1zM100 382h1v1h-1zM65 382h1v1h-1zM118 354h1v1h-1zM81 406h1v1h-1zM78 386h1v1h-1zM107 363h1v1h-1zM72 417h1v1h-1zM139 373h1v1h-1zM85 426h1v1h-1zM104 403h1v1h-1zM66 418h1v1h-1zM64 397h1v1h-1zM69 416h1v1h-1zM94 396h1v1h-1zM98 401h1v1h-1zM133 370h1v1h-1zM96 379h1v1h-1zM86 392h1v1h-1zM69 353h1v1h-1zM80 393h1v1h-1zM67 427h1v1h-1zM141 365h1v1h-1zM93 411h1v1h-1zM67 394h1v1h-1zM112 371h1v1h-1zM101 365h1v1h-1zM110 401h1v1h-1zM91 346h1v1h-1zM85 412h1v1h-1zM70 380h1v1h-1zM135 357h1v1h-1zM67 426h1v1h-1zM102 375h1v1h-1zM89 385h1v1h-1zM77 412h1v1h-1zM98 411h1v1h-1zM102 367h1v1h-1zM99 413h1v1h-1zM114 403h1v1h-1zM99 366h1v1h-1zM82 407h1v1h-1zM140 369h1v1h-1zM128 374h1v1h-1zM69 423h1v1h-1zM134 370h1v1h-1zM107 380h1v1h-1zM90 403h1v1h-1zM69 384h1v1h-1zM70 391h1v1h-1zM134 364h1v1h-1zM85 349h1v1h-1zM86 405h1v1h-1zM78 425h1v1h-1zM81 403h1v1h-1zM89 382h1v1h-1zM74 412h1v1h-1zM102 420h1v1h-1zM85 416h1v1h-1zM84 359h1v1h-1zM76 372h1v1h-1zM96 423h1v1h-1zM103 408h1v1h-1zM103 411h1v1h-1zM86 424h1v1h-1zM87 360h1v1h-1zM71 409h1v1h-1zM85 385h1v1h-1zM66 401h1v1h-1zM72 427h1v1h-1zM69 373h1v1h-1zM71 380h1v1h-1zM68 392h1v1h-1zM78 419h1v1h-1zM113 405h1v1h-1zM125 390h1v1h-1zM66 415h1v1h-1zM101 384h1v1h-1zM91 419h1v1h-1zM117 351h1v1h-1zM93 390h1v1h-1zM84 347h1v1h-1zM102 348h1v1h-1zM63 427h1v1h-1zM110 375h1v1h-1zM100 413h1v1h-1zM67 380h1v1h-1zM153 355h1v1h-1zM71 395h1v1h-1zM130 377h1v1h-1zM137 376h1v1h-1zM80 418h1v1h-1zM112 398h1v1h-1zM90 409h1v1h-1zM77 393h1v1h-1zM116 367h1v1h-1zM76 421h1v1h-1zM70 386h1v1h-1zM111 391h1v1h-1zM71 401h1v1h-1zM143 360h1v1h-1zM71 404h1v1h-1zM85 364h1v1h-1zM94 427h1v1h-1zM113 396h1v1h-1zM77 424h1v1h-1zM112 359h1v1h-1zM133 376h1v1h-1zM74 416h1v1h-1zM75 402h1v1h-1zM66 423h1v1h-1zM121 356h1v1h-1zM122 355h1v1h-1zM71 355h1v1h-1zM112 382h1v1h-1zM75 411h1v1h-1zM91 395h1v1h-1zM101 376h1v1h-1zM95 398h1v1h-1zM86 389h1v1h-1zM90 426h1v1h-1zM71 414h1v1h-1zM135 362h1v1h-1zM87 381h1v1h-1zM125 364h1v1h-1zM106 375h1v1h-1zM93 377h1v1h-1zM84 413h1v1h-1zM100 372h1v1h-1zM78 423h1v1h-1zM86 405h1v1h-1zM99 420h1v1h-1zM79 373h1v1h-1zM100 410h1v1h-1zM131 366h1v1h-1zM138 351h1v1h-1zM66 372h1v1h-1zM149 349h1v1h-1zM128 365h1v1h-1zM120 352h1v1h-1zM74 375h1v1h-1zM130 365h1v1h-1zM108 364h1v1h-1zM70 423h1v1h-1zM95 407h1v1h-1zM69 381h1v1h-1zM98 407h1v1h-1zM76 357h1v1h-1zM63 422h1v1h-1zM80 406h1v1h-1zM94 405h1v1h-1zM116 361h1v1h-1zM82 361h1v1h-1zM69 347h1v1h-1zM134 349h1v1h-1zM132 377h1v1h-1zM102 422h1v1h-1zM67 361h1v1h-1zM66 423h1v1h-1zM81 401h1v1h-1zM88 414h1v1h-1zM64 401h1v1h-1zM65 421h1v1h-1zM109 402h1v1h-1zM132 385h1v1h-1zM87 394h1v1h-1zM113 389h1v1h-1zM123 355h1v1h-1zM127 359h1v1h-1zM78 424h1v1h-1zM136 370h1v1h-1zM70 364h1v1h-1zM82 353h1v1h-1zM97 401h1v1h-1zM81 352h1v1h-1zM119 386h1v1h-1zM113 394h1v1h-1zM113 390h1v1h-1zM114 399h1v1h-1zM108 374h1v1h-1zM72 388h1v1h-1zM87 356h1v1h-1zM89 420h1v1h-1zM102 399h1v1h-1zM106 394h1v1h-1zM81 362h1v1h-1zM127 383h1v1h-1zM85 419h1v1h-1zM71 408h1v1h-1zM125 388h1v1h-1zM116 364h1v1h-1zM113 372h1v1h-1zM104 378h1v1h-1zM98 385h1v1h-1zM97 413h1v1h-1zM87 427h1v1h-1zM76 368h1v1h-1zM94 378h1v1h-1zM129 346h1v1h-1zM134 369h1v1h-1zM72 412h1v1h-1zM65 397h1v1h-1zM70 405h1v1h-1zM84 390h1v1h-1zM63 402h1v1h-1zM97 427h1v1h-1zM77 403h1v1h-1zM70 383h1v1h-1zM66 419h1v1h-1zM86 418h1v1h-1zM80 414h1v1h-1zM110 369h1v1h-1zM91 367h1v1h-1zM93 392h1v1h-1zM85 351h1v1h-1zM75 408h1v1h-1zM81 392h1v1h-1zM96 419h1v1h-1zM64 402h1v1h-1zM102 400h1v1h-1zM106 407h1v1h-1zM81 353h1v1h-1zM82 401h1v1h-1zM72 424h1v1h-1zM89 384h1v1h-1zM144 355h1v1h-1zM95 414h1v1h-1zM67 390h1v1h-1zM120 402h1v1h-1zM111 375h1v1h-1zM105 407h1v1h-1zM104 412h1v1h-1zM149 349h1v1h-1zM127 362h1v1h-1zM80 373h1v1h-1zM116 377h1v1h-1zM121 351h1v1h-1zM115 396h1v1h-1zM82 422h1v1h-1zM147 345h1v1h-1zM100 374h1v1h-1zM89 368h1v1h-1zM70 348h1v1h-1zM73 384h1v1h-1zM82 353h1v1h-1zM119 402h1v1h-1zM109 352h1v1h-1zM79 390h1v1h-1zM135 366h1v1h-1zM92 411h1v1h-1zM78 393h1v1h-1zM105 386h1v1h-1zM63 390h1v1h-1zM106 352h1v1h-1zM92 395h1v1h-1zM66 357h1v1h-1zM89 424h1v1h-1zM63 416h1v1h-1zM69 419h1v1h-1zM95 418h1v1h-1zM87 383h1v1h-1zM91 424h1v1h-1zM100 375h1v1h-1zM99 357h1v1h-1zM113 352h1v1h-1zM120 396h1v1h-1zM73 375h1v1h-1zM103 395h1v1h-1zM118 398h1v1h-1zM99 420h1v1h-1zM87 427h1v1h-1zM105 356h1v1h-1zM104 382h1v1h-1zM70 405h1v1h-1zM98 356h1v1h-1zM99 423h1v1h-1zM81 400h1v1h-1zM71 427h1v1h-1zM102 364h1v1h-1zM133 356h1v1h-1zM108 410h1v1h-1zM148 362h1v1h-1zM153 349h1v1h-1zM66 414h1v1h-1zM101 348h1v1h-1zM90 405h1v1h-1zM113 372h1v1h-1zM68 388h1v1h-1zM80 404h1v1h-1zM86 382h1v1h-1zM83 391h1v1h-1zM80 391h1v1h-1zM73 379h1v1h-1zM114 367h1v1h-1zM86 356h1v1h-1zM76 364h1v1h-1zM143 357h1v1h-1zM82 402h1v1h-1zM72 424h1v1h-1zM67 378h1v1h-1zM90 349h1v1h-1zM97 393h1v1h-1zM76 412h1v1h-1zM71 360h1v1h-1zM66 361h1v1h-1zM103 422h1v1h-1zM120 366h1v1h-1zM78 426h1v1h-1zM75 373h1v1h-1zM104 388h1v1h-1zM104 378h1v1h-1zM88 422h1v1h-1zM144 364h1v1h-1zM88 365h1v1h-1zM142 360h1v1h-1zM85 400h1v1h-1zM112 412h1v1h-1zM129 387h1v1h-1zM91 373h1v1h-1zM99 367h1v1h-1zM117 396h1v1h-1zM126 381h1v1h-1zM67 378h1v1h-1zM95 383h1v1h-1zM68 371h1v1h-1zM107 408h1v1h-1zM73 414h1v1h-1zM77 409h1v1h-1zM85 364h1v1h-1zM128 348h1v1h-1zM77 407h1v1h-1zM92 377h1v1h-1zM123 384h1v1h-1zM97 356h1v1h-1zM128 380h1v1h-1zM98 357h1v1h-1zM80 348h1v1h-1zM118 398h1v1h-1zM95 393h1v1h-1zM89 360h1v1h-1zM66 351h1v1h-1zM83 414h1v1h-1zM64 355h1v1h-1zM87 423h1v1h-1zM69 426h1v1h-1zM93 425h1v1h-1zM106 414h1v1h-1zM108 348h1v1h-1zM67 364h1v1h-1zM63 424h1v1h-1zM108 417h1v1h-1zM83 374h1v1h-1zM97 382h1v1h-1zM118 396h1v1h-1zM99 398h1v1h-1zM87 369h1v1h-1zM106 392h1v1h-1zM122 371h1v1h-1zM76 425h1v1h-1zM96 418h1v1h-1zM85 383h1v1h-1zM84 384h1v1h-1zM83 357h1v1h-1zM150 356h1v1h-1zM70 363h1v1h-1zM64 406h1v1h-1zM71 356h1v1h-1zM92 351h1v1h-1zM71 419h1v1h-1zM76 403h1v1h-1zM90 372h1v1h-1zM121 395h1v1h-1zM79 377h1v1h-1zM125 362h1v1h-1zM90 419h1v1h-1zM109 408h1v1h-1zM84 348h1v1h-1zM125 387h1v1h-1zM127 392h1v1h-1zM86 387h1v1h-1zM126 387h1v1h-1zM118 371h1v1h-1zM78 357h1v1h-1zM91 380h1v1h-1zM77 379h1v1h-1zM125 384h1v1h-1zM72 414h1v1h-1zM133 367h1v1h-1zM73 417h1v1h-1zM107 412h1v1h-1zM105 405h1v1h-1zM109 389h1v1h-1zM81 362h1v1h-1zM101 404h1v1h-1zM104 382h1v1h-1zM81 397h1v1h-1zM123 396h1v1h-1zM153 348h1v1h-1zM108 378h1v1h-1zM88 358h1v1h-1zM71 391h1v1h-1zM89 348h1v1h-1zM85 423h1v1h-1zM147 349h1v1h-1zM124 377h1v1h-1zM77 380h1v1h-1zM114 391h1v1h-1zM145 348h1v1h-1zM109 360h1v1h-1zM92 389h1v1h-1zM87 402h1v1h-1zM71 401h1v1h-1zM76 393h1v1h-1zM84 418h1v1h-1zM85 414h1v1h-1zM99 376h1v1h-1zM95 366h1v1h-1zM138 354h1v1h-1zM68 420h1v1h-1zM70 408h1v1h-1zM105 418h1v1h-1zM102 380h1v1h-1zM93 408h1v1h-1zM85 407h1v1h-1zM78 427h1v1h-1zM87 366h1v1h-1zM108 351h1v1h-1zM98 422h1v1h-1zM64 392h1v1h-1zM140 365h1v1h-1zM76 357h1v1h-1zM87 404h1v1h-1zM70 367h1v1h-1zM110 372h1v1h-1zM96 400h1v1h-1zM111 346h1v1h-1zM126 371h1v1h-1zM69 385h1v1h-1zM75 383h1v1h-1zM99 426h1v1h-1zM152 349h1v1h-1zM71 346h1v1h-1zM91 420h1v1h-1zM68 367h1v1h-1zM127 384h1v1h-1zM117 400h1v1h-1zM109 383h1v1h-1zM81 423h1v1h-1zM97 404h1v1h-1zM91 406h1v1h-1zM124 375h1v1h-1zM117 389h1v1h-1zM105 409h1v1h-1zM73 401h1v1h-1zM72 403h1v1h-1zM118 365h1v1h-1zM106 361h1v1h-1zM153 349h1v1h-1zM66 350h1v1h-1zM85 392h1v1h-1zM121 386h1v1h-1zM91 382h1v1h-1zM69 390h1v1h-1zM103 424h1v1h-1zM125 364h1v1h-1zM129 368h1v1h-1zM74 408h1v1h-1zM99 417h1v1h-1zM78 359h1v1h-1zM109 377h1v1h-1zM82 415h1v1h-1zM111 412h1v1h-1zM82 396h1v1h-1zM73 420h1v1h-1zM75 369h1v1h-1zM92 425h1v1h-1zM114 392h1v1h-1zM123 376h1v1h-1zM112 361h1v1h-1zM64 386h1v1h-1zM78 422h1v1h-1zM73 363h1v1h-1zM84 351h1v1h-1zM123 353h1v1h-1zM77 380h1v1h-1zM99 382h1v1h-1zM118 401h1v1h-1zM71 420h1v1h-1zM79 382h1v1h-1zM81 356h1v1h-1zM98 386h1v1h-1zM100 379h1v1h-1zM114 353h1v1h-1zM93 403h1v1h-1zM87 423h1v1h-1zM109 408h1v1h-1zM141 354h1v1h-1zM84 418h1v1h-1zM94 403h1v1h-1zM90 362h1v1h-1zM99 368h1v1h-1zM102 353h1v1h-1zM83 423h1v1h-1zM70 427h1v1h-1zM89 415h1v1h-1zM78 392h1v1h-1zM82 375h1v1h-1zM73 423h1v1h-1zM118 380h1v1h-1zM65 415h1v1h-1zM157 348h1v1h-1zM71 386h1v1h-1zM88 422h1v1h-1zM79 361h1v1h-1zM104 392h1v1h-1zM131 367h1v1h-1zM88 387h1v1h-1zM100 356h1v1h-1zM113 410h1v1h-1zM115 348h1v1h-1zM73 402h1v1h-1zM100 420h1v1h-1zM127 346h1v1h-1zM86 409h1v1h-1zM68 401h1v1h-1zM93 426h1v1h-1zM144 353h1v1h-1zM120 366h1v1h-1zM108 388h1v1h-1zM68 399h1v1h-1zM105 417h1v1h-1zM87 420h1v1h-1zM115 399h1v1h-1zM114 381h1v1h-1zM139 359h1v1h-1zM101 413h1v1h-1zM124 358h1v1h-1zM104 376h1v1h-1zM73 420h1v1h-1zM136 348h1v1h-1zM73 413h1v1h-1zM65 427h1v1h-1zM127 377h1v1h-1zM117 350h1v1h-1zM113 376h1v1h-1zM96 356h1v1h-1zM130 377h1v1h-1zM111 370h1v1h-1zM125 395h1v1h-1zM102 398h1v1h-1zM105 365h1v1h-1zM65 418h1v1h-1zM97 427h1v1h-1zM70 353h1v1h-1zM76 401h1v1h-1zM104 386h1v1h-1zM100 400h1v1h-1zM136 369h1v1h-1zM140 366h1v1h-1zM105 418h1v1h-1zM125 366h1v1h-1zM80 407h1v1h-1zM110 385h1v1h-1zM70 393h1v1h-1zM86 359h1v1h-1zM122 398h1v1h-1zM114 361h1v1h-1zM149 350h1v1h-1zM71 384h1v1h-1zM110 362h1v1h-1zM75 356h1v1h-1zM95 414h1v1h-1zM120 395h1v1h-1zM98 354h1v1h-1zM63 367h1v1h-1zM87 359h1v1h-1zM67 382h1v1h-1zM86 402h1v1h-1zM127 365h1v1h-1zM117 405h1v1h-1zM79 384h1v1h-1zM68 416h1v1h-1zM64 400h1v1h-1zM78 396h1v1h-1zM71 424h1v1h-1zM69 424h1v1h-1zM141 356h1v1h-1zM85 346h1v1h-1zM68 420h1v1h-1zM69 403h1v1h-1zM115 375h1v1h-1zM79 421h1v1h-1zM76 427h1v1h-1zM124 354h1v1h-1zM93 410h1v1h-1zM101 349h1v1h-1zM101 389h1v1h-1zM81 383h1v1h-1zM88 388h1v1h-1zM104 390h1v1h-1zM63 411h1v1h-1zM89 380h1v1h-1zM83 396h1v1h-1zM86 359h1v1h-1zM86 409h1v1h-1zM93 417h1v1h-1zM125 358h1v1h-1zM112 388h1v1h-1zM91 414h1v1h-1zM63 366h1v1h-1zM73 410h1v1h-1zM112 371h1v1h-1zM69 377h1v1h-1zM91 409h1v1h-1zM63 378h1v1h-1zM115 392h1v1h-1zM99 347h1v1h-1zM67 412h1v1h-1zM70 401h1v1h-1zM100 356h1v1h-1zM99 374h1v1h-1zM101 419h1v1h-1zM75 378h1v1h-1zM78 368h1v1h-1zM87 382h1v1h-1zM134 376h1v1h-1zM95 385h1v1h-1zM74 404h1v1h-1zM93 377h1v1h-1zM113 395h1v1h-1zM132 368h1v1h-1zM86 411h1v1h-1zM77 420h1v1h-1zM66 390h1v1h-1zM91 380h1v1h-1zM74 415h1v1h-1zM129 350h1v1h-1zM63 402h1v1h-1zM86 371h1v1h-1zM78 424h1v1h-1zM114 409h1v1h-1zM103 394h1v1h-1zM79 413h1v1h-1zM78 406h1v1h-1zM79 422h1v1h-1zM115 404h1v1h-1zM109 364h1v1h-1zM113 408h1v1h-1zM74 384h1v1h-1zM85 416h1v1h-1zM92 423h1v1h-1zM106 407h1v1h-1zM85 393h1v1h-1zM129 372h1v1h-1zM97 398h1v1h-1zM68 415h1v1h-1zM83 406h1v1h-1zM101 362h1v1h-1zM83 406h1v1h-1zM95 374h1v1h-1zM110 413h1v1h-1zM106 352h1v1h-1zM84 419h1v1h-1zM64 398h1v1h-1zM90 387h1v1h-1zM103 385h1v1h-1zM72 406h1v1h-1zM106 366h1v1h-1zM68 360h1v1h-1zM77 392h1v1h-1zM103 362h1v1h-1zM84 363h1v1h-1zM81 418h1v1h-1zM92 422h1v1h-1zM68 422h1v1h-1zM88 426h1v1h-1zM142 366h1v1h-1zM109 401h1v1h-1zM77 421h1v1h-1zM103 387h1v1h-1zM67 409h1v1h-1zM105 399h1v1h-1zM78 361h1v1h-1zM88 373h1v1h-1zM117 346h1v1h-1zM102 393h1v1h-1zM117 348h1v1h-1zM104 401h1v1h-1zM116 392h1v1h-1zM96 369h1v1h-1zM63 395h1v1h-1zM98 419h1v1h-1zM69 372h1v1h-1zM107 353h1v1h-1zM101 404h1v1h-1zM109 398h1v1h-1zM88 408h1v1h-1zM108 374h1v1h-1zM125 392h1v1h-1zM99 414h1v1h-1zM84 354h1v1h-1zM118 360h1v1h-1zM85 358h1v1h-1zM72 425h1v1h-1zM97 378h1v1h-1zM121 384h1v1h-1zM81 419h1v1h-1zM104 397h1v1h-1zM74 425h1v1h-1zM88 399h1v1h-1zM81 389h1v1h-1zM93 355h1v1h-1zM101 402h1v1h-1zM71 420h1v1h-1zM104 349h1v1h-1zM115 379h1v1h-1zM106 402h1v1h-1zM93 413h1v1h-1zM108 403h1v1h-1zM73 411h1v1h-1zM115 353h1v1h-1zM84 363h1v1h-1zM67 376h1v1h-1zM94 425h1v1h-1zM83 365h1v1h-1zM104 400h1v1h-1zM128 357h1v1h-1zM73 421h1v1h-1zM96 422h1v1h-1zM79 362h1v1h-1zM122 349h1v1h-1zM103 408h1v1h-1zM128 348h1v1h-1zM89 419h1v1h-1zM66 363h1v1h-1zM97 394h1v1h-1zM100 405h1v1h-1zM109 399h1v1h-1zM102 426h1v1h-1zM71 423h1v1h-1zM96 357h1v1h-1zM82 395h1v1h-1zM110 376h1v1h-1zM71 406h1v1h-1zM95 393h1v1h-1zM79 364h1v1h-1zM75 378h1v1h-1zM105 400h1v1h-1zM94 395h1v1h-1zM135 346h1v1h-1zM112 400h1v1h-1zM81 422h1v1h-1zM78 367h1v1h-1zM113 395h1v1h-1zM73 387h1v1h-1zM87 408h1v1h-1zM76 400h1v1h-1zM101 395h1v1h-1zM67 361h1v1h-1zM64 425h1v1h-1zM81 418h1v1h-1zM100 419h1v1h-1zM89 394h1v1h-1zM68 393h1v1h-1zM139 375h1v1h-1zM70 346h1v1h-1zM86 353h1v1h-1zM88 413h1v1h-1zM76 399h1v1h-1zM107 388h1v1h-1zM93 365h1v1h-1zM113 390h1v1h-1zM65 420h1v1h-1zM112 405h1v1h-1zM77 381h1v1h-1zM71 418h1v1h-1zM117 395h1v1h-1zM83 401h1v1h-1zM95 349h1v1h-1zM104 373h1v1h-1zM111 347h1v1h-1zM115 389h1v1h-1zM103 392h1v1h-1zM127 347h1v1h-1zM85 399h1v1h-1zM94 386h1v1h-1zM101 419h1v1h-1zM92 410h1v1h-1zM90 413h1v1h-1zM78 397h1v1h-1zM101 355h1v1h-1zM70 416h1v1h-1zM65 385h1v1h-1zM74 403h1v1h-1zM97 367h1v1h-1zM123 351h1v1h-1zM68 369h1v1h-1zM113 364h1v1h-1zM123 368h1v1h-1zM75 347h1v1h-1zM67 422h1v1h-1zM69 357h1v1h-1zM109 373h1v1h-1zM95 350h1v1h-1zM64 359h1v1h-1zM68 386h1v1h-1zM86 377h1v1h-1zM64 413h1v1h-1zM105 406h1v1h-1zM69 421h1v1h-1zM109 400h1v1h-1zM64 361h1v1h-1zM78 405h1v1h-1zM145 356h1v1h-1zM68 417h1v1h-1zM64 378h1v1h-1zM103 414h1v1h-1zM119 379h1v1h-1zM100 365h1v1h-1zM71 356h1v1h-1zM82 367h1v1h-1zM80 421h1v1h-1zM136 374h1v1h-1zM71 409h1v1h-1zM103 391h1v1h-1zM92 421h1v1h-1zM115 396h1v1h-1zM110 377h1v1h-1zM76 424h1v1h-1zM90 383h1v1h-1zM101 356h1v1h-1zM99 389h1v1h-1zM89 406h1v1h-1zM66 416h1v1h-1zM109 394h1v1h-1zM81 400h1v1h-1zM108 374h1v1h-1zM83 369h1v1h-1zM93 373h1v1h-1zM144 368h1v1h-1zM63 365h1v1h-1zM110 371h1v1h-1zM70 413h1v1h-1z" fill="#000" fill-opacity="0.66"/>
<path d="M144 358h1v1h-1zM129 362h1v1h-1zM121 366h1v1h-1zM112 357h1v1h-1zM115 401h1v1h-1zM112 393h1v1h-1zM125 353h1v1h-1zM106 396h1v1h-1zM144 363h1v1h-1zM116 384h1v1h-1zM128 378h1v1h-1zM109 379h1v1h-1zM108 393h1v1h-1zM107 416h1v1h-1zM103 394h1v1h-1zM97 389h1v1h-1zM119 375h1v1h-1zM136 350h1v1h-1zM118 386h1v1h-1zM106 386h1v1h-1zM113 377h1v1h-1zM133 373h1v1h-1zM134 372h1v1h-1zM106 381h1v1h-1zM111 382h1v1h-1zM128 389h1v1h-1zM81 420h1v1h-1zM135 363h1v1h-1zM89 409h1v1h-1zM132 358h1v1h-1zM118 356h1v1h-1zM111 380h1v1h-1zM134 355h1v1h-1zM88 415h1v1h-1zM86 419h1v1h-1zM118 388h1v1h-1zM74 404h1v1h-1zM82 414h1v1h-1zM136 360h1v1h-1zM96 395h1v1h-1zM130 358h1v1h-1zM91 401h1v1h-1zM121 383h1v1h-1zM81 404h1v1h-1zM121 389h1v1h-1zM114 375h1v1h-1zM127 368h1v1h-1zM112 388h1v1h-1zM139 361h1v1h-1zM92 405h1v1h-1zM116 381h1v1h-1zM98 401h1v1h-1zM80 417h1v1h-1zM94 397h1v1h-1zM125 376h1v1h-1zM89 400h1v1h-1zM121 368h1v1h-1zM98 397h1v1h-1zM101 394h1v1h-1zM85 385h1v1h-1zM79 408h1v1h-1zM134 365h1v1h-1zM135 373h1v1h-1zM104 407h1v1h-1zM111 366h1v1h-1zM135 375h1v1h-1zM129 376h1v1h-1zM145 361h1v1h-1zM94 416h1v1h-1zM106 380h1v1h-1zM107 398h1v1h-1zM70 406h1v1h-1zM121 386h1v1h-1zM136 358h1v1h-1zM91 385h1v1h-1zM102 389h1v1h-1zM139 362h1v1h-1zM112 393h1v1h-1zM83 415h1v1h-1zM85 406h1v1h-1zM74 415h1v1h-1zM78 417h1v1h-1zM148 369h1v1h-1zM115 362h1v1h-1zM94 405h1v1h-1zM110 394h1v1h-1zM115 396h1v1h-1zM139 375h1v1h-1zM117 336h1v1h-1zM77 416h1v1h-1zM92 413h1v1h-1zM110 383h1v1h-1zM99 404h1v1h-1zM107 401h1v1h-1zM108 396h1v1h-1zM115 391h1v1h-1zM107 402h1v1h-1zM92 380h1v1h-1zM117 385h1v1h-1zM82 414h1v1h-1zM130 364h1v1h-1zM96 408h1v1h-1zM134 374h1v1h-1zM95 404h1v1h-1zM112 385h1v1h-1zM149 374h1v1h-1zM110 368h1v1h-1zM73 409h1v1h-1zM100 400h1v1h-1zM104 398h1v1h-1zM98 384h1v1h-1zM152 357h1v1h-1zM95 390h1v1h-1zM90 402h1v1h-1zM116 379h1v1h-1zM99 408h1v1h-1zM149 367h1v1h-1zM67 409h1v1h-1zM114 360h1v1h-1zM132 367h1v1h-1zM96 406h1v1h-1zM125 370h1v1h-1zM117 363h1v1h-1zM113 374h1v1h-1zM116 357h1v1h-1zM118 400h1v1h-1zM104 387h1v1h-1zM100 381h1v1h-1zM92 400h1v1h-1zM121 386h1v1h-1zM107 374h1v1h-1zM81 402h1v1h-1zM87 399h1v1h-1zM123 399h1v1h-1zM93 407h1v1h-1zM84 393h1v1h-1zM125 368h1v1h-1zM95 400h1v1h-1zM94 419h1v1h-1zM117 360h1v1h-1zM128 372h1v1h-1zM136 363h1v1h-1zM111 388h1v1h-1zM138 373h1v1h-1zM140 359h1v1h-1zM107 368h1v1h-1zM125 373h1v1h-1zM113 386h1v1h-1zM102 389h1v1h-1zM137 358h1v1h-1zM125 377h1v1h-1zM122 376h1v1h-1zM127 365h1v1h-1zM99 391h1v1h-1zM105 401h1v1h-1zM156 353h1v1h-1zM113 369h1v1h-1zM144 358h1v1h-1zM100 414h1v1h-1zM79 420h1v1h-1zM112 375h1v1h-1zM120 393h1v1h-1zM87 393h1v1h-1zM111 378h1v1h-1zM137 385h1v1h-1zM125 378h1v1h-1zM117 381h1v1h-1zM108 404h1v1h-1zM88 403h1v1h-1zM114 390h1v1h-1zM103 389h1v1h-1zM127 352h1v1h-1zM138 356h1v1h-1zM139 374h1v1h-1zM91 408h1v1h-1zM104 409h1v1h-1zM125 375h1v1h-1zM125 364h1v1h-1zM90 394h1v1h-1zM91 398h1v1h-1zM108 375h1v1h-1zM129 362h1v1h-1zM115 381h1v1h-1zM97 421h1v1h-1zM135 379h1v1h-1zM135 376h1v1h-1zM118 382h1v1h-1zM72 413h1v1h-1zM103 411h1v1h-1zM116 391h1v1h-1zM107 370h1v1h-1zM84 413h1v1h-1zM96 412h1v1h-1zM83 403h1v1h-1zM110 388h1v1h-1zM141 352h1v1h-1zM122 375h1v1h-1zM103 378h1v1h-1zM81 413h1v1h-1zM86 424h1v1h-1zM141 362h1v1h-1zM123 387h1v1h-1zM125 361h1v1h-1zM88 414h1v1h-1zM127 361h1v1h-1zM107 391h1v1h-1zM103 385h1v1h-1zM120 373h1v1h-1zM127 381h1v1h-1zM136 360h1v1h-1zM100 400h1v1h-1zM84 399h1v1h-1zM114 391h1v1h-1zM124 360h1v1h-1zM109 362h1v1h-1zM105 395h1v1h-1zM125 351h1v1h-1zM112 358h1v1h-1zM123 365h1v1h-1zM117 362h1v1h-1zM104 390h1v1h-1zM134 375h1v1h-1zM129 360h1v1h-1zM109 409h1v1h-1zM141 358h1v1h-1zM94 401h1v1h-1zM105 363h1v1h-1zM95 401h1v1h-1zM97 390h1v1h-1zM73 390h1v1h-1zM115 375h1v1h-1zM91 397h1v1h-1zM103 385h1v1h-1zM128 367h1v1h-1zM80 408h1v1h-1zM84 404h1v1h-1zM143 348h1v1h-1zM82 400h1v1h-1zM103 385h1v1h-1zM96 389h1v1h-1zM131 370h1v1h-1zM104 385h1v1h-1zM108 400h1v1h-1zM100 391h1v1h-1zM143 358h1v1h-1zM96 398h1v1h-1zM142 380h1v1h-1zM126 377h1v1h-1zM111 366h1v1h-1zM144 369h1v1h-1zM131 383h1v1h-1zM128 385h1v1h-1zM129 368h1v1h-1zM89 417h1v1h-1zM113 388h1v1h-1zM82 423h1v1h-1zM90 411h1v1h-1zM85 424h1v1h-1zM130 378h1v1h-1zM90 401h1v1h-1zM90 411h1v1h-1zM95 383h1v1h-1zM144 358h1v1h-1zM93 392h1v1h-1zM98 406h1v1h-1zM129 364h1v1h-1zM94 402h1v1h-1zM126 354h1v1h-1zM87 400h1v1h-1zM85 416h1v1h-1zM119 377h1v1h-1zM127 377h1v1h-1zM91 398h1v1h-1zM112 393h1v1h-1zM78 411h1v1h-1zM126 364h1v1h-1zM77 396h1v1h-1zM113 376h1v1h-1zM130 355h1v1h-1zM97 403h1v1h-1zM134 394h1v1h-1zM99 389h1v1h-1zM125 368h1v1h-1zM134 361h1v1h-1zM122 372h1v1h-1zM115 382h1v1h-1zM130 386h1v1h-1zM122 374h1v1h-1zM96 399h1v1h-1zM140 355h1v1h-1zM114 387h1v1h-1zM96 418h1v1h-1zM99 401h1v1h-1zM91 395h1v1h-1zM103 404h1v1h-1zM98 397h1v1h-1zM98 392h1v1h-1zM141 350h1v1h-1zM127 359h1v1h-1zM93 406h1v1h-1z" fill="#000" fill-opacity="0.65"/>
<path d="M125 342h1v1h-1zM107 347h1v1h-1zM109 352h1v1h-1zM127 353h1v1h-1zM139 341h1v1h-1zM129 343h1v1h-1zM120 341h1v1h-1zM107 342h1v1h-1zM115 341h1v1h-1zM130 352h1v1h-1zM118 353h1v1h-1zM127 354h1v1h-1zM108 349h1v1h-1zM127 350h1v1h-1zM124 348h1v1h-1zM108 355h1v1h-1zM137 347h1v1h-1zM136 344h1v1h-1zM111 348h1v1h-1zM130 364h1v1h-1zM139 349h1v1h-1zM126 350h1v1h-1zM135 343h1v1h-1zM111 349h1v1h-1zM109 345h1v1h-1zM116 351h1v1h-1zM135 346h1v1h-1zM117 343h1v1h-1zM138 350h1v1h-1zM109 347h1v1h-1zM125 347h1v1h-1zM123 345h1v1h-1zM137 349h1v1h-1zM132 346h1v1h-1zM134 359h1v1h-1zM129 350h1v1h-1zM113 344h1v1h-1zM135 344h1v1h-1zM133 354h1v1h-1zM134 353h1v1h-1zM124 346h1v1h-1zM122 346h1v1h-1zM112 346h1v1h-1zM137 348h1v1h-1zM123 348h1v1h-1zM142 342h1v1h-1zM117 354h1v1h-1zM125 356h1v1h-1zM120 343h1v1h-1zM129 353h1v1h-1zM143 344h1v1h-1zM115 352h1v1h-1zM121 355h1v1h-1zM118 339h1v1h-1zM110 349h1v1h-1zM108 357h1v1h-1zM144 350h1v1h-1zM119 349h1v1h-1zM133 350h1v1h-1zM136 348h1v1h-1zM131 355h1v1h-1zM117 350h1v1h-1zM132 346h1v1h-1zM141 345h1v1h-1zM124 348h1v1h-1zM140 353h1v1h-1zM139 360h1v1h-1zM135 340h1v1h-1zM133 355h1v1h-1zM142 351h1v1h-1zM125 348h1v1h-1zM141 346h1v1h-1zM110 349h1v1h-1zM133 353h1v1h-1zM111 349h1v1h-1zM120 336h1v1h-1zM128 334h1v1h-1zM132 350h1v1h-1zM132 345h1v1h-1zM113 359h1v1h-1zM110 347h1v1h-1zM112 344h1v1h-1zM130 350h1v1h-1zM113 338h1v1h-1zM141 343h1v1h-1zM132 345h1v1h-1zM118 364h1v1h-1zM130 352h1v1h-1zM110 344h1v1h-1zM129 351h1v1h-1zM113 359h1v1h-1zM130 352h1v1h-1zM117 340h1v1h-1zM127 344h1v1h-1zM133 343h1v1h-1zM115 347h1v1h-1zM109 339h1v1h-1zM112 365h1v1h-1zM138 355h1v1h-1zM142 337h1v1h-1zM128 342h1v1h-1zM110 347h1v1h-1zM129 350h1v1h-1zM119 359h1v1h-1zM113 351h1v1h-1zM134 349h1v1h-1zM139 354h1v1h-1zM127 340h1v1h-1zM128 342h1v1h-1zM142 350h1v1h-1zM107 343h1v1h-1zM138 349h1v1h-1zM141 347h1v1h-1zM138 351h1v1h-1zM127 334h1v1h-1zM140 357h1v1h-1zM125 349h1v1h-1zM120 342h1v1h-1zM125 342h1v1h-1zM108 358h1v1h-1zM108 354h1v1h-1zM126 349h1v1h-1zM129 353h1v1h-1zM109 352h1v1h-1zM135 350h1v1h-1zM112 349h1v1h-1zM115 342h1v1h-1zM124 358h1v1h-1zM135 342h1v1h-1zM125 350h1v1h-1zM140 345h1v1h-1zM135 350h1v1h-1zM128 335h1v1h-1zM139 359h1v1h-1zM120 341h1v1h-1zM128 351h1v1h-1zM131 350h1v1h-1zM110 340h1v1h-1zM117 349h1v1h-1zM143 343h1v1h-1zM118 340h1v1h-1zM140 352h1v1h-1zM109 337h1v1h-1zM116 341h1v1h-1zM115 350h1v1h-1zM107 347h1v1h-1zM134 352h1v1h-1zM115 347h1v1h-1zM128 343h1v1h-1zM110 342h1v1h-1zM128 347h1v1h-1zM125 351h1v1h-1zM124 352h1v1h-1zM136 354h1v1h-1zM120 350h1v1h-1zM133 345h1v1h-1zM137 352h1v1h-1zM116 352h1v1h-1zM118 354h1v1h-1zM129 345h1v1h-1zM114 350h1v1h-1zM107 358h1v1h-1zM129 342h1v1h-1zM133 342h1v1h-1zM111 348h1v1h-1zM128 350h1v1h-1zM124 348h1v1h-1zM126 354h1v1h-1zM141 342h1v1h-1zM108 340h1v1h-1zM114 342h1v1h-1zM110 347h1v1h-1zM130 347h1v1h-1zM139 345h1v1h-1zM127 338h1v1h-1zM108 353h1v1h-1zM125 348h1v1h-1zM111 352h1v1h-1zM110 355h1v1h-1zM118 346h1v1h-1zM138 342h1v1h-1zM133 354h1v1h-1zM143 343h1v1h-1zM125 344h1v1h-1zM114 346h1v1h-1zM120 340h1v1h-1zM110 352h1v1h-1zM122 339h1v1h-1zM129 350h1v1h-1zM131 345h1v1h-1zM143 357h1v1h-1zM121 343h1v1h-1zM110 348h1v1h-1zM139 352h1v1h-1zM113 354h1v1h-1zM119 347h1v1h-1zM112 341h1v1h-1zM133 345h1v1h-1zM139 350h1v1h-1zM115 353h1v1h-1zM128 354h1v1h-1zM108 350h1v1h-1zM132 358h1v1h-1zM112 350h1v1h-1zM118 342h1v1h-1zM127 349h1v1h-1zM124 349h1v1h-1zM135 352h1v1h-1zM108 344h1v1h-1zM115 345h1v1h-1zM114 340h1v1h-1zM121 352h1v1h-1zM138 355h1v1h-1zM142 352h1v1h-1zM142 355h1v1h-1zM114 349h1v1h-1zM114 351h1v1h-1zM117 353h1v1h-1zM129 349h1v1h-1zM138 343h1v1h-1zM126 344h1v1h-1zM108 352h1v1h-1zM132 348h1v1h-1zM130 347h1v1h-1zM121 345h1v1h-1zM127 350h1v1h-1zM116 356h1v1h-1zM118 346h1v1h-1zM129 354h1v1h-1zM121 351h1v1h-1zM119 350h1v1h-1zM112 343h1v1h-1zM139 351h1v1h-1zM126 347h1v1h-1zM139 350h1v1h-1zM129 352h1v1h-1zM110 343h1v1h-1zM108 351h1v1h-1zM113 346h1v1h-1zM120 347h1v1h-1zM113 359h1v1h-1zM120 358h1v1h-1zM141 367h1v1h-1zM107 347h1v1h-1zM110 347h1v1h-1zM133 351h1v1h-1zM134 351h1v1h-1zM116 350h1v1h-1zM110 352h1v1h-1zM119 349h1v1h-1zM133 349h1v1h-1zM117 354h1v1h-1zM126 340h1v1h-1zM123 343h1v1h-1zM140 351h1v1h-1zM130 336h1v1h-1zM120 334h1v1h-1zM121 341h1v1h-1zM111 342h1v1h-1zM136 352h1v1h-1zM114 350h1v1h-1zM111 358h1v1h-1zM119 351h1v1h-1zM131 343h1v1h-1zM126 351h1v1h-1zM107 358h1v1h-1zM128 339h1v1h-1zM134 337h1v1h-1zM134 340h1v1h-1zM114 357h1v1h-1zM110 344h1v1h-1zM121 353h1v1h-1zM115 349h1v1h-1zM142 344h1v1h-1zM132 340h1v1h-1zM118 352h1v1h-1zM137 350h1v1h-1zM129 356h1v1h-1zM108 348h1v1h-1zM115 354h1v1h-1zM116 351h1v1h-1zM141 344h1v1h-1zM130 348h1v1h-1zM114 348h1v1h-1zM138 347h1v1h-1zM121 344h1v1h-1zM143 340h1v1h-1zM127 355h1v1h-1zM107 358h1v1h-1zM122 345h1v1h-1zM132 344h1v1h-1zM123 340h1v1h-1zM131 344h1v1h-1zM110 338h1v1h-1zM107 345h1v1h-1zM110 352h1v1h-1zM130 343h1v1h-1zM115 353h1v1h-1zM137 352h1v1h-1zM136 346h1v1h-1zM112 350h1v1h-1zM109 343h1v1h-1zM132 350h1v1h-1zM133 338h1v1h-1zM140 354h1v1h-1zM120 344h1v1h-1zM108 351h1v1h-1zM135 340h1v1h-1zM129 352h1v1h-1zM142 344h1v1h-1zM118 367h1v1h-1zM107 353h1v1h-1zM109 339h1v1h-1zM140 347h1v1h-1zM120 348h1v1h-1zM110 343h1v1h-1zM108 334h1v1h-1zM130 355h1v1h-1zM120 349h1v1h-1zM134 351h1v1h-1zM129 344h1v1h-1zM115 352h1v1h-1zM129 357h1v1h-1zM121 357h1v1h-1zM132 344h1v1h-1zM116 347h1v1h-1zM118 343h1v1h-1zM113 358h1v1h-1zM112 353h1v1h-1zM122 351h1v1h-1zM130 343h1v1h-1zM128 346h1v1h-1zM114 349h1v1h-1zM121 354h1v1h-1zM123 347h1v1h-1zM115 351h1v1h-1zM130 343h1v1h-1zM119 338h1v1h-1zM110 348h1v1h-1zM132 355h1v1h-1zM113 334h1v1h-1zM120 345h1v1h-1zM135 345h1v1h-1zM112 348h1v1h-1zM127 347h1v1h-1zM129 348h1v1h-1zM117 347h1v1h-1zM111 357h1v1h-1zM122 352h1v1h-1zM115 349h1v1h-1zM121 347h1v1h-1zM112 347h1v1h-1zM122 346h1v1h-1zM141 359h1v1h-1zM107 354h1v1h-1zM128 352h1v1h-1zM122 347h1v1h-1zM138 349h1v1h-1zM135 337h1v1h-1zM124 350h1v1h-1zM116 350h1v1h-1zM142 357h1v1h-1zM137 338h1v1h-1zM139 348h1v1h-1zM110 349h1v1h-1zM121 352h1v1h-1zM124 348h1v1h-1zM118 350h1v1h-1zM115 341h1v1h-1zM119 353h1v1h-1zM113 351h1v1h-1zM142 351h1v1h-1zM140 345h1v1h-1zM130 346h1v1h-1zM128 342h1v1h-1zM143 345h1v1h-1zM125 345h1v1h-1zM135 348h1v1h-1zM108 343h1v1h-1zM123 345h1v1h-1zM114 346h1v1h-1zM110 357h1v1h-1zM138 351h1v1h-1zM134 352h1v1h-1zM120 359h1v1h-1zM111 341h1v1h-1zM136 340h1v1h-1zM120 342h1v1h-1zM136 345h1v1h-1zM129 340h1v1h-1zM133 358h1v1h-1zM129 341h1v1h-1zM142 360h1v1h-1zM116 347h1v1h-1zM139 347h1v1h-1zM130 345h1v1h-1zM133 344h1v1h-1zM143 344h1v1h-1zM108 352h1v1h-1zM117 352h1v1h-1zM134 353h1v1h-1zM136 347h1v1h-1zM116 350h1v1h-1zM124 357h1v1h-1zM139 343h1v1h-1zM143 355h1v1h-1zM143 351h1v1h-1zM115 353h1v1h-1zM121 353h1v1h-1zM123 345h1v1h-1zM125 352h1v1h-1zM139 357h1v1h-1zM125 352h1v1h-1zM118 354h1v1h-1zM130 357h1v1h-1zM136 343h1v1h-1zM129 342h1v1h-1zM141 357h1v1h-1zM143 339h1v1h-1zM134 338h1v1h-1zM140 356h1v1h-1zM110 346h1v1h-1zM128 350h1v1h-1zM108 343h1v1h-1zM117 365h1v1h-1zM131 345h1v1h-1zM132 350h1v1h-1zM137 345h1v1h-1zM138 343h1v1h-1zM117 362h1v1h-1zM123 349h1v1h-1zM135 348h1v1h-1zM115 345h1v1h-1zM139 342h1v1h-1zM108 344h1v1h-1zM121 353h1v1h-1zM108 344h1v1h-1zM117 353h1v1h-1zM138 344h1v1h-1zM143 349h1v1h-1zM123 349h1v1h-1zM116 347h1v1h-1zM119 357h1v1h-1zM138 350h1v1h-1zM114 355h1v1h-1zM135 343h1v1h-1zM118 341h1v1h-1zM116 357h1v1h-1zM140 361h1v1h-1zM115 347h1v1h-1zM142 352h1v1h-1zM123 354h1v1h-1zM144 335h1v1h-1zM134 351h1v1h-1zM138 354h1v1h-1zM127 350h1v1h-1zM143 347h1v1h-1zM133 339h1v1h-1zM123 346h1v1h-1zM109 355h1v1h-1zM114 351h1v1h-1zM139 338h1v1h-1zM142 358h1v1h-1zM108 349h1v1h-1zM122 341h1v1h-1zM123 347h1v1h-1zM113 349h1v1h-1zM108 353h1v1h-1zM139 347h1v1h-1zM138 345h1v1h-1zM140 347h1v1h-1zM118 342h1v1h-1zM140 347h1v1h-1zM143 341h1v1h-1zM136 347h1v1h-1zM120 343h1v1h-1zM121 350h1v1h-1zM125 338h1v1h-1zM141 341h1v1h-1zM125 344h1v1h-1zM123 354h1v1h-1zM109 347h1v1h-1zM119 365h1v1h-1zM115 350h1v1h-1zM124 347h1v1h-1zM124 353h1v1h-1zM114 347h1v1h-1zM110 344h1v1h-1zM130 338h1v1h-1zM116 348h1v1h-1zM131 357h1v1h-1zM128 362h1v1h-1zM139 349h1v1h-1zM117 343h1v1h-1zM143 342h1v1h-1zM138 348h1v1h-1zM125 352h1v1h-1zM120 352h1v1h-1zM115 349h1v1h-1zM128 348h1v1h-1zM114 345h1v1h-1zM120 347h1v1h-1zM109 336h1v1h-1zM132 347h1v1h-1zM129 345h1v1h-1zM132 342h1v1h-1zM138 343h1v1h-1zM127 352h1v1h-1zM121 357h1v1h-1zM116 356h1v1h-1zM126 346h1v1h-1zM123 345h1v1h-1zM123 346h1v1h-1zM117 343h1v1h-1zM114 341h1v1h-1zM136 353h1v1h-1zM143 333h1v1h-1zM132 333h1v1h-1zM129 344h1v1h-1zM113 349h1v1h-1zM123 347h1v1h-1zM142 356h1v1h-1zM142 348h1v1h-1zM110 353h1v1h-1zM138 349h1v1h-1zM115 350h1v1h-1zM142 336h1v1h-1zM115 353h1v1h-1zM135 346h1v1h-1zM142 350h1v1h-1zM109 339h1v1h-1zM107 342h1v1h-1zM127 357h1v1h-1zM123 354h1v1h-1zM142 346h1v1h-1zM118 352h1v1h-1zM108 345h1v1h-1zM139 348h1v1h-1zM129 354h1v1h-1zM126 350h1v1h-1zM130 345h1v1h-1zM140 348h1v1h-1zM116 347h1v1h-1zM116 346h1v1h-1zM143 349h1v1h-1zM126 340h1v1h-1zM108 355h1v1h-1zM135 345h1v1h-1zM128 351h1v1h-1zM109 346h1v1h-1zM121 343h1v1h-1zM129 344h1v1h-1zM139 344h1v1h-1zM131 344h1v1h-1zM130 345h1v1h-1zM134 349h1v1h-1zM122 344h1v1h-1zM137 342h1v1h-1zM134 343h1v1h-1zM110 346h1v1h-1z" fill="#000" fill-opacity="0.6"/>
<path d="M154 355h1v1h-1zM144 343h1v1h-1zM149 345h1v1h-1zM152 354h1v1h-1zM157 354h1v1h-1zM157 349h1v1h-1zM153 352h1v1h-1zM148 346h1v1h-1zM155 347h1v1h-1zM157 355h1v1h-1zM156 354h1v1h-1zM150 350h1v1h-1zM148 342h1v1h-1zM149 352h1v1h-1zM148 345h1v1h-1zM157 352h1v1h-1zM154 346h1v1h-1zM161 351h1v1h-1zM159 346h1v1h-1zM157 353h1v1h-1zM150 352h1v1h-1zM155 338h1v1h-1zM154 344h1v1h-1zM147 355h1v1h-1zM147 342h1v1h-1zM149 349h1v1h-1zM158 341h1v1h-1zM151 356h1v1h-1zM147 349h1v1h-1zM153 351h1v1h-1zM155 352h1v1h-1zM147 355h1v1h-1zM160 338h1v1h-1zM149 349h1v1h-1zM157 350h1v1h-1zM155 357h1v1h-1zM149 343h1v1h-1zM152 343h1v1h-1zM153 349h1v1h-1zM151 356h1v1h-1zM156 345h1v1h-1zM153 348h1v1h-1zM145 356h1v1h-1zM153 338h1v1h-1zM148 345h1v1h-1zM151 354h1v1h-1zM153 353h1v1h-1zM152 344h1v1h-1zM157 342h1v1h-1zM152 345h1v1h-1zM150 346h1v1h-1zM159 350h1v1h-1zM155 337h1v1h-1zM152 350h1v1h-1zM152 347h1v1h-1zM151 346h1v1h-1zM153 350h1v1h-1zM148 344h1v1h-1zM160 340h1v1h-1zM158 360h1v1h-1zM143 349h1v1h-1zM148 342h1v1h-1zM152 341h1v1h-1zM150 351h1v1h-1zM144 345h1v1h-1zM155 347h1v1h-1zM147 347h1v1h-1zM155 351h1v1h-1zM154 343h1v1h-1zM159 342h1v1h-1zM149 340h1v1h-1zM160 347h1v1h-1zM147 347h1v1h-1zM159 342h1v1h-1zM157 331h1v1h-1zM154 349h1v1h-1zM148 349h1v1h-1zM159 339h1v1h-1zM156 354h1v1h-1zM145 361h1v1h-1zM142 343h1v1h-1zM150 341h1v1h-1zM149 341h1v1h-1zM155 343h1v1h-1zM153 342h1v1h-1zM154 352h1v1h-1zM150 343h1v1h-1zM156 353h1v1h-1zM150 356h1v1h-1zM146 349h1v1h-1zM142 355h1v1h-1zM155 354h1v1h-1zM150 351h1v1h-1zM145 350h1v1h-1zM149 347h1v1h-1zM151 353h1v1h-1zM155 351h1v1h-1zM144 349h1v1h-1zM151 347h1v1h-1zM156 346h1v1h-1zM154 344h1v1h-1zM156 347h1v1h-1zM161 346h1v1h-1zM149 345h1v1h-1zM150 348h1v1h-1zM157 347h1v1h-1zM159 353h1v1h-1zM154 347h1v1h-1zM151 343h1v1h-1zM148 352h1v1h-1zM155 341h1v1h-1zM154 351h1v1h-1zM148 342h1v1h-1zM150 339h1v1h-1zM148 347h1v1h-1zM155 350h1v1h-1zM152 346h1v1h-1zM158 350h1v1h-1zM158 353h1v1h-1zM154 343h1v1h-1zM158 358h1v1h-1zM157 343h1v1h-1zM159 352h1v1h-1zM151 343h1v1h-1zM155 351h1v1h-1zM160 339h1v1h-1zM155 351h1v1h-1zM151 360h1v1h-1zM154 333h1v1h-1zM162 348h1v1h-1zM151 349h1v1h-1zM150 348h1v1h-1zM157 350h1v1h-1zM151 347h1v1h-1zM146 352h1v1h-1zM146 337h1v1h-1zM153 352h1v1h-1zM150 345h1v1h-1zM159 341h1v1h-1zM150 349h1v1h-1zM147 344h1v1h-1zM150 351h1v1h-1zM148 353h1v1h-1zM158 352h1v1h-1zM149 342h1v1h-1zM159 343h1v1h-1zM155 353h1v1h-1zM161 343h1v1h-1zM152 353h1v1h-1zM156 347h1v1h-1zM144 345h1v1h-1zM151 359h1v1h-1zM150 345h1v1h-1zM158 350h1v1h-1zM152 356h1v1h-1zM156 345h1v1h-1zM150 347h1v1h-1zM147 346h1v1h-1zM152 350h1v1h-1zM158 352h1v1h-1zM153 355h1v1h-1zM159 349h1v1h-1zM151 354h1v1h-1zM151 351h1v1h-1zM151 346h1v1h-1zM152 344h1v1h-1zM150 346h1v1h-1zM152 347h1v1h-1zM149 350h1v1h-1zM148 343h1v1h-1zM159 342h1v1h-1zM157 351h1v1h-1zM152 351h1v1h-1zM150 353h1v1h-1zM146 350h1v1h-1zM155 351h1v1h-1zM150 338h1v1h-1zM161 341h1v1h-1zM146 355h1v1h-1zM154 344h1v1h-1zM158 350h1v1h-1zM151 357h1v1h-1zM161 347h1v1h-1zM157 352h1v1h-1zM157 347h1v1h-1zM149 346h1v1h-1zM157 352h1v1h-1zM157 340h1v1h-1zM153 348h1v1h-1zM160 352h1v1h-1zM154 357h1v1h-1zM143 337h1v1h-1zM154 353h1v1h-1zM160 348h1v1h-1zM150 347h1v1h-1zM156 344h1v1h-1zM150 355h1v1h-1zM153 361h1v1h-1zM141 348h1v1h-1zM145 356h1v1h-1zM152 350h1v1h-1zM150 338h1v1h-1zM145 351h1v1h-1zM156 345h1v1h-1zM154 354h1v1h-1zM149 333h1v1h-1zM144 350h1v1h-1zM155 346h1v1h-1zM151 349h1v1h-1zM156 352h1v1h-1zM158 343h1v1h-1zM151 350h1v1h-1zM152 353h1v1h-1zM156 351h1v1h-1zM152 350h1v1h-1zM144 348h1v1h-1zM155 348h1v1h-1zM154 353h1v1h-1zM150 351h1v1h-1zM155 338h1v1h-1zM151 350h1v1h-1zM151 341h1v1h-1zM156 351h1v1h-1zM147 347h1v1h-1zM146 352h1v1h-1zM152 359h1v1h-1zM147 352h1v1h-1zM156 344h1v1h-1zM149 342h1v1h-1zM145 343h1v1h-1zM151 352h1v1h-1zM143 350h1v1h-1zM158 355h1v1h-1zM152 347h1v1h-1zM155 344h1v1h-1zM155 348h1v1h-1zM153 353h1v1h-1zM148 347h1v1h-1zM156 348h1v1h-1zM151 346h1v1h-1zM149 350h1v1h-1zM144 348h1v1h-1zM158 353h1v1h-1zM151 353h1v1h-1zM151 362h1v1h-1zM144 348h1v1h-1zM156 348h1v1h-1zM152 354h1v1h-1zM157 341h1v1h-1zM152 342h1v1h-1zM149 340h1v1h-1zM155 349h1v1h-1zM146 350h1v1h-1zM146 347h1v1h-1zM152 344h1v1h-1zM156 341h1v1h-1zM157 354h1v1h-1zM152 349h1v1h-1zM152 359h1v1h-1zM153 350h1v1h-1zM152 344h1v1h-1zM150 345h1v1h-1zM155 336h1v1h-1zM150 345h1v1h-1zM152 351h1v1h-1zM157 352h1v1h-1zM153 347h1v1h-1zM150 340h1v1h-1zM155 355h1v1h-1zM152 354h1v1h-1zM155 348h1v1h-1zM149 350h1v1h-1zM149 344h1v1h-1zM146 351h1v1h-1zM157 348h1v1h-1zM158 349h1v1h-1zM157 347h1v1h-1zM154 341h1v1h-1zM153 355h1v1h-1zM151 358h1v1h-1zM155 356h1v1h-1zM152 350h1v1h-1zM148 348h1v1h-1zM157 346h1v1h-1zM156 347h1v1h-1zM155 348h1v1h-1zM152 358h1v1h-1zM151 352h1v1h-1zM153 346h1v1h-1zM153 355h1v1h-1zM148 351h1v1h-1zM151 351h1v1h-1zM148 346h1v1h-1zM157 353h1v1h-1zM147 357h1v1h-1zM147 350h1v1h-1zM149 350h1v1h-1zM153 344h1v1h-1zM149 352h1v1h-1zM160 350h1v1h-1zM155 351h1v1h-1zM142 351h1v1h-1zM153 338h1v1h-1zM154 362h1v1h-1zM147 345h1v1h-1zM152 353h1v1h-1zM153 348h1v1h-1zM150 357h1v1h-1zM152 347h1v1h-1zM154 353h1v1h-1zM150 346h1v1h-1zM152 341h1v1h-1zM147 355h1v1h-1zM155 357h1v1h-1zM150 342h1v1h-1zM157 338h1v1h-1zM161 348h1v1h-1zM159 359h1v1h-1zM150 357h1v1h-1zM154 343h1v1h-1zM151 339h1v1h-1zM154 349h1v1h-1zM149 356h1v1h-1zM148 342h1v1h-1zM152 356h1v1h-1zM149 352h1v1h-1zM157 352h1v1h-1zM155 352h1v1h-1zM154 346h1v1h-1zM152 354h1v1h-1zM152 348h1v1h-1zM156 343h1v1h-1zM153 343h1v1h-1zM152 341h1v1h-1zM160 350h1v1h-1zM153 358h1v1h-1zM151 348h1v1h-1zM151 347h1v1h-1zM158 347h1v1h-1zM150 351h1v1h-1zM150 346h1v1h-1zM157 354h1v1h-1zM157 344h1v1h-1zM158 339h1v1h-1zM149 348h1v1h-1zM154 348h1v1h-1zM150 345h1v1h-1zM154 346h1v1h-1zM146 345h1v1h-1zM152 347h1v1h-1zM157 350h1v1h-1zM153 340h1v1h-1zM142 355h1v1h-1zM157 343h1v1h-1zM154 353h1v1h-1zM151 346h1v1h-1zM152 353h1v1h-1zM151 357h1v1h-1zM157 354h1v1h-1zM152 354h1v1h-1zM146 341h1v1h-1zM149 352h1v1h-1zM159 352h1v1h-1zM157 354h1v1h-1zM156 349h1v1h-1zM149 349h1v1h-1zM155 346h1v1h-1zM157 352h1v1h-1zM153 355h1v1h-1zM155 349h1v1h-1zM157 344h1v1h-1zM157 345h1v1h-1zM154 354h1v1h-1zM154 351h1v1h-1zM147 347h1v1h-1zM151 352h1v1h-1zM156 356h1v1h-1zM160 348h1v1h-1zM153 350h1v1h-1zM157 347h1v1h-1zM152 344h1v1h-1zM148 351h1v1h-1zM154 354h1v1h-1zM154 353h1v1h-1zM149 344h1v1h-1zM149 348h1v1h-1zM153 344h1v1h-1zM150 350h1v1h-1zM155 345h1v1h-1zM147 351h1v1h-1zM156 352h1v1h-1zM150 349h1v1h-1zM154 349h1v1h-1zM146 350h1v1h-1zM156 348h1v1h-1zM153 343h1v1h-1zM161 352h1v1h-1zM146 358h1v1h-1zM145 346h1v1h-1zM155 339h1v1h-1zM156 343h1v1h-1zM145 355h1v1h-1zM155 346h1v1h-1zM156 343h1v1h-1zM158 344h1v1h-1zM153 339h1v1h-1zM146 344h1v1h-1zM144 363h1v1h-1zM161 345h1v1h-1zM154 352h1v1h-1zM157 353h1v1h-1zM151 357h1v1h-1zM152 355h1v1h-1zM152 350h1v1h-1zM149 343h1v1h-1zM151 342h1v1h-1zM148 345h1v1h-1zM151 342h1v1h-1zM157 351h1v1h-1zM153 353h1v1h-1zM150 338h1v1h-1zM160 346h1v1h-1zM158 350h1v1h-1zM153 345h1v1h-1zM145 352h1v1h-1zM158 340h1v1h-1zM158 355h1v1h-1zM150 351h1v1h-1zM158 349h1v1h-1zM149 349h1v1h-1zM151 355h1v1h-1zM151 344h1v1h-1zM153 345h1v1h-1zM152 348h1v1h-1zM158 345h1v1h-1zM151 351h1v1h-1zM154 343h1v1h-1zM153 351h1v1h-1zM154 354h1v1h-1zM149 349h1v1h-1zM152 349h1v1h-1zM158 347h1v1h-1zM156 345h1v1h-1zM148 339h1v1h-1zM151 355h1v1h-1zM148 357h1v1h-1zM149 347h1v1h-1zM150 341h1v1h-1zM147 343h1v1h-1zM154 349h1v1h-1zM156 350h1v1h-1zM153 350h1v1h-1zM150 339h1v1h-1zM153 349h1v1h-1zM149 347h1v1h-1zM157 355h1v1h-1zM162 343h1v1h-1zM141 349h1v1h-1zM154 350h1v1h-1zM153 350h1v1h-1zM153 349h1v1h-1zM151 334h1v1h-1zM146 345h1v1h-1zM152 345h1v1h-1zM151 352h1v1h-1zM152 356h1v1h-1zM152 359h1v1h-1zM150 351h1v1h-1zM162 347h1v1h-1zM147 347h1v1h-1zM151 356h1v1h-1zM147 345h1v1h-1zM152 351h1v1h-1zM159 342h1v1h-1zM152 349h1v1h-1zM149 348h1v1h-1zM147 352h1v1h-1zM155 352h1v1h-1zM149 348h1v1h-1zM155 345h1v1h-1zM150 344h1v1h-1zM150 352h1v1h-1zM152 355h1v1h-1zM146 346h1v1h-1zM157 341h1v1h-1zM148 351h1v1h-1zM153 350h1v1h-1zM154 350h1v1h-1zM162 346h1v1h-1zM154 343h1v1h-1zM156 353h1v1h-1zM150 346h1v1h-1zM152 341h1v1h-1zM152 345h1v1h-1zM157 352h1v1h-1zM148 356h1v1h-1zM154 348h1v1h-1zM164 341h1v1h-1zM148 344h1v1h-1zM145 341h1v1h-1zM150 350h1v1h-1zM152 348h1v1h-1zM159 352h1v1h-1zM154 345h1v1h-1zM157 349h1v1h-1zM150 352h1v1h-1zM152 350h1v1h-1zM154 345h1v1h-1zM149 343h1v1h-1zM154 344h1v1h-1zM151 336h1v1h-1zM153 344h1v1h-1zM147 353h1v1h-1zM144 342h1v1h-1zM158 352h1v1h-1zM153 354h1v1h-1zM152 344h1v1h-1zM163 351h1v1h-1zM157 348h1v1h-1zM154 350h1v1h-1zM150 349h1v1h-1zM154 357h1v1h-1zM154 343h1v1h-1zM152 341h1v1h-1zM159 349h1v1h-1zM156 341h1v1h-1zM155 343h1v1h-1zM149 342h1v1h-1zM150 340h1v1h-1zM157 354h1v1h-1zM154 344h1v1h-1zM150 348h1v1h-1zM154 344h1v1h-1zM153 349h1v1h-1zM151 337h1v1h-1zM152 339h1v1h-1zM156 348h1v1h-1zM154 345h1v1h-1zM149 346h1v1h-1zM150 346h1v1h-1zM154 343h1v1h-1zM148 353h1v1h-1zM153 355h1v1h-1zM152 342h1v1h-1zM147 346h1v1h-1zM143 350h1v1h-1zM149 351h1v1h-1zM153 355h1v1h-1zM153 349h1v1h-1zM158 357h1v1h-1zM153 347h1v1h-1zM152 346h1v1h-1zM154 351h1v1h-1zM151 342h1v1h-1zM160 344h1v1h-1zM150 347h1v1h-1zM149 352h1v1h-1zM150 351h1v1h-1zM158 353h1v1h-1zM150 358h1v1h-1zM149 348h1v1h-1zM155 344h1v1h-1zM157 356h1v1h-1zM151 346h1v1h-1zM155 349h1v1h-1zM150 347h1v1h-1zM158 344h1v1h-1zM148 343h1v1h-1zM151 352h1v1h-1zM151 344h1v1h-1zM149 350h1v1h-1zM152 361h1v1h-1zM155 338h1v1h-1zM149 348h1v1h-1zM160 350h1v1h-1zM153 341h1v1h-1zM154 346h1v1h-1zM149 351h1v1h-1zM152 347h1v1h-1zM156 346h1v1h-1zM148 349h1v1h-1zM150 360h1v1h-1zM149 347h1v1h-1zM147 353h1v1h-1zM155 354h1v1h-1zM149 348h1v1h-1zM159 337h1v1h-1zM147 354h1v1h-1zM151 347h1v1h-1zM153 356h1v1h-1zM148 357h1v1h-1zM144 350h1v1h-1zM150 343h1v1h-1zM152 347h1v1h-1zM148 347h1v1h-1zM154 342h1v1h-1zM145 346h1v1h-1zM154 351h1v1h-1zM161 353h1v1h-1zM156 350h1v1h-1zM157 346h1v1h-1zM151 350h1v1h-1zM151 349h1v1h-1zM157 351h1v1h-1zM151 352h1v1h-1zM155 354h1v1h-1zM148 352h1v1h-1zM154 339h1v1h-1zM153 343h1v1h-1zM143 341h1v1h-1zM152 348h1v1h-1zM155 349h1v1h-1zM155 344h1v1h-1zM154 350h1v1h-1zM158 342h1v1h-1zM152 347h1v1h-1zM149 344h1v1h-1zM156 352h1v1h-1zM161 339h1v1h-1zM151 347h1v1h-1zM159 345h1v1h-1zM152 352h1v1h-1zM146 352h1v1h-1zM149 345h1v1h-1zM149 357h1v1h-1zM157 342h1v1h-1zM153 351h1v1h-1zM150 343h1v1h-1zM153 352h1v1h-1zM158 348h1v1h-1zM152 348h1v1h-1zM149 343h1v1h-1zM154 353h1v1h-1zM149 345h1v1h-1zM154 347h1v1h-1zM157 344h1v1h-1zM153 353h1v1h-1zM151 348h1v1h-1zM153 352h1v1h-1zM147 350h1v1h-1zM159 343h1v1h-1zM162 342h1v1h-1zM152 353h1v1h-1zM144 349h1v1h-1zM150 349h1v1h-1zM146 353h1v1h-1zM145 350h1v1h-1zM152 354h1v1h-1zM152 345h1v1h-1zM150 353h1v1h-1zM157 341h1v1h-1zM153 358h1v1h-1zM148 345h1v1h-1zM154 345h1v1h-1zM147 352h1v1h-1zM151 357h1v1h-1zM149 347h1v1h-1zM154 355h1v1h-1zM151 343h1v1h-1zM150 348h1v1h-1zM153 348h1v1h-1zM154 348h1v1h-1zM153 344h1v1h-1zM157 348h1v1h-1zM148 345h1v1h-1zM154 346h1v1h-1zM159 351h1v1h-1zM152 343h1v1h-1zM143 340h1v1h-1zM156 343h1v1h-1zM152 348h1v1h-1zM155 345h1v1h-1zM154 354h1v1h-1zM155 353h1v1h-1zM157 353h1v1h-1zM153 351h1v1h-1zM156 344h1v1h-1zM147 353h1v1h-1zM149 352h1v1h-1zM152 356h1v1h-1zM159 352h1v1h-1zM149 357h1v1h-1zM151 344h1v1h-1zM155 349h1v1h-1zM150 344h1v1h-1zM147 341h1v1h-1zM144 346h1v1h-1zM156 347h1v1h-1zM148 348h1v1h-1zM154 351h1v1h-1zM155 360h1v1h-1zM148 347h1v1h-1zM154 352h1v1h-1zM143 353h1v1h-1zM152 351h1v1h-1zM148 348h1v1h-1zM153 345h1v1h-1zM153 353h1v1h-1zM153 355h1v1h-1zM155 343h1v1h-1zM150 345h1v1h-1zM146 344h1v1h-1zM147 350h1v1h-1zM157 355h1v1h-1zM148 342h1v1h-1zM151 342h1v1h-1zM154 351h1v1h-1zM152 346h1v1h-1zM148 343h1v1h-1zM144 336h1v1h-1zM156 342h1v1h-1zM150 345h1v1h-1zM146 349h1v1h-1zM150 351h1v1h-1zM153 349h1v1h-1zM144 352h1v1h-1zM153 345h1v1h-1zM152 347h1v1h-1zM154 349h1v1h-1zM152 353h1v1h-1zM148 348h1v1h-1zM146 350h1v1h-1zM152 346h1v1h-1zM150 353h1v1h-1zM159 345h1v1h-1zM151 349h1v1h-1zM154 338h1v1h-1zM153 352h1v1h-1zM145 338h1v1h-1zM155 333h1v1h-1zM150 348h1v1h-1zM146 338h1v1h-1zM154 342h1v1h-1zM157 354h1v1h-1zM152 351h1v1h-1zM151 343h1v1h-1zM150 346h1v1h-1zM151 343h1v1h-1zM157 346h1v1h-1zM153 340h1v1h-1zM154 349h1v1h-1zM155 353h1v1h-1zM140 351h1v1h-1zM153 348h1v1h-1zM155 352h1v1h-1zM153 348h1v1h-1zM146 349h1v1h-1zM149 349h1v1h-1zM155 348h1v1h-1zM154 350h1v1h-1zM154 343h1v1h-1zM148 347h1v1h-1zM153 344h1v1h-1zM158 355h1v1h-1zM152 348h1v1h-1zM158 350h1v1h-1zM156 358h1v1h-1zM156 337h1v1h-1zM149 355h1v1h-1zM150 344h1v1h-1zM149 344h1v1h-1zM157 342h1v1h-1zM157 350h1v1h-1zM148 361h1v1h-1zM147 345h1v1h-1zM153 348h1v1h-1zM158 344h1v1h-1zM153 349h1v1h-1zM155 341h1v1h-1zM154 345h1v1h-1zM155 350h1v1h-1zM152 335h1v1h-1zM154 351h1v1h-1zM155 359h1v1h-1zM152 347h1v1h-1zM159 345h1v1h-1zM148 345h1v1h-1zM151 351h1v1h-1zM149 348h1v1h-1zM157 352h1v1h-1zM157 350h1v1h-1zM149 344h1v1h-1zM153 350h1v1h-1zM150 344h1v1h-1zM147 349h1v1h-1zM149 347h1v1h-1zM154 349h1v1h-1zM155 342h1v1h-1zM149 347h1v1h-1zM152 352h1v1h-1zM156 347h1v1h-1zM158 342h1v1h-1zM154 346h1v1h-1zM149 353h1v1h-1zM146 352h1v1h-1zM153 353h1v1h-1zM151 341h1v1h-1zM150 347h1v1h-1zM149 343h1v1h-1zM150 344h1v1h-1zM153 350h1v1h-1zM155 342h1v1h-1zM149 348h1v1h-1zM160 346h1v1h-1zM158 358h1v1h-1zM151 348h1v1h-1zM154 350h1v1h-1zM159 352h1v1h-1zM149 347h1v1h-1zM150 355h1v1h-1zM150 349h1v1h-1zM148 361h1v1h-1zM155 349h1v1h-1zM151 352h1v1h-1zM153 339h1v1h-1zM153 347h1v1h-1zM151 345h1v1h-1zM159 363h1v1h-1zM152 350h1v1h-1zM149 354h1v1h-1zM147 341h1v1h-1zM150 343h1v1h-1zM153 348h1v1h-1zM153 347h1v1h-1zM154 348h1v1h-1zM151 349h1v1h-1zM154 345h1v1h-1zM154 345h1v1h-1zM147 349h1v1h-1zM154 352h1v1h-1zM154 340h1v1h-1zM151 350h1v1h-1zM157 352h1v1h-1zM153 336h1v1h-1zM149 348h1v1h-1zM156 349h1v1h-1zM160 355h1v1h-1zM148 354h1v1h-1zM152 341h1v1h-1zM156 350h1v1h-1zM155 342h1v1h-1zM157 354h1v1h-1zM158 344h1v1h-1zM145 347h1v1h-1zM155 350h1v1h-1zM146 357h1v1h-1zM148 341h1v1h-1zM148 347h1v1h-1zM154 348h1v1h-1zM146 343h1v1h-1zM153 353h1v1h-1zM146 340h1v1h-1zM161 344h1v1h-1zM150 345h1v1h-1zM152 345h1v1h-1zM148 351h1v1h-1zM150 349h1v1h-1zM158 345h1v1h-1zM153 350h1v1h-1zM148 341h1v1h-1zM150 343h1v1h-1zM152 340h1v1h-1zM160 355h1v1h-1zM152 340h1v1h-1zM154 350h1v1h-1zM157 352h1v1h-1zM162 349h1v1h-1zM155 340h1v1h-1zM148 345h1v1h-1zM148 346h1v1h-1zM159 342h1v1h-1zM154 342h1v1h-1zM144 342h1v1h-1zM150 343h1v1h-1zM150 346h1v1h-1zM151 345h1v1h-1zM155 355h1v1h-1zM155 348h1v1h-1zM158 359h1v1h-1zM145 348h1v1h-1zM154 347h1v1h-1zM152 352h1v1h-1zM148 350h1v1h-1zM156 342h1v1h-1zM147 350h1v1h-1zM147 348h1v1h-1zM159 338h1v1h-1zM154 346h1v1h-1zM156 343h1v1h-1zM158 345h1v1h-1zM147 345h1v1h-1zM158 342h1v1h-1zM153 349h1v1h-1zM155 344h1v1h-1zM156 350h1v1h-1zM155 350h1v1h-1zM151 345h1v1h-1zM152 351h1v1h-1zM153 361h1v1h-1zM157 349h1v1h-1zM143 341h1v1h-1zM158 353h1v1h-1zM149 345h1v1h-1zM161 350h1v1h-1zM154 356h1v1h-1zM160 350h1v1h-1zM151 360h1v1h-1zM160 342h1v1h-1zM154 350h1v1h-1zM154 346h1v1h-1zM154 348h1v1h-1zM142 356h1v1h-1zM146 350h1v1h-1zM146 342h1v1h-1zM153 344h1v1h-1zM151 350h1v1h-1zM156 352h1v1h-1zM154 349h1v1h-1zM158 355h1v1h-1zM149 347h1v1h-1zM154 357h1v1h-1zM150 352h1v1h-1zM148 344h1v1h-1zM145 348h1v1h-1zM152 352h1v1h-1zM149 348h1v1h-1zM150 350h1v1h-1zM148 347h1v1h-1zM148 343h1v1h-1zM164 349h1v1h-1zM153 357h1v1h-1zM147 346h1v1h-1zM152 352h1v1h-1zM152 342h1v1h-1zM146 343h1v1h-1zM157 348h1v1h-1zM148 346h1v1h-1zM154 356h1v1h-1zM150 357h1v1h-1zM149 350h1v1h-1zM166 346h1v1h-1zM150 341h1v1h-1zM146 352h1v1h-1zM150 353h1v1h-1zM148 353h1v1h-1zM157 352h1v1h-1zM154 347h1v1h-1zM147 356h1v1h-1zM160 344h1v1h-1zM151 355h1v1h-1z" fill="#000" fill-opacity="0.72"/>
<path d="M89 577h1v1h-1zM71 572h1v1h-1zM72 562h1v1h-1zM78 573h1v1h-1zM67 578h1v1h-1zM74 575h1v1h-1zM76 572h1v1h-1zM79 583h1v1h-1zM80 583h1v1h-1zM77 575h1v1h-1zM67 585h1v1h-1zM74 576h1v1h-1zM68 589h1v1h-1zM71 582h1v1h-1zM79 587h1v1h-1zM79 570h1v1h-1zM67 573h1v1h-1zM68 589h1v1h-1zM69 579h1v1h-1zM80 585h1v1h-1zM86 575h1v1h-1zM66 580h1v1h-1zM77 574h1v1h-1zM71 587h1v1h-1zM76 584h1v1h-1zM73 582h1v1h-1zM71 574h1v1h-1zM79 572h1v1h-1zM77 571h1v1h-1zM69 580h1v1h-1zM75 586h1v1h-1zM67 584h1v1h-1zM71 581h1v1h-1zM75 588h1v1h-1zM76 578h1v1h-1zM73 588h1v1h-1zM77 573h1v1h-1zM78 575h1v1h-1zM74 578h1v1h-1zM79 586h1v1h-1zM74 582h1v1h-1zM67 573h1v1h-1zM72 586h1v1h-1zM74 590h1v1h-1zM90 572h1v1h-1zM79 574h1v1h-1zM72 572h1v1h-1zM74 586h1v1h-1zM75 569h1v1h-1zM67 577h1v1h-1zM76 586h1v1h-1zM67 583h1v1h-1zM67 582h1v1h-1zM79 575h1v1h-1zM78 583h1v1h-1zM72 575h1v1h-1zM72 581h1v1h-1zM83 590h1v1h-1zM66 565h1v1h-1zM78 576h1v1h-1zM66 566h1v1h-1zM75 584h1v1h-1zM66 585h1v1h-1zM65 570h1v1h-1zM75 575h1v1h-1zM66 582h1v1h-1zM68 585h1v1h-1zM70 585h1v1h-1zM70 570h1v1h-1zM68 570h1v1h-1zM72 572h1v1h-1zM69 580h1v1h-1zM79 571h1v1h-1zM72 579h1v1h-1zM76 566h1v1h-1zM68 581h1v1h-1zM67 586h1v1h-1zM84 584h1v1h-1zM80 579h1v1h-1zM66 585h1v1h-1zM76 585h1v1h-1zM75 585h1v1h-1zM74 568h1v1h-1zM66 588h1v1h-1zM76 586h1v1h-1zM79 587h1v1h-1zM74 582h1v1h-1zM67 588h1v1h-1zM71 571h1v1h-1zM73 569h1v1h-1zM71 581h1v1h-1zM77 571h1v1h-1zM73 582h1v1h-1zM76 574h1v1h-1zM71 563h1v1h-1zM76 588h1v1h-1zM90 577h1v1h-1zM72 581h1v1h-1zM68 586h1v1h-1zM75 580h1v1h-1zM73 576h1v1h-1zM73 580h1v1h-1zM71 570h1v1h-1zM74 579h1v1h-1zM82 580h1v1h-1zM76 588h1v1h-1zM73 580h1v1h-1zM67 570h1v1h-1zM80 569h1v1h-1zM67 577h1v1h-1zM66 581h1v1h-1zM74 585h1v1h-1zM70 561h1v1h-1zM66 583h1v1h-1zM66 571h1v1h-1zM64 587h1v1h-1zM67 574h1v1h-1zM74 587h1v1h-1zM72 584h1v1h-1zM78 580h1v1h-1zM67 587h1v1h-1zM72 587h1v1h-1zM73 589h1v1h-1zM69 578h1v1h-1zM76 585h1v1h-1zM78 590h1v1h-1zM78 579h1v1h-1zM78 578h1v1h-1zM65 585h1v1h-1zM69 584h1v1h-1zM74 584h1v1h-1zM75 589h1v1h-1zM76 589h1v1h-1zM65 586h1v1h-1zM71 554h1v1h-1zM75 579h1v1h-1zM69 589h1v1h-1zM89 575h1v1h-1zM81 581h1v1h-1zM77 572h1v1h-1zM76 581h1v1h-1zM70 576h1v1h-1zM67 580h1v1h-1zM87 577h1v1h-1zM70 578h1v1h-1zM67 572h1v1h-1zM77 585h1v1h-1zM71 583h1v1h-1zM81 586h1v1h-1zM67 581h1v1h-1zM65 577h1v1h-1zM68 580h1v1h-1zM79 586h1v1h-1zM74 585h1v1h-1zM72 583h1v1h-1zM74 586h1v1h-1zM64 584h1v1h-1zM75 573h1v1h-1zM68 576h1v1h-1zM73 569h1v1h-1zM74 589h1v1h-1zM79 573h1v1h-1zM74 575h1v1h-1zM66 586h1v1h-1zM75 585h1v1h-1zM69 579h1v1h-1zM75 570h1v1h-1zM78 568h1v1h-1zM68 586h1v1h-1zM71 574h1v1h-1zM72 582h1v1h-1zM72 568h1v1h-1zM87 560h1v1h-1zM74 576h1v1h-1zM68 576h1v1h-1zM67 586h1v1h-1zM68 562h1v1h-1zM69 585h1v1h-1zM70 574h1v1h-1zM67 585h1v1h-1zM69 575h1v1h-1zM71 581h1v1h-1zM86 573h1v1h-1zM72 575h1v1h-1zM78 584h1v1h-1zM66 583h1v1h-1zM83 590h1v1h-1zM89 587h1v1h-1zM74 579h1v1h-1zM69 578h1v1h-1zM72 575h1v1h-1zM84 571h1v1h-1zM82 577h1v1h-1zM64 578h1v1h-1zM66 582h1v1h-1zM74 571h1v1h-1zM77 587h1v1h-1zM79 587h1v1h-1zM83 578h1v1h-1zM73 583h1v1h-1zM74 588h1v1h-1zM81 552h1v1h-1zM70 573h1v1h-1zM74 584h1v1h-1zM77 581h1v1h-1zM71 567h1v1h-1zM76 580h1v1h-1zM71 570h1v1h-1zM71 572h1v1h-1zM84 578h1v1h-1zM81 587h1v1h-1zM76 580h1v1h-1zM78 571h1v1h-1zM79 577h1v1h-1zM70 581h1v1h-1zM82 578h1v1h-1zM74 581h1v1h-1zM68 574h1v1h-1zM101 583h1v1h-1zM77 567h1v1h-1zM71 577h1v1h-1zM78 579h1v1h-1zM87 582h1v1h-1zM77 584h1v1h-1zM71 589h1v1h-1zM72 582h1v1h-1zM67 583h1v1h-1zM67 588h1v1h-1zM74 581h1v1h-1zM65 589h1v1h-1zM79 586h1v1h-1zM79 589h1v1h-1zM83 580h1v1h-1zM64 573h1v1h-1zM78 568h1v1h-1zM73 580h1v1h-1zM76 590h1v1h-1zM66 567h1v1h-1zM75 566h1v1h-1zM75 586h1v1h-1zM69 582h1v1h-1zM69 577h1v1h-1zM73 554h1v1h-1zM75 586h1v1h-1zM67 582h1v1h-1zM68 576h1v1h-1zM67 582h1v1h-1zM68 581h1v1h-1zM71 572h1v1h-1zM72 586h1v1h-1zM70 578h1v1h-1zM65 582h1v1h-1zM73 579h1v1h-1zM76 571h1v1h-1zM90 584h1v1h-1zM66 572h1v1h-1zM73 584h1v1h-1zM66 571h1v1h-1zM76 568h1v1h-1zM74 581h1v1h-1zM68 581h1v1h-1zM66 582h1v1h-1zM77 583h1v1h-1zM71 582h1v1h-1zM81 569h1v1h-1zM78 577h1v1h-1zM72 584h1v1h-1zM66 583h1v1h-1zM66 586h1v1h-1zM83 572h1v1h-1zM70 589h1v1h-1zM86 576h1v1h-1zM78 584h1v1h-1zM75 588h1v1h-1zM83 587h1v1h-1zM71 578h1v1h-1zM67 588h1v1h-1zM85 577h1v1h-1zM85 581h1v1h-1zM74 583h1v1h-1zM76 573h1v1h-1zM73 565h1v1h-1zM84 570h1v1h-1zM86 584h1v1h-1zM87 567h1v1h-1zM71 568h1v1h-1zM79 583h1v1h-1zM70 580h1v1h-1zM83 588h1v1h-1zM67 569h1v1h-1zM68 571h1v1h-1zM84 578h1v1h-1zM65 586h1v1h-1zM71 582h1v1h-1zM65 582h1v1h-1zM79 580h1v1h-1zM78 580h1v1h-1zM75 581h1v1h-1zM72 586h1v1h-1zM78 575h1v1h-1zM75 579h1v1h-1zM72 569h1v1h-1zM80 578h1v1h-1zM75 582h1v1h-1zM74 578h1v1h-1zM83 579h1v1h-1zM84 573h1v1h-1zM81 584h1v1h-1zM89 574h1v1h-1zM78 584h1v1h-1zM83 580h1v1h-1zM79 578h1v1h-1zM78 571h1v1h-1zM74 576h1v1h-1zM86 578h1v1h-1zM66 570h1v1h-1zM84 581h1v1h-1zM70 574h1v1h-1zM65 565h1v1h-1zM75 580h1v1h-1zM71 579h1v1h-1zM81 590h1v1h-1zM69 589h1v1h-1zM79 578h1v1h-1zM76 571h1v1h-1zM95 588h1v1h-1zM70 588h1v1h-1zM71 581h1v1h-1zM79 566h1v1h-1zM64 580h1v1h-1zM68 573h1v1h-1zM74 587h1v1h-1zM73 588h1v1h-1zM71 585h1v1h-1zM72 584h1v1h-1zM82 577h1v1h-1zM65 585h1v1h-1zM78 577h1v1h-1zM71 583h1v1h-1zM70 581h1v1h-1zM76 590h1v1h-1zM85 576h1v1h-1zM71 585h1v1h-1zM67 572h1v1h-1zM64 578h1v1h-1zM78 576h1v1h-1zM73 574h1v1h-1zM72 564h1v1h-1zM69 576h1v1h-1zM82 576h1v1h-1zM78 582h1v1h-1zM83 580h1v1h-1zM71 582h1v1h-1zM74 573h1v1h-1zM75 567h1v1h-1zM69 579h1v1h-1zM71 570h1v1h-1zM65 589h1v1h-1zM75 584h1v1h-1zM75 574h1v1h-1zM75 573h1v1h-1zM80 579h1v1h-1zM79 578h1v1h-1zM76 560h1v1h-1zM69 584h1v1h-1zM81 579h1v1h-1zM73 582h1v1h-1zM67 588h1v1h-1zM70 581h1v1h-1zM64 560h1v1h-1zM80 590h1v1h-1zM72 585h1v1h-1zM82 583h1v1h-1zM76 581h1v1h-1zM66 580h1v1h-1zM77 580h1v1h-1zM69 590h1v1h-1zM76 583h1v1h-1zM73 579h1v1h-1zM72 579h1v1h-1zM66 575h1v1h-1zM71 568h1v1h-1zM79 583h1v1h-1zM72 574h1v1h-1zM78 581h1v1h-1zM86 584h1v1h-1zM70 571h1v1h-1zM65 574h1v1h-1zM74 581h1v1h-1zM73 582h1v1h-1zM79 579h1v1h-1zM67 572h1v1h-1zM85 580h1v1h-1zM64 586h1v1h-1zM80 579h1v1h-1zM71 577h1v1h-1zM77 585h1v1h-1zM75 574h1v1h-1zM72 586h1v1h-1zM74 573h1v1h-1zM69 567h1v1h-1zM66 574h1v1h-1zM70 580h1v1h-1zM70 576h1v1h-1zM73 569h1v1h-1zM78 589h1v1h-1zM72 585h1v1h-1zM78 589h1v1h-1zM77 582h1v1h-1zM74 584h1v1h-1zM76 582h1v1h-1zM84 579h1v1h-1zM87 587h1v1h-1zM77 584h1v1h-1zM68 589h1v1h-1zM77 574h1v1h-1zM84 585h1v1h-1zM69 569h1v1h-1zM66 581h1v1h-1zM66 578h1v1h-1zM72 580h1v1h-1zM74 574h1v1h-1zM69 581h1v1h-1zM82 577h1v1h-1zM72 589h1v1h-1zM74 582h1v1h-1zM84 585h1v1h-1zM74 582h1v1h-1zM70 587h1v1h-1zM81 578h1v1h-1zM75 587h1v1h-1zM66 578h1v1h-1zM81 569h1v1h-1zM64 577h1v1h-1zM70 586h1v1h-1zM70 589h1v1h-1zM68 568h1v1h-1zM79 582h1v1h-1zM78 585h1v1h-1zM74 584h1v1h-1zM71 584h1v1h-1zM75 579h1v1h-1zM79 578h1v1h-1zM76 583h1v1h-1zM80 584h1v1h-1zM74 568h1v1h-1zM69 576h1v1h-1zM72 577h1v1h-1zM66 590h1v1h-1zM76 582h1v1h-1zM68 572h1v1h-1zM69 576h1v1h-1zM78 582h1v1h-1zM64 585h1v1h-1zM76 583h1v1h-1zM82 583h1v1h-1zM72 582h1v1h-1zM78 566h1v1h-1zM67 582h1v1h-1zM79 590h1v1h-1zM82 580h1v1h-1zM76 588h1v1h-1zM81 588h1v1h-1zM68 578h1v1h-1zM81 578h1v1h-1zM76 576h1v1h-1zM72 583h1v1h-1zM76 576h1v1h-1zM72 585h1v1h-1zM80 585h1v1h-1zM73 587h1v1h-1zM66 577h1v1h-1zM72 573h1v1h-1zM84 589h1v1h-1zM87 580h1v1h-1zM66 589h1v1h-1zM76 577h1v1h-1zM66 570h1v1h-1zM74 589h1v1h-1zM67 589h1v1h-1zM83 580h1v1h-1zM69 577h1v1h-1zM75 590h1v1h-1zM72 568h1v1h-1zM77 585h1v1h-1zM80 573h1v1h-1zM73 587h1v1h-1zM76 583h1v1h-1zM80 584h1v1h-1zM76 587h1v1h-1zM71 572h1v1h-1zM65 589h1v1h-1zM66 568h1v1h-1zM78 572h1v1h-1zM82 584h1v1h-1zM72 576h1v1h-1zM79 565h1v1h-1zM74 585h1v1h-1zM79 564h1v1h-1zM82 573h1v1h-1zM81 587h1v1h-1zM78 582h1v1h-1zM81 575h1v1h-1zM86 583h1v1h-1zM68 571h1v1h-1zM84 580h1v1h-1zM70 571h1v1h-1zM77 579h1v1h-1zM78 585h1v1h-1zM75 578h1v1h-1zM67 574h1v1h-1zM71 576h1v1h-1zM91 570h1v1h-1zM75 573h1v1h-1zM75 577h1v1h-1zM68 582h1v1h-1zM77 589h1v1h-1zM85 587h1v1h-1zM67 583h1v1h-1zM70 589h1v1h-1zM72 584h1v1h-1zM85 583h1v1h-1zM69 579h1v1h-1zM66 575h1v1h-1zM66 576h1v1h-1zM69 587h1v1h-1zM79 586h1v1h-1zM78 574h1v1h-1zM78 582h1v1h-1zM81 586h1v1h-1zM65 567h1v1h-1zM67 564h1v1h-1zM77 577h1v1h-1zM85 572h1v1h-1zM65 585h1v1h-1zM74 589h1v1h-1zM75 576h1v1h-1zM69 583h1v1h-1zM75 574h1v1h-1zM68 582h1v1h-1zM82 569h1v1h-1zM74 580h1v1h-1zM68 572h1v1h-1zM72 578h1v1h-1zM65 569h1v1h-1zM84 587h1v1h-1zM78 573h1v1h-1zM75 576h1v1h-1zM72 584h1v1h-1zM74 589h1v1h-1zM70 585h1v1h-1zM73 580h1v1h-1zM83 582h1v1h-1zM67 589h1v1h-1zM66 587h1v1h-1zM86 576h1v1h-1zM68 571h1v1h-1zM74 568h1v1h-1zM71 586h1v1h-1zM77 589h1v1h-1zM77 576h1v1h-1zM73 583h1v1h-1zM65 574h1v1h-1zM65 573h1v1h-1zM73 583h1v1h-1zM86 582h1v1h-1zM76 575h1v1h-1zM68 564h1v1h-1zM78 585h1v1h-1zM85 575h1v1h-1zM74 581h1v1h-1zM76 570h1v1h-1zM72 590h1v1h-1zM73 572h1v1h-1zM69 574h1v1h-1zM75 574h1v1h-1zM69 582h1v1h-1zM68 585h1v1h-1zM70 583h1v1h-1zM84 590h1v1h-1zM78 583h1v1h-1zM79 585h1v1h-1zM77 587h1v1h-1zM73 585h1v1h-1zM67 582h1v1h-1zM72 586h1v1h-1zM70 582h1v1h-1zM82 581h1v1h-1zM77 578h1v1h-1zM73 579h1v1h-1zM73 589h1v1h-1zM81 573h1v1h-1zM71 578h1v1h-1zM66 571h1v1h-1zM83 576h1v1h-1zM72 584h1v1h-1zM79 589h1v1h-1zM79 587h1v1h-1zM76 582h1v1h-1zM65 579h1v1h-1zM77 573h1v1h-1zM64 587h1v1h-1zM73 587h1v1h-1zM78 573h1v1h-1zM80 572h1v1h-1zM71 589h1v1h-1zM81 587h1v1h-1zM84 579h1v1h-1zM79 584h1v1h-1zM72 576h1v1h-1zM74 587h1v1h-1zM72 587h1v1h-1zM72 557h1v1h-1zM78 573h1v1h-1zM80 569h1v1h-1zM72 578h1v1h-1zM78 586h1v1h-1zM74 572h1v1h-1zM73 569h1v1h-1zM65 583h1v1h-1zM75 583h1v1h-1zM71 577h1v1h-1zM74 582h1v1h-1zM78 576h1v1h-1zM78 575h1v1h-1zM73 589h1v1h-1zM82 582h1v1h-1zM74 582h1v1h-1zM69 581h1v1h-1zM79 587h1v1h-1zM68 587h1v1h-1zM75 576h1v1h-1zM80 585h1v1h-1zM72 578h1v1h-1zM79 559h1v1h-1zM72 582h1v1h-1zM70 571h1v1h-1zM79 589h1v1h-1zM76 584h1v1h-1zM70 585h1v1h-1zM93 586h1v1h-1zM69 574h1v1h-1zM79 583h1v1h-1zM70 588h1v1h-1zM70 587h1v1h-1zM70 560h1v1h-1zM73 583h1v1h-1zM65 589h1v1h-1zM76 583h1v1h-1zM71 576h1v1h-1zM73 581h1v1h-1zM76 584h1v1h-1zM76 590h1v1h-1zM77 588h1v1h-1zM75 582h1v1h-1zM69 583h1v1h-1zM74 571h1v1h-1zM75 579h1v1h-1zM74 577h1v1h-1zM67 585h1v1h-1zM70 573h1v1h-1zM65 583h1v1h-1zM74 583h1v1h-1zM76 584h1v1h-1zM74 569h1v1h-1zM72 586h1v1h-1zM89 588h1v1h-1zM72 580h1v1h-1zM72 582h1v1h-1zM80 570h1v1h-1zM85 572h1v1h-1zM65 579h1v1h-1zM82 581h1v1h-1zM80 570h1v1h-1zM78 578h1v1h-1zM69 576h1v1h-1zM83 576h1v1h-1zM70 580h1v1h-1zM74 581h1v1h-1zM76 589h1v1h-1zM68 585h1v1h-1zM84 580h1v1h-1zM70 575h1v1h-1zM85 580h1v1h-1zM71 582h1v1h-1zM81 586h1v1h-1zM75 582h1v1h-1zM76 581h1v1h-1zM72 573h1v1h-1zM74 577h1v1h-1zM67 585h1v1h-1zM64 582h1v1h-1zM64 582h1v1h-1zM70 581h1v1h-1zM69 589h1v1h-1zM65 580h1v1h-1zM66 584h1v1h-1zM68 584h1v1h-1zM85 588h1v1h-1zM78 571h1v1h-1zM82 569h1v1h-1zM71 587h1v1h-1zM73 565h1v1h-1zM65 574h1v1h-1zM68 578h1v1h-1zM75 581h1v1h-1zM71 577h1v1h-1zM68 566h1v1h-1zM75 590h1v1h-1zM68 577h1v1h-1zM72 569h1v1h-1zM75 589h1v1h-1zM72 575h1v1h-1zM71 589h1v1h-1zM82 585h1v1h-1zM78 580h1v1h-1zM73 587h1v1h-1zM75 575h1v1h-1zM71 587h1v1h-1zM71 569h1v1h-1zM75 574h1v1h-1zM91 564h1v1h-1zM73 578h1v1h-1zM75 588h1v1h-1zM88 579h1v1h-1zM65 580h1v1h-1zM73 574h1v1h-1zM81 574h1v1h-1zM73 571h1v1h-1zM65 579h1v1h-1zM72 586h1v1h-1zM80 587h1v1h-1zM76 590h1v1h-1zM70 578h1v1h-1zM80 583h1v1h-1zM64 578h1v1h-1zM65 582h1v1h-1zM77 580h1v1h-1zM74 577h1v1h-1zM66 582h1v1h-1zM70 582h1v1h-1zM67 585h1v1h-1zM73 589h1v1h-1zM71 579h1v1h-1zM75 576h1v1h-1zM71 566h1v1h-1zM74 579h1v1h-1zM69 579h1v1h-1zM75 590h1v1h-1zM74 581h1v1h-1zM77 571h1v1h-1zM74 564h1v1h-1zM69 577h1v1h-1zM71 567h1v1h-1zM81 567h1v1h-1zM70 563h1v1h-1zM72 574h1v1h-1zM84 586h1v1h-1zM77 579h1v1h-1zM77 570h1v1h-1zM65 585h1v1h-1zM65 581h1v1h-1zM74 587h1v1h-1zM88 585h1v1h-1zM76 586h1v1h-1zM74 580h1v1h-1zM64 576h1v1h-1zM78 583h1v1h-1zM73 590h1v1h-1zM68 586h1v1h-1zM71 589h1v1h-1zM68 580h1v1h-1zM74 586h1v1h-1zM66 572h1v1h-1zM66 577h1v1h-1zM74 589h1v1h-1zM67 584h1v1h-1zM74 573h1v1h-1zM80 571h1v1h-1zM69 584h1v1h-1zM83 584h1v1h-1zM66 580h1v1h-1zM82 584h1v1h-1zM77 577h1v1h-1zM76 573h1v1h-1zM70 588h1v1h-1zM70 569h1v1h-1zM72 584h1v1h-1zM67 586h1v1h-1zM73 582h1v1h-1zM79 583h1v1h-1zM82 572h1v1h-1zM80 588h1v1h-1zM78 575h1v1h-1zM70 581h1v1h-1zM79 573h1v1h-1zM75 589h1v1h-1zM82 584h1v1h-1zM71 583h1v1h-1zM78 570h1v1h-1zM71 575h1v1h-1zM73 571h1v1h-1zM68 570h1v1h-1zM74 583h1v1h-1zM75 570h1v1h-1zM76 573h1v1h-1zM84 579h1v1h-1zM75 586h1v1h-1zM67 577h1v1h-1zM93 585h1v1h-1zM69 559h1v1h-1zM68 580h1v1h-1zM80 578h1v1h-1zM74 574h1v1h-1zM76 566h1v1h-1zM68 585h1v1h-1zM79 569h1v1h-1zM68 581h1v1h-1zM73 577h1v1h-1zM72 573h1v1h-1zM74 573h1v1h-1zM64 584h1v1h-1zM82 577h1v1h-1zM70 584h1v1h-1zM70 583h1v1h-1zM68 586h1v1h-1zM74 585h1v1h-1zM76 589h1v1h-1zM65 574h1v1h-1zM73 571h1v1h-1zM84 588h1v1h-1zM79 575h1v1h-1zM78 570h1v1h-1zM68 574h1v1h-1zM82 580h1v1h-1zM67 583h1v1h-1zM72 587h1v1h-1zM73 582h1v1h-1zM87 569h1v1h-1zM74 590h1v1h-1zM74 578h1v1h-1zM77 582h1v1h-1zM73 587h1v1h-1zM67 584h1v1h-1zM65 575h1v1h-1zM70 581h1v1h-1zM77 582h1v1h-1zM69 580h1v1h-1zM67 571h1v1h-1zM87 575h1v1h-1zM65 585h1v1h-1zM66 579h1v1h-1zM73 588h1v1h-1zM81 583h1v1h-1zM72 579h1v1h-1zM81 589h1v1h-1zM71 586h1v1h-1zM74 589h1v1h-1zM79 578h1v1h-1zM80 565h1v1h-1zM65 572h1v1h-1zM72 588h1v1h-1zM74 584h1v1h-1zM76 577h1v1h-1zM79 575h1v1h-1zM69 573h1v1h-1zM70 580h1v1h-1zM68 583h1v1h-1zM65 576h1v1h-1zM78 583h1v1h-1zM79 585h1v1h-1zM78 561h1v1h-1zM76 581h1v1h-1zM68 571h1v1h-1zM69 582h1v1h-1zM74 584h1v1h-1zM74 583h1v1h-1zM86 585h1v1h-1zM67 574h1v1h-1zM72 577h1v1h-1zM68 585h1v1h-1zM83 583h1v1h-1zM80 575h1v1h-1zM73 578h1v1h-1zM68 589h1v1h-1zM76 570h1v1h-1zM74 560h1v1h-1zM72 581h1v1h-1zM68 590h1v1h-1zM66 589h1v1h-1zM85 585h1v1h-1zM77 585h1v1h-1zM67 585h1v1h-1zM73 579h1v1h-1zM78 570h1v1h-1zM75 584h1v1h-1zM86 586h1v1h-1zM65 588h1v1h-1zM69 581h1v1h-1zM71 575h1v1h-1zM75 585h1v1h-1zM70 579h1v1h-1zM74 582h1v1h-1zM68 571h1v1h-1zM66 581h1v1h-1zM75 567h1v1h-1zM82 581h1v1h-1zM72 579h1v1h-1zM81 570h1v1h-1zM70 583h1v1h-1zM71 589h1v1h-1zM77 566h1v1h-1zM72 590h1v1h-1zM71 574h1v1h-1zM75 588h1v1h-1zM67 589h1v1h-1zM75 563h1v1h-1zM64 582h1v1h-1zM70 588h1v1h-1zM88 588h1v1h-1zM81 581h1v1h-1zM78 580h1v1h-1zM79 585h1v1h-1zM70 588h1v1h-1zM79 567h1v1h-1zM65 563h1v1h-1zM76 571h1v1h-1zM68 571h1v1h-1zM71 577h1v1h-1zM75 574h1v1h-1zM69 588h1v1h-1zM83 579h1v1h-1zM80 573h1v1h-1zM64 584h1v1h-1zM74 589h1v1h-1zM75 588h1v1h-1zM68 580h1v1h-1zM70 587h1v1h-1zM68 577h1v1h-1zM75 579h1v1h-1zM82 573h1v1h-1zM76 575h1v1h-1zM72 581h1v1h-1zM76 589h1v1h-1zM65 581h1v1h-1zM79 584h1v1h-1zM76 578h1v1h-1zM79 585h1v1h-1zM75 576h1v1h-1zM67 583h1v1h-1zM68 580h1v1h-1zM72 573h1v1h-1zM65 585h1v1h-1zM64 571h1v1h-1zM69 574h1v1h-1zM67 569h1v1h-1zM81 584h1v1h-1zM71 586h1v1h-1zM71 571h1v1h-1zM78 575h1v1h-1zM71 577h1v1h-1zM71 576h1v1h-1zM80 581h1v1h-1zM70 572h1v1h-1zM67 587h1v1h-1zM76 585h1v1h-1zM69 587h1v1h-1zM81 574h1v1h-1zM70 573h1v1h-1zM64 579h1v1h-1zM75 583h1v1h-1zM74 582h1v1h-1zM73 586h1v1h-1zM70 567h1v1h-1zM84 585h1v1h-1zM81 578h1v1h-1zM70 571h1v1h-1zM75 571h1v1h-1zM65 580h1v1h-1zM81 570h1v1h-1zM73 588h1v1h-1zM80 581h1v1h-1zM74 580h1v1h-1zM71 584h1v1h-1zM82 585h1v1h-1zM76 584h1v1h-1zM88 580h1v1h-1zM66 567h1v1h-1zM72 561h1v1h-1zM66 570h1v1h-1zM71 572h1v1h-1zM81 582h1v1h-1zM76 579h1v1h-1zM68 571h1v1h-1zM70 589h1v1h-1zM77 587h1v1h-1zM83 569h1v1h-1zM70 576h1v1h-1zM73 573h1v1h-1zM75 579h1v1h-1zM70 589h1v1h-1zM74 570h1v1h-1zM74 584h1v1h-1zM81 577h1v1h-1zM67 576h1v1h-1zM72 577h1v1h-1zM66 577h1v1h-1zM71 578h1v1h-1zM68 568h1v1h-1zM68 582h1v1h-1zM67 582h1v1h-1zM77 583h1v1h-1zM81 581h1v1h-1zM78 587h1v1h-1zM66 582h1v1h-1zM74 579h1v1h-1zM76 577h1v1h-1zM77 572h1v1h-1zM69 572h1v1h-1zM72 583h1v1h-1zM78 578h1v1h-1zM77 581h1v1h-1zM67 585h1v1h-1zM66 585h1v1h-1zM69 580h1v1h-1zM67 573h1v1h-1zM71 585h1v1h-1zM76 585h1v1h-1zM69 590h1v1h-1zM68 568h1v1h-1zM74 575h1v1h-1zM76 581h1v1h-1zM77 586h1v1h-1zM70 574h1v1h-1zM73 584h1v1h-1zM73 565h1v1h-1zM79 582h1v1h-1zM70 588h1v1h-1zM66 572h1v1h-1zM72 577h1v1h-1zM79 577h1v1h-1zM73 567h1v1h-1zM72 588h1v1h-1zM73 587h1v1h-1zM64 584h1v1h-1zM76 584h1v1h-1zM68 577h1v1h-1zM70 587h1v1h-1zM75 571h1v1h-1zM75 586h1v1h-1zM72 589h1v1h-1zM71 575h1v1h-1zM76 574h1v1h-1zM76 575h1v1h-1zM66 570h1v1h-1zM72 578h1v1h-1zM71 587h1v1h-1zM77 581h1v1h-1zM79 579h1v1h-1zM72 581h1v1h-1zM69 586h1v1h-1zM84 567h1v1h-1zM65 585h1v1h-1zM71 578h1v1h-1zM86 581h1v1h-1zM76 579h1v1h-1zM71 565h1v1h-1zM80 569h1v1h-1zM93 581h1v1h-1zM74 572h1v1h-1zM70 580h1v1h-1zM80 574h1v1h-1zM86 582h1v1h-1zM65 586h1v1h-1zM74 586h1v1h-1zM66 587h1v1h-1zM70 583h1v1h-1zM75 576h1v1h-1zM72 578h1v1h-1zM78 588h1v1h-1zM74 583h1v1h-1zM73 578h1v1h-1zM74 583h1v1h-1zM82 580h1v1h-1zM67 589h1v1h-1zM75 590h1v1h-1zM70 580h1v1h-1zM68 576h1v1h-1zM67 584h1v1h-1zM81 583h1v1h-1zM73 585h1v1h-1zM80 578h1v1h-1zM70 576h1v1h-1zM76 583h1v1h-1zM71 586h1v1h-1zM76 581h1v1h-1zM72 579h1v1h-1zM66 581h1v1h-1z" fill="#000" fill-opacity="0.72"/>
<path d="M67 510h1v1h-1zM74 512h1v1h-1zM68 518h1v1h-1zM72 517h1v1h-1zM76 509h1v1h-1zM78 515h1v1h-1zM73 512h1v1h-1zM71 525h1v1h-1zM86 513h1v1h-1zM73 526h1v1h-1zM84 506h1v1h-1zM69 515h1v1h-1zM75 512h1v1h-1zM82 520h1v1h-1zM68 517h1v1h-1zM66 523h1v1h-1zM79 522h1v1h-1zM82 516h1v1h-1zM78 519h1v1h-1zM76 518h1v1h-1zM70 518h1v1h-1zM75 509h1v1h-1zM78 511h1v1h-1zM71 507h1v1h-1zM80 520h1v1h-1zM67 515h1v1h-1zM66 513h1v1h-1zM71 524h1v1h-1zM80 513h1v1h-1zM66 518h1v1h-1zM74 514h1v1h-1zM84 515h1v1h-1zM76 518h1v1h-1zM72 521h1v1h-1zM69 518h1v1h-1zM64 511h1v1h-1zM81 526h1v1h-1zM66 516h1v1h-1zM74 518h1v1h-1zM79 518h1v1h-1zM70 516h1v1h-1zM72 514h1v1h-1zM79 517h1v1h-1zM74 510h1v1h-1zM80 518h1v1h-1zM80 505h1v1h-1zM82 527h1v1h-1zM65 508h1v1h-1zM75 519h1v1h-1zM74 523h1v1h-1zM72 522h1v1h-1zM72 516h1v1h-1zM81 517h1v1h-1zM79 510h1v1h-1zM69 518h1v1h-1zM73 518h1v1h-1zM73 519h1v1h-1zM78 514h1v1h-1zM69 517h1v1h-1zM70 509h1v1h-1zM65 520h1v1h-1zM78 519h1v1h-1zM84 519h1v1h-1zM76 521h1v1h-1zM77 519h1v1h-1zM78 522h1v1h-1zM67 529h1v1h-1zM77 526h1v1h-1zM82 523h1v1h-1zM79 531h1v1h-1zM72 522h1v1h-1zM69 514h1v1h-1zM69 516h1v1h-1zM80 526h1v1h-1zM70 526h1v1h-1zM74 521h1v1h-1zM75 522h1v1h-1zM72 515h1v1h-1zM68 517h1v1h-1zM76 516h1v1h-1zM69 519h1v1h-1zM71 513h1v1h-1zM80 517h1v1h-1zM78 503h1v1h-1zM67 516h1v1h-1zM78 519h1v1h-1zM68 520h1v1h-1zM78 523h1v1h-1zM79 516h1v1h-1zM79 514h1v1h-1zM84 509h1v1h-1zM66 516h1v1h-1zM68 512h1v1h-1zM71 515h1v1h-1zM71 518h1v1h-1zM79 514h1v1h-1zM76 514h1v1h-1zM69 518h1v1h-1zM71 518h1v1h-1zM67 518h1v1h-1zM71 528h1v1h-1zM66 515h1v1h-1zM84 525h1v1h-1zM78 504h1v1h-1zM72 518h1v1h-1zM73 515h1v1h-1zM78 515h1v1h-1zM74 526h1v1h-1zM81 509h1v1h-1zM75 520h1v1h-1zM87 511h1v1h-1zM77 509h1v1h-1zM67 512h1v1h-1zM68 532h1v1h-1zM71 523h1v1h-1zM84 519h1v1h-1zM72 524h1v1h-1zM79 517h1v1h-1zM65 508h1v1h-1zM77 510h1v1h-1zM67 519h1v1h-1zM71 523h1v1h-1zM74 513h1v1h-1zM66 513h1v1h-1zM87 518h1v1h-1zM67 522h1v1h-1zM71 508h1v1h-1zM83 507h1v1h-1zM79 510h1v1h-1zM76 519h1v1h-1zM80 515h1v1h-1zM68 523h1v1h-1zM74 508h1v1h-1zM69 523h1v1h-1zM69 521h1v1h-1zM84 518h1v1h-1zM79 518h1v1h-1zM69 509h1v1h-1zM67 512h1v1h-1zM78 521h1v1h-1zM75 515h1v1h-1zM72 515h1v1h-1zM75 508h1v1h-1zM66 526h1v1h-1zM69 520h1v1h-1zM69 523h1v1h-1zM81 516h1v1h-1zM74 512h1v1h-1zM68 518h1v1h-1zM69 505h1v1h-1zM80 522h1v1h-1zM76 516h1v1h-1zM71 520h1v1h-1zM72 525h1v1h-1zM78 519h1v1h-1zM72 517h1v1h-1zM72 521h1v1h-1zM70 521h1v1h-1zM77 521h1v1h-1zM73 512h1v1h-1zM79 513h1v1h-1zM92 516h1v1h-1zM72 511h1v1h-1zM77 529h1v1h-1zM72 522h1v1h-1zM69 510h1v1h-1zM69 522h1v1h-1zM72 511h1v1h-1zM74 514h1v1h-1zM84 516h1v1h-1zM76 518h1v1h-1zM70 523h1v1h-1zM79 525h1v1h-1zM68 526h1v1h-1zM78 514h1v1h-1zM75 517h1v1h-1zM71 515h1v1h-1zM76 523h1v1h-1zM80 517h1v1h-1zM77 511h1v1h-1zM73 519h1v1h-1zM72 505h1v1h-1zM65 511h1v1h-1zM78 506h1v1h-1zM76 502h1v1h-1zM81 518h1v1h-1zM75 515h1v1h-1zM84 530h1v1h-1zM70 516h1v1h-1zM71 520h1v1h-1zM77 517h1v1h-1zM76 516h1v1h-1zM65 529h1v1h-1zM69 515h1v1h-1zM77 520h1v1h-1zM74 524h1v1h-1zM69 521h1v1h-1zM72 513h1v1h-1zM73 521h1v1h-1zM72 509h1v1h-1zM76 514h1v1h-1zM77 517h1v1h-1zM69 523h1v1h-1zM87 522h1v1h-1zM75 511h1v1h-1zM73 518h1v1h-1zM85 516h1v1h-1zM74 516h1v1h-1zM67 513h1v1h-1zM66 513h1v1h-1zM70 520h1v1h-1zM70 516h1v1h-1zM71 515h1v1h-1zM69 526h1v1h-1zM81 519h1v1h-1zM76 510h1v1h-1zM69 525h1v1h-1zM80 521h1v1h-1zM72 516h1v1h-1zM73 517h1v1h-1zM82 516h1v1h-1zM74 513h1v1h-1zM70 517h1v1h-1zM74 516h1v1h-1zM70 520h1v1h-1zM77 516h1v1h-1zM75 516h1v1h-1zM72 515h1v1h-1zM78 513h1v1h-1zM83 513h1v1h-1zM76 514h1v1h-1z" fill="#000" fill-opacity="0.4"/>
<path d="M65 561h1v1h-1zM69 553h1v1h-1zM69 543h1v1h-1zM75 568h1v1h-1zM69 540h1v1h-1zM69 537h1v1h-1zM65 559h1v1h-1zM65 523h1v1h-1zM74 538h1v1h-1zM66 565h1v1h-1zM69 557h1v1h-1zM67 567h1v1h-1zM71 553h1v1h-1zM71 572h1v1h-1zM87 537h1v1h-1zM70 523h1v1h-1zM64 525h1v1h-1zM69 564h1v1h-1zM81 549h1v1h-1zM73 542h1v1h-1zM86 547h1v1h-1zM69 545h1v1h-1zM67 570h1v1h-1zM79 548h1v1h-1zM72 543h1v1h-1zM67 546h1v1h-1zM73 523h1v1h-1zM83 544h1v1h-1zM70 546h1v1h-1zM79 542h1v1h-1zM75 570h1v1h-1zM67 543h1v1h-1zM65 533h1v1h-1zM65 552h1v1h-1zM69 535h1v1h-1zM65 552h1v1h-1zM67 567h1v1h-1zM72 555h1v1h-1zM69 546h1v1h-1zM72 540h1v1h-1zM75 572h1v1h-1zM69 529h1v1h-1zM73 544h1v1h-1zM68 557h1v1h-1zM67 529h1v1h-1zM64 537h1v1h-1zM66 573h1v1h-1zM69 555h1v1h-1zM65 543h1v1h-1zM77 563h1v1h-1zM74 537h1v1h-1zM65 568h1v1h-1zM88 536h1v1h-1zM80 551h1v1h-1zM65 567h1v1h-1zM71 544h1v1h-1zM77 539h1v1h-1zM90 549h1v1h-1zM88 534h1v1h-1zM66 533h1v1h-1zM71 523h1v1h-1zM71 524h1v1h-1zM74 569h1v1h-1zM75 538h1v1h-1zM66 544h1v1h-1zM71 562h1v1h-1zM64 537h1v1h-1zM79 558h1v1h-1zM73 533h1v1h-1zM86 539h1v1h-1zM79 569h1v1h-1zM65 559h1v1h-1zM78 558h1v1h-1zM73 553h1v1h-1zM67 572h1v1h-1zM65 523h1v1h-1zM70 535h1v1h-1zM64 531h1v1h-1zM66 525h1v1h-1zM79 551h1v1h-1zM70 553h1v1h-1zM88 540h1v1h-1zM80 566h1v1h-1zM72 549h1v1h-1zM67 528h1v1h-1zM68 564h1v1h-1zM75 536h1v1h-1zM71 522h1v1h-1zM70 556h1v1h-1zM76 541h1v1h-1zM67 522h1v1h-1zM66 535h1v1h-1zM75 573h1v1h-1zM72 569h1v1h-1zM67 540h1v1h-1zM72 543h1v1h-1zM66 571h1v1h-1zM69 552h1v1h-1zM68 545h1v1h-1zM83 559h1v1h-1zM71 549h1v1h-1zM73 552h1v1h-1zM69 564h1v1h-1zM70 525h1v1h-1zM80 526h1v1h-1zM65 551h1v1h-1zM72 555h1v1h-1zM65 536h1v1h-1zM81 537h1v1h-1zM64 566h1v1h-1zM72 556h1v1h-1zM70 550h1v1h-1zM81 556h1v1h-1zM68 539h1v1h-1zM77 537h1v1h-1zM65 563h1v1h-1zM74 565h1v1h-1zM66 568h1v1h-1zM71 569h1v1h-1zM72 565h1v1h-1zM66 547h1v1h-1zM77 566h1v1h-1zM65 569h1v1h-1zM71 558h1v1h-1zM83 557h1v1h-1zM79 571h1v1h-1zM70 549h1v1h-1zM65 542h1v1h-1zM74 535h1v1h-1zM69 529h1v1h-1zM68 532h1v1h-1zM68 571h1v1h-1zM67 567h1v1h-1zM79 552h1v1h-1zM67 539h1v1h-1zM65 524h1v1h-1zM69 525h1v1h-1zM65 533h1v1h-1zM76 545h1v1h-1zM76 568h1v1h-1zM76 529h1v1h-1zM73 570h1v1h-1zM73 540h1v1h-1zM73 534h1v1h-1zM71 546h1v1h-1zM68 545h1v1h-1zM74 533h1v1h-1zM71 561h1v1h-1zM75 528h1v1h-1zM85 536h1v1h-1zM69 539h1v1h-1zM89 524h1v1h-1zM74 536h1v1h-1zM78 556h1v1h-1zM83 563h1v1h-1zM74 571h1v1h-1zM70 529h1v1h-1zM65 528h1v1h-1zM66 548h1v1h-1zM67 526h1v1h-1zM75 557h1v1h-1zM72 523h1v1h-1zM66 550h1v1h-1zM68 548h1v1h-1zM77 569h1v1h-1zM78 568h1v1h-1zM67 530h1v1h-1zM71 562h1v1h-1zM73 571h1v1h-1zM75 566h1v1h-1zM75 524h1v1h-1zM69 537h1v1h-1zM83 559h1v1h-1zM68 552h1v1h-1zM80 554h1v1h-1zM68 532h1v1h-1zM71 524h1v1h-1zM66 568h1v1h-1zM65 559h1v1h-1zM72 560h1v1h-1zM67 555h1v1h-1zM123 589h1v1h-1zM133 589h1v1h-1zM99 581h1v1h-1zM102 577h1v1h-1zM123 582h1v1h-1zM135 575h1v1h-1zM120 589h1v1h-1zM107 579h1v1h-1zM131 588h1v1h-1zM128 588h1v1h-1zM99 590h1v1h-1zM110 579h1v1h-1zM94 587h1v1h-1zM116 583h1v1h-1zM115 577h1v1h-1zM119 587h1v1h-1zM136 576h1v1h-1zM106 589h1v1h-1zM128 574h1v1h-1zM97 589h1v1h-1zM135 580h1v1h-1zM91 573h1v1h-1zM120 589h1v1h-1zM138 576h1v1h-1zM110 575h1v1h-1zM99 580h1v1h-1zM99 589h1v1h-1zM106 579h1v1h-1zM120 586h1v1h-1zM113 575h1v1h-1zM90 571h1v1h-1zM127 578h1v1h-1zM113 587h1v1h-1zM98 578h1v1h-1zM90 586h1v1h-1zM100 586h1v1h-1zM116 584h1v1h-1zM109 578h1v1h-1zM94 579h1v1h-1zM119 583h1v1h-1zM124 573h1v1h-1zM117 572h1v1h-1zM125 577h1v1h-1zM119 587h1v1h-1zM132 584h1v1h-1zM95 579h1v1h-1zM129 574h1v1h-1zM91 587h1v1h-1zM92 574h1v1h-1zM116 580h1v1h-1zM109 586h1v1h-1zM127 584h1v1h-1zM107 574h1v1h-1zM104 585h1v1h-1zM102 582h1v1h-1zM92 571h1v1h-1zM117 581h1v1h-1zM117 590h1v1h-1zM110 586h1v1h-1zM125 581h1v1h-1zM107 581h1v1h-1zM137 589h1v1h-1zM133 583h1v1h-1zM126 580h1v1h-1zM117 584h1v1h-1zM96 579h1v1h-1zM131 584h1v1h-1zM105 582h1v1h-1zM102 573h1v1h-1zM126 577h1v1h-1zM134 586h1v1h-1zM133 585h1v1h-1zM104 575h1v1h-1zM137 583h1v1h-1zM131 587h1v1h-1zM101 580h1v1h-1zM101 581h1v1h-1zM129 586h1v1h-1zM113 580h1v1h-1zM103 568h1v1h-1zM110 581h1v1h-1zM90 590h1v1h-1zM134 590h1v1h-1zM98 582h1v1h-1zM102 584h1v1h-1zM121 586h1v1h-1zM133 583h1v1h-1zM129 584h1v1h-1zM114 579h1v1h-1zM96 587h1v1h-1zM129 574h1v1h-1zM100 589h1v1h-1zM110 575h1v1h-1zM95 586h1v1h-1zM118 588h1v1h-1zM108 589h1v1h-1zM105 580h1v1h-1zM110 587h1v1h-1zM126 586h1v1h-1zM122 589h1v1h-1zM112 585h1v1h-1zM123 586h1v1h-1zM131 575h1v1h-1zM111 582h1v1h-1zM137 576h1v1h-1zM96 589h1v1h-1zM123 579h1v1h-1zM124 586h1v1h-1zM106 578h1v1h-1zM116 582h1v1h-1zM108 576h1v1h-1zM128 582h1v1h-1zM120 581h1v1h-1zM118 585h1v1h-1zM97 585h1v1h-1zM122 589h1v1h-1zM99 588h1v1h-1zM122 577h1v1h-1zM115 582h1v1h-1zM93 590h1v1h-1zM135 577h1v1h-1zM128 580h1v1h-1zM114 590h1v1h-1zM110 574h1v1h-1zM108 580h1v1h-1zM94 564h1v1h-1zM101 576h1v1h-1zM137 575h1v1h-1zM108 581h1v1h-1zM105 585h1v1h-1zM124 581h1v1h-1zM92 578h1v1h-1zM116 585h1v1h-1zM121 589h1v1h-1zM125 579h1v1h-1zM102 580h1v1h-1zM121 574h1v1h-1zM121 585h1v1h-1zM122 570h1v1h-1zM119 573h1v1h-1zM93 584h1v1h-1zM114 577h1v1h-1zM93 590h1v1h-1zM98 581h1v1h-1zM133 588h1v1h-1zM106 583h1v1h-1zM137 579h1v1h-1zM122 577h1v1h-1zM102 575h1v1h-1zM107 576h1v1h-1zM121 586h1v1h-1zM96 583h1v1h-1zM137 587h1v1h-1zM131 583h1v1h-1zM103 589h1v1h-1zM94 588h1v1h-1zM138 573h1v1h-1zM123 582h1v1h-1zM130 587h1v1h-1zM97 578h1v1h-1zM132 581h1v1h-1zM99 583h1v1h-1zM123 585h1v1h-1zM132 590h1v1h-1zM105 583h1v1h-1zM136 582h1v1h-1zM109 583h1v1h-1zM104 573h1v1h-1zM128 583h1v1h-1zM118 581h1v1h-1zM113 574h1v1h-1zM96 577h1v1h-1zM135 587h1v1h-1zM126 583h1v1h-1zM90 590h1v1h-1zM114 588h1v1h-1zM108 576h1v1h-1zM118 572h1v1h-1zM101 580h1v1h-1zM109 585h1v1h-1zM118 586h1v1h-1zM135 585h1v1h-1zM117 586h1v1h-1zM103 572h1v1h-1zM137 580h1v1h-1zM95 578h1v1h-1zM90 582h1v1h-1zM111 577h1v1h-1zM113 584h1v1h-1zM99 583h1v1h-1zM113 588h1v1h-1zM102 587h1v1h-1zM128 587h1v1h-1zM136 585h1v1h-1zM132 570h1v1h-1zM118 587h1v1h-1zM131 588h1v1h-1zM107 583h1v1h-1zM136 577h1v1h-1z" fill="#000" fill-opacity="0.35"/>
<path d="M130 518h1v1h-1zM143 512h1v1h-1zM130 508h1v1h-1zM125 511h1v1h-1zM136 523h1v1h-1zM123 529h1v1h-1zM145 508h1v1h-1zM144 524h1v1h-1zM133 525h1v1h-1zM136 520h1v1h-1zM147 519h1v1h-1zM135 514h1v1h-1zM143 521h1v1h-1zM135 522h1v1h-1zM134 512h1v1h-1zM146 522h1v1h-1zM121 502h1v1h-1zM123 525h1v1h-1zM128 517h1v1h-1zM125 510h1v1h-1zM139 517h1v1h-1zM136 526h1v1h-1zM141 517h1v1h-1zM136 511h1v1h-1zM138 521h1v1h-1zM138 526h1v1h-1zM133 517h1v1h-1zM138 529h1v1h-1zM131 514h1v1h-1zM137 513h1v1h-1zM135 516h1v1h-1zM145 523h1v1h-1zM139 511h1v1h-1zM134 509h1v1h-1zM133 510h1v1h-1zM136 519h1v1h-1zM139 514h1v1h-1zM135 521h1v1h-1zM142 510h1v1h-1zM146 519h1v1h-1zM136 524h1v1h-1zM142 518h1v1h-1zM142 514h1v1h-1zM139 517h1v1h-1zM136 518h1v1h-1zM145 522h1v1h-1zM134 516h1v1h-1zM141 517h1v1h-1zM134 516h1v1h-1zM138 518h1v1h-1zM133 517h1v1h-1zM141 521h1v1h-1zM146 507h1v1h-1zM144 526h1v1h-1zM145 516h1v1h-1zM140 510h1v1h-1zM138 527h1v1h-1zM143 526h1v1h-1zM147 513h1v1h-1zM145 503h1v1h-1zM132 511h1v1h-1zM144 519h1v1h-1zM126 520h1v1h-1zM133 520h1v1h-1zM146 524h1v1h-1zM147 521h1v1h-1zM143 512h1v1h-1zM137 519h1v1h-1zM139 515h1v1h-1zM135 513h1v1h-1zM138 521h1v1h-1zM144 519h1v1h-1zM138 516h1v1h-1zM130 522h1v1h-1zM127 517h1v1h-1zM145 514h1v1h-1zM135 517h1v1h-1zM146 526h1v1h-1zM138 516h1v1h-1zM114 518h1v1h-1zM132 517h1v1h-1zM135 524h1v1h-1zM145 517h1v1h-1zM143 518h1v1h-1zM143 520h1v1h-1zM120 521h1v1h-1zM141 518h1v1h-1zM145 528h1v1h-1zM134 516h1v1h-1zM147 520h1v1h-1zM133 511h1v1h-1zM142 527h1v1h-1zM147 520h1v1h-1zM146 516h1v1h-1zM122 516h1v1h-1zM133 520h1v1h-1zM138 512h1v1h-1zM141 520h1v1h-1zM144 514h1v1h-1zM135 517h1v1h-1zM145 519h1v1h-1zM136 521h1v1h-1zM140 521h1v1h-1zM132 520h1v1h-1zM143 515h1v1h-1zM133 520h1v1h-1zM141 523h1v1h-1zM135 514h1v1h-1zM136 516h1v1h-1zM132 514h1v1h-1z" fill="#000" fill-opacity="0.3"/>
<path d="M154 524h1v1h-1zM158 518h1v1h-1zM155 524h1v1h-1zM154 514h1v1h-1zM155 517h1v1h-1zM156 513h1v1h-1zM154 513h1v1h-1zM155 527h1v1h-1zM153 524h1v1h-1zM157 518h1v1h-1zM153 516h1v1h-1zM146 520h1v1h-1zM155 516h1v1h-1zM153 515h1v1h-1zM153 523h1v1h-1zM155 520h1v1h-1zM147 522h1v1h-1zM149 527h1v1h-1zM153 513h1v1h-1zM151 508h1v1h-1zM155 521h1v1h-1zM155 509h1v1h-1zM153 509h1v1h-1zM156 523h1v1h-1zM149 522h1v1h-1zM153 523h1v1h-1zM156 513h1v1h-1zM157 511h1v1h-1zM155 523h1v1h-1zM157 529h1v1h-1zM155 519h1v1h-1zM153 511h1v1h-1zM154 517h1v1h-1zM159 520h1v1h-1zM159 530h1v1h-1zM155 516h1v1h-1zM155 522h1v1h-1zM155 519h1v1h-1zM150 519h1v1h-1zM152 523h1v1h-1zM154 526h1v1h-1zM152 519h1v1h-1zM153 516h1v1h-1zM151 509h1v1h-1zM153 521h1v1h-1zM156 526h1v1h-1zM154 508h1v1h-1zM156 513h1v1h-1zM153 524h1v1h-1zM152 521h1v1h-1zM154 519h1v1h-1zM149 510h1v1h-1zM152 520h1v1h-1zM153 510h1v1h-1zM152 518h1v1h-1zM154 524h1v1h-1zM152 518h1v1h-1zM156 530h1v1h-1zM156 524h1v1h-1zM154 516h1v1h-1zM152 525h1v1h-1zM151 522h1v1h-1zM155 528h1v1h-1zM153 520h1v1h-1zM160 531h1v1h-1zM156 522h1v1h-1zM157 515h1v1h-1zM151 523h1v1h-1zM153 514h1v1h-1zM152 517h1v1h-1zM148 516h1v1h-1zM154 524h1v1h-1zM153 520h1v1h-1zM153 526h1v1h-1zM154 524h1v1h-1zM156 523h1v1h-1zM155 516h1v1h-1zM158 510h1v1h-1zM152 528h1v1h-1zM156 510h1v1h-1zM152 535h1v1h-1zM153 533h1v1h-1zM156 509h1v1h-1zM155 512h1v1h-1zM154 518h1v1h-1zM154 518h1v1h-1zM155 519h1v1h-1zM157 534h1v1h-1zM155 515h1v1h-1zM153 523h1v1h-1zM156 533h1v1h-1zM154 516h1v1h-1zM154 515h1v1h-1zM154 511h1v1h-1zM156 513h1v1h-1zM154 521h1v1h-1zM153 515h1v1h-1zM150 520h1v1h-1zM151 519h1v1h-1zM154 508h1v1h-1zM152 522h1v1h-1zM156 536h1v1h-1zM154 523h1v1h-1zM154 530h1v1h-1zM154 526h1v1h-1zM160 510h1v1h-1zM156 517h1v1h-1zM155 525h1v1h-1zM155 521h1v1h-1zM148 513h1v1h-1zM152 518h1v1h-1zM156 509h1v1h-1zM157 526h1v1h-1zM152 518h1v1h-1zM149 519h1v1h-1zM151 525h1v1h-1zM155 518h1v1h-1zM153 515h1v1h-1zM156 512h1v1h-1zM153 533h1v1h-1zM154 519h1v1h-1zM155 516h1v1h-1zM153 512h1v1h-1zM153 517h1v1h-1zM152 519h1v1h-1zM153 524h1v1h-1zM154 510h1v1h-1zM156 520h1v1h-1zM154 510h1v1h-1zM152 519h1v1h-1zM151 518h1v1h-1zM152 525h1v1h-1zM155 528h1v1h-1zM154 518h1v1h-1zM157 521h1v1h-1zM153 511h1v1h-1zM153 529h1v1h-1zM157 528h1v1h-1zM156 513h1v1h-1zM156 526h1v1h-1zM151 527h1v1h-1zM153 533h1v1h-1zM154 526h1v1h-1zM154 516h1v1h-1zM148 514h1v1h-1zM154 532h1v1h-1zM154 518h1v1h-1zM156 526h1v1h-1zM153 525h1v1h-1zM154 516h1v1h-1zM153 521h1v1h-1zM151 518h1v1h-1zM155 516h1v1h-1zM158 516h1v1h-1zM151 518h1v1h-1zM157 515h1v1h-1zM158 524h1v1h-1zM150 526h1v1h-1zM151 526h1v1h-1zM152 520h1v1h-1zM151 525h1v1h-1zM152 519h1v1h-1zM151 521h1v1h-1zM153 511h1v1h-1zM155 526h1v1h-1zM155 512h1v1h-1zM153 516h1v1h-1zM151 505h1v1h-1zM155 524h1v1h-1zM155 517h1v1h-1zM152 524h1v1h-1zM155 522h1v1h-1zM151 518h1v1h-1zM152 514h1v1h-1zM154 511h1v1h-1zM153 522h1v1h-1zM156 524h1v1h-1zM153 519h1v1h-1zM154 513h1v1h-1zM156 516h1v1h-1zM150 516h1v1h-1zM155 514h1v1h-1zM156 520h1v1h-1zM153 516h1v1h-1zM156 507h1v1h-1zM151 516h1v1h-1zM152 524h1v1h-1zM150 522h1v1h-1zM157 521h1v1h-1zM152 518h1v1h-1zM155 516h1v1h-1zM150 530h1v1h-1zM156 525h1v1h-1zM150 522h1v1h-1zM152 526h1v1h-1zM147 533h1v1h-1zM150 528h1v1h-1zM156 513h1v1h-1zM150 528h1v1h-1zM157 510h1v1h-1zM159 520h1v1h-1zM153 519h1v1h-1zM150 508h1v1h-1zM153 507h1v1h-1zM154 528h1v1h-1zM149 513h1v1h-1zM152 516h1v1h-1zM154 525h1v1h-1zM155 522h1v1h-1zM149 526h1v1h-1zM153 509h1v1h-1zM154 503h1v1h-1zM156 529h1v1h-1zM154 525h1v1h-1zM156 521h1v1h-1zM155 526h1v1h-1zM152 513h1v1h-1zM160 518h1v1h-1zM155 522h1v1h-1zM154 531h1v1h-1zM153 530h1v1h-1zM157 520h1v1h-1zM154 532h1v1h-1zM155 515h1v1h-1zM154 523h1v1h-1zM153 513h1v1h-1zM150 518h1v1h-1zM152 516h1v1h-1zM158 517h1v1h-1zM154 524h1v1h-1zM152 524h1v1h-1zM151 522h1v1h-1zM152 519h1v1h-1zM153 515h1v1h-1zM153 521h1v1h-1zM157 511h1v1h-1zM154 523h1v1h-1zM158 527h1v1h-1zM150 525h1v1h-1zM153 524h1v1h-1zM149 511h1v1h-1zM148 515h1v1h-1zM154 517h1v1h-1zM149 520h1v1h-1zM154 518h1v1h-1zM151 528h1v1h-1zM156 504h1v1h-1zM156 516h1v1h-1zM150 513h1v1h-1zM155 512h1v1h-1zM154 520h1v1h-1zM155 521h1v1h-1zM152 526h1v1h-1zM157 520h1v1h-1zM156 521h1v1h-1zM153 532h1v1h-1zM150 518h1v1h-1zM148 528h1v1h-1zM156 521h1v1h-1zM154 505h1v1h-1zM150 509h1v1h-1zM151 529h1v1h-1zM160 519h1v1h-1zM151 518h1v1h-1zM154 510h1v1h-1zM157 507h1v1h-1zM159 520h1v1h-1zM154 523h1v1h-1zM155 517h1v1h-1zM151 517h1v1h-1zM155 532h1v1h-1zM153 518h1v1h-1zM151 523h1v1h-1zM151 509h1v1h-1zM157 516h1v1h-1zM156 518h1v1h-1zM160 515h1v1h-1zM153 521h1v1h-1zM149 519h1v1h-1zM159 518h1v1h-1zM155 532h1v1h-1zM158 514h1v1h-1zM152 513h1v1h-1zM153 515h1v1h-1zM157 513h1v1h-1zM152 527h1v1h-1zM153 519h1v1h-1zM154 521h1v1h-1zM156 521h1v1h-1zM156 528h1v1h-1zM152 526h1v1h-1zM156 521h1v1h-1zM153 527h1v1h-1zM153 522h1v1h-1zM154 528h1v1h-1zM156 517h1v1h-1zM153 507h1v1h-1zM155 517h1v1h-1zM152 521h1v1h-1zM150 529h1v1h-1zM151 525h1v1h-1zM154 516h1v1h-1zM154 519h1v1h-1zM154 522h1v1h-1zM150 532h1v1h-1zM152 527h1v1h-1zM154 518h1v1h-1zM155 527h1v1h-1zM155 515h1v1h-1zM153 520h1v1h-1zM152 527h1v1h-1zM150 509h1v1h-1zM152 537h1v1h-1zM157 523h1v1h-1zM153 530h1v1h-1zM152 523h1v1h-1zM154 517h1v1h-1zM160 512h1v1h-1zM153 518h1v1h-1zM151 522h1v1h-1zM150 519h1v1h-1zM149 528h1v1h-1zM155 521h1v1h-1zM154 515h1v1h-1zM152 518h1v1h-1zM155 516h1v1h-1zM155 523h1v1h-1zM152 516h1v1h-1zM154 521h1v1h-1zM156 526h1v1h-1zM150 530h1v1h-1zM153 535h1v1h-1zM154 526h1v1h-1zM149 523h1v1h-1zM160 519h1v1h-1zM156 525h1v1h-1zM158 528h1v1h-1zM150 518h1v1h-1zM154 517h1v1h-1zM157 517h1v1h-1zM152 518h1v1h-1zM159 524h1v1h-1zM151 517h1v1h-1zM154 517h1v1h-1zM153 514h1v1h-1zM150 522h1v1h-1zM153 527h1v1h-1zM154 513h1v1h-1zM151 514h1v1h-1zM152 521h1v1h-1zM156 534h1v1h-1zM156 526h1v1h-1zM155 514h1v1h-1zM155 525h1v1h-1zM157 524h1v1h-1zM153 513h1v1h-1zM152 520h1v1h-1zM154 520h1v1h-1zM154 525h1v1h-1zM152 518h1v1h-1zM154 519h1v1h-1zM154 516h1v1h-1zM156 532h1v1h-1zM151 512h1v1h-1zM157 508h1v1h-1zM153 517h1v1h-1zM150 523h1v1h-1zM156 512h1v1h-1zM155 512h1v1h-1zM154 525h1v1h-1zM151 520h1v1h-1zM156 519h1v1h-1zM151 526h1v1h-1zM151 521h1v1h-1zM154 514h1v1h-1zM156 507h1v1h-1zM154 532h1v1h-1zM154 516h1v1h-1zM151 529h1v1h-1zM156 524h1v1h-1zM153 516h1v1h-1zM155 527h1v1h-1zM161 518h1v1h-1zM154 523h1v1h-1zM151 515h1v1h-1zM150 529h1v1h-1zM151 507h1v1h-1zM151 526h1v1h-1zM154 524h1v1h-1zM157 528h1v1h-1zM154 512h1v1h-1zM153 517h1v1h-1zM155 520h1v1h-1zM152 510h1v1h-1zM153 528h1v1h-1zM156 526h1v1h-1zM157 518h1v1h-1zM153 525h1v1h-1zM153 522h1v1h-1zM152 521h1v1h-1zM154 522h1v1h-1zM157 518h1v1h-1zM154 527h1v1h-1zM151 513h1v1h-1zM156 520h1v1h-1zM156 525h1v1h-1zM157 523h1v1h-1zM156 518h1v1h-1zM153 521h1v1h-1zM151 517h1v1h-1zM155 511h1v1h-1zM153 520h1v1h-1zM154 530h1v1h-1zM157 518h1v1h-1zM149 519h1v1h-1zM150 519h1v1h-1zM150 521h1v1h-1zM152 530h1v1h-1zM153 522h1v1h-1zM154 519h1v1h-1zM152 521h1v1h-1zM156 510h1v1h-1zM153 509h1v1h-1zM155 532h1v1h-1zM158 507h1v1h-1zM156 528h1v1h-1zM153 523h1v1h-1zM154 502h1v1h-1zM155 510h1v1h-1zM156 514h1v1h-1zM151 527h1v1h-1zM151 519h1v1h-1zM152 517h1v1h-1zM156 526h1v1h-1zM154 517h1v1h-1zM153 529h1v1h-1zM150 511h1v1h-1zM150 520h1v1h-1zM155 525h1v1h-1zM151 511h1v1h-1zM156 515h1v1h-1zM152 511h1v1h-1zM154 529h1v1h-1zM155 524h1v1h-1zM155 521h1v1h-1zM154 531h1v1h-1zM159 519h1v1h-1zM153 520h1v1h-1zM155 521h1v1h-1zM153 521h1v1h-1zM156 530h1v1h-1zM157 516h1v1h-1zM157 511h1v1h-1zM154 529h1v1h-1zM156 528h1v1h-1zM151 520h1v1h-1zM153 528h1v1h-1zM155 526h1v1h-1zM148 523h1v1h-1zM150 529h1v1h-1zM155 531h1v1h-1zM154 514h1v1h-1zM153 527h1v1h-1zM153 515h1v1h-1zM157 525h1v1h-1zM155 516h1v1h-1zM153 523h1v1h-1zM150 530h1v1h-1zM154 517h1v1h-1zM151 521h1v1h-1zM153 525h1v1h-1zM152 506h1v1h-1zM157 509h1v1h-1zM152 528h1v1h-1zM154 521h1v1h-1zM157 523h1v1h-1zM148 526h1v1h-1zM152 517h1v1h-1zM150 515h1v1h-1zM158 513h1v1h-1zM155 528h1v1h-1zM153 517h1v1h-1zM154 512h1v1h-1zM156 533h1v1h-1zM155 523h1v1h-1zM154 525h1v1h-1zM156 516h1v1h-1zM155 530h1v1h-1zM159 521h1v1h-1zM151 522h1v1h-1zM153 525h1v1h-1zM156 520h1v1h-1zM156 530h1v1h-1zM153 528h1v1h-1zM157 526h1v1h-1zM156 515h1v1h-1zM158 511h1v1h-1zM153 522h1v1h-1zM157 523h1v1h-1zM154 531h1v1h-1zM155 530h1v1h-1zM156 519h1v1h-1zM153 513h1v1h-1zM153 523h1v1h-1zM158 525h1v1h-1zM151 524h1v1h-1zM155 516h1v1h-1zM157 512h1v1h-1zM157 520h1v1h-1zM153 523h1v1h-1zM151 519h1v1h-1zM156 524h1v1h-1zM152 521h1v1h-1zM154 513h1v1h-1zM152 517h1v1h-1zM150 530h1v1h-1zM152 508h1v1h-1zM153 502h1v1h-1zM149 530h1v1h-1zM157 523h1v1h-1zM153 516h1v1h-1zM158 512h1v1h-1zM157 532h1v1h-1zM152 509h1v1h-1zM154 512h1v1h-1zM153 516h1v1h-1zM154 521h1v1h-1zM154 532h1v1h-1zM155 519h1v1h-1zM155 525h1v1h-1zM154 518h1v1h-1zM152 523h1v1h-1zM150 528h1v1h-1zM154 507h1v1h-1zM153 503h1v1h-1zM155 530h1v1h-1zM152 518h1v1h-1zM154 527h1v1h-1zM151 515h1v1h-1zM155 526h1v1h-1zM153 517h1v1h-1zM155 524h1v1h-1zM160 516h1v1h-1zM156 532h1v1h-1zM153 517h1v1h-1zM154 519h1v1h-1zM154 517h1v1h-1zM154 519h1v1h-1zM154 511h1v1h-1zM154 512h1v1h-1zM154 524h1v1h-1zM156 520h1v1h-1zM156 525h1v1h-1zM158 523h1v1h-1zM155 509h1v1h-1zM155 527h1v1h-1zM160 514h1v1h-1zM150 510h1v1h-1zM154 515h1v1h-1zM155 513h1v1h-1zM155 527h1v1h-1zM152 523h1v1h-1zM153 525h1v1h-1zM150 511h1v1h-1zM152 521h1v1h-1zM149 525h1v1h-1zM156 521h1v1h-1zM153 513h1v1h-1zM151 528h1v1h-1zM157 515h1v1h-1zM154 519h1v1h-1zM151 521h1v1h-1zM155 518h1v1h-1zM153 524h1v1h-1zM149 527h1v1h-1zM154 529h1v1h-1zM157 518h1v1h-1zM150 530h1v1h-1zM153 524h1v1h-1zM155 525h1v1h-1zM154 514h1v1h-1zM156 537h1v1h-1zM153 523h1v1h-1zM157 520h1v1h-1zM154 519h1v1h-1zM153 521h1v1h-1zM155 514h1v1h-1zM153 521h1v1h-1zM153 523h1v1h-1zM153 519h1v1h-1zM152 518h1v1h-1zM152 519h1v1h-1zM150 518h1v1h-1zM155 513h1v1h-1zM154 511h1v1h-1zM149 527h1v1h-1zM153 525h1v1h-1zM154 507h1v1h-1zM151 523h1v1h-1zM155 534h1v1h-1zM152 521h1v1h-1zM154 518h1v1h-1zM151 513h1v1h-1zM154 518h1v1h-1zM154 516h1v1h-1zM159 519h1v1h-1zM157 513h1v1h-1zM154 530h1v1h-1zM154 520h1v1h-1zM154 518h1v1h-1zM154 519h1v1h-1zM148 513h1v1h-1zM154 528h1v1h-1zM155 512h1v1h-1zM154 515h1v1h-1zM151 527h1v1h-1zM150 521h1v1h-1zM149 521h1v1h-1zM158 534h1v1h-1zM155 520h1v1h-1zM157 524h1v1h-1zM153 524h1v1h-1zM152 533h1v1h-1zM150 518h1v1h-1zM155 511h1v1h-1zM150 512h1v1h-1zM152 512h1v1h-1zM156 517h1v1h-1zM157 514h1v1h-1zM153 529h1v1h-1zM156 523h1v1h-1zM154 521h1v1h-1zM155 520h1v1h-1zM151 524h1v1h-1zM154 521h1v1h-1zM154 515h1v1h-1zM155 528h1v1h-1zM155 516h1v1h-1zM154 521h1v1h-1zM155 518h1v1h-1zM152 519h1v1h-1zM155 518h1v1h-1zM152 522h1v1h-1zM154 514h1v1h-1zM153 513h1v1h-1zM152 516h1v1h-1zM152 525h1v1h-1zM152 522h1v1h-1zM156 519h1v1h-1zM152 508h1v1h-1zM155 515h1v1h-1zM155 517h1v1h-1zM159 513h1v1h-1zM156 528h1v1h-1zM151 516h1v1h-1zM151 539h1v1h-1zM154 523h1v1h-1zM155 519h1v1h-1zM152 530h1v1h-1zM156 535h1v1h-1zM149 529h1v1h-1zM149 518h1v1h-1zM152 518h1v1h-1zM155 518h1v1h-1zM156 521h1v1h-1zM154 514h1v1h-1zM157 517h1v1h-1zM155 524h1v1h-1zM153 520h1v1h-1zM157 508h1v1h-1zM155 524h1v1h-1zM152 528h1v1h-1zM154 529h1v1h-1zM151 533h1v1h-1zM156 529h1v1h-1zM153 512h1v1h-1zM150 516h1v1h-1zM157 517h1v1h-1zM155 515h1v1h-1zM153 525h1v1h-1zM154 523h1v1h-1zM155 520h1v1h-1zM154 511h1v1h-1zM154 523h1v1h-1zM156 529h1v1h-1zM153 526h1v1h-1zM154 511h1v1h-1zM158 521h1v1h-1zM153 528h1v1h-1zM152 518h1v1h-1zM154 516h1v1h-1zM156 525h1v1h-1zM152 524h1v1h-1zM153 527h1v1h-1zM152 531h1v1h-1zM158 523h1v1h-1zM157 516h1v1h-1zM155 517h1v1h-1zM156 521h1v1h-1zM150 529h1v1h-1zM152 520h1v1h-1zM154 514h1v1h-1zM157 514h1v1h-1zM150 524h1v1h-1zM155 526h1v1h-1zM153 514h1v1h-1zM153 520h1v1h-1zM154 511h1v1h-1zM151 514h1v1h-1zM157 513h1v1h-1zM152 520h1v1h-1zM155 528h1v1h-1zM151 517h1v1h-1zM152 522h1v1h-1zM150 516h1v1h-1zM157 521h1v1h-1zM160 516h1v1h-1zM154 524h1v1h-1zM155 520h1v1h-1zM159 514h1v1h-1z" fill="#000" fill-opacity="0.75"/>
<rect x="59.4" y="306.2" width="124.7" height="3" fill="#000" />
<rect x="59.4" y="428.4" width="124.7" height="3.3" fill="#000" />
<rect x="59.4" y="306.2" width="3.4" height="125.5" fill="#000" />
<rect x="181.1" y="306.2" width="3" height="125.5" fill="#000" />
<rect x="61.5" y="468.7" width="122.6" height="2" fill="#000" />
<rect x="61.5" y="591.2" width="122.6" height="2.5" fill="#000" />
<rect x="61.5" y="468.7" width="2.5" height="125" fill="#000" />
<rect x="181.7" y="468.7" width="2.4" height="125" fill="#000" />
<rect x="59.6" y="590.9" width="2" height="1.8" fill="#000" />
<rect x="60.6" y="582.1" width="1" height="1" fill="#000" />
<rect x="60.6" y="576.7" width="1" height="1" fill="#000" />
<rect x="60.6" y="572.9" width="1" height="1" fill="#000" />
<rect x="60.6" y="570" width="1" height="1" fill="#000" />
<rect x="60.6" y="567.6" width="1" height="1" fill="#000" />
<rect x="60.6" y="565.5" width="1" height="1" fill="#000" />
<rect x="60.6" y="563.8" width="1" height="1" fill="#000" />
<rect x="60.6" y="562.2" width="1" height="1" fill="#000" />
<rect x="59.6" y="560.4" width="2" height="1.8" fill="#000" />
<rect x="60.6" y="551.6" width="1" height="1" fill="#000" />
<rect x="60.6" y="546.2" width="1" height="1" fill="#000" />
<rect x="60.6" y="542.4" width="1" height="1" fill="#000" />
<rect x="60.6" y="539.5" width="1" height="1" fill="#000" />
<rect x="60.6" y="537.1" width="1" height="1" fill="#000" />
<rect x="60.6" y="535" width="1" height="1" fill="#000" />
<rect x="60.6" y="533.3" width="1" height="1" fill="#000" />
<rect x="60.6" y="531.7" width="1" height="1" fill="#000" />
<rect x="59.6" y="529.9" width="2" height="1.8" fill="#000" />
<rect x="60.6" y="521.1" width="1" height="1" fill="#000" />
<rect x="60.6" y="515.7" width="1" height="1" fill="#000" />
<rect x="60.6" y="511.9" width="1" height="1" fill="#000" />
<rect x="60.6" y="509" width="1" height="1" fill="#000" />
<rect x="60.6" y="506.6" width="1" height="1" fill="#000" />
<rect x="60.6" y="504.5" width="1" height="1" fill="#000" />
<rect x="60.6" y="502.8" width="1" height="1" fill="#000" />
<rect x="60.6" y="501.2" width="1" height="1" fill="#000" />
<rect x="59.6" y="499.4" width="2" height="1.8" fill="#000" />
<rect x="60.6" y="490.6" width="1" height="1" fill="#000" />
<rect x="60.6" y="485.2" width="1" height="1" fill="#000" />
<rect x="60.6" y="481.4" width="1" height="1" fill="#000" />
<rect x="60.6" y="478.5" width="1" height="1" fill="#000" />
<rect x="60.6" y="476.1" width="1" height="1" fill="#000" />
<rect x="60.6" y="474" width="1" height="1" fill="#000" />
<rect x="60.6" y="472.3" width="1" height="1" fill="#000" />
<rect x="60.6" y="470.7" width="1" height="1" fill="#000" />
<rect x="59.6" y="468.9" width="2" height="1.8" fill="#000" />
<rect x="71.2" y="593.5" width="1" height="1.1" fill="#000" />
<rect x="76.4" y="593.5" width="1" height="1.1" fill="#000" />
<rect x="80.1" y="593.5" width="1" height="1.1" fill="#000" />
<rect x="83" y="593.5" width="1" height="1.1" fill="#000" />
<rect x="85.3" y="593.5" width="1" height="1.1" fill="#000" />
<rect x="87.3" y="593.5" width="1" height="1.1" fill="#000" />
<rect x="89" y="593.5" width="1" height="1.1" fill="#000" />
<rect x="90.5" y="593.5" width="1" height="1.1" fill="#000" />
<rect x="100.8" y="593.5" width="1" height="1.1" fill="#000" />
<rect x="106" y="593.5" width="1" height="1.1" fill="#000" />
<rect x="109.7" y="593.5" width="1" height="1.1" fill="#000" />
<rect x="112.6" y="593.5" width="1" height="1.1" fill="#000" />
<rect x="114.9" y="593.5" width="1" height="1.1" fill="#000" />
<rect x="116.9" y="593.5" width="1" height="1.1" fill="#000" />
<rect x="118.6" y="593.5" width="1" height="1.1" fill="#000" />
<rect x="120.1" y="593.5" width="1" height="1.1" fill="#000" />
<rect x="130.4" y="593.5" width="1" height="1.1" fill="#000" />
<rect x="135.6" y="593.5" width="1" height="1.1" fill="#000" />
<rect x="139.3" y="593.5" width="1" height="1.1" fill="#000" />
<rect x="142.2" y="593.5" width="1" height="1.1" fill="#000" />
<rect x="144.5" y="593.5" width="1" height="1.1" fill="#000" />
<rect x="146.5" y="593.5" width="1" height="1.1" fill="#000" />
<rect x="148.2" y="593.5" width="1" height="1.1" fill="#000" />
<rect x="149.7" y="593.5" width="1" height="1.1" fill="#000" />
<rect x="160" y="593.5" width="1" height="1.1" fill="#000" />
<rect x="165.2" y="593.5" width="1" height="1.1" fill="#000" />
<rect x="168.9" y="593.5" width="1" height="1.1" fill="#000" />
<rect x="171.8" y="593.5" width="1" height="1.1" fill="#000" />
<rect x="174.1" y="593.5" width="1" height="1.1" fill="#000" />
<rect x="176.1" y="593.5" width="1" height="1.1" fill="#000" />
<rect x="177.8" y="593.5" width="1" height="1.1" fill="#000" />
<rect x="179.3" y="593.5" width="1" height="1.1" fill="#000" />
<rect x="58.2" y="430.6" width="1.3" height="1.8" fill="#000" />
<rect x="58.2" y="400.2" width="1.3" height="1.8" fill="#000" />
<rect x="58.2" y="369.8" width="1.3" height="1.8" fill="#000" />
<rect x="58.2" y="339.4" width="1.3" height="1.8" fill="#000" />
<rect x="58.2" y="309" width="1.3" height="1.8" fill="#000" />
<rect x="61.8" y="593.5" width="2" height="2.1" fill="#000" />
<rect x="91.4" y="593.5" width="2" height="2.1" fill="#000" />
<rect x="121" y="593.5" width="2" height="2.1" fill="#000" />
<rect x="150.6" y="593.5" width="2" height="2.1" fill="#000" />
<rect x="180.2" y="593.5" width="2" height="2.1" fill="#000" />
<rect x="61.4" y="431.5" width="2" height="2.2" fill="#000" />
<rect x="91" y="431.5" width="2" height="2.2" fill="#000" />
<rect x="120.6" y="431.5" width="2" height="2.2" fill="#000" />
<rect x="150.2" y="431.5" width="2" height="2.2" fill="#000" />
<rect x="179.8" y="431.5" width="2" height="2.2" fill="#000" />
<rect x="104" y="328.1" width="37" height="3" fill="#000" />
<rect x="104" y="360.7" width="37" height="3" fill="#000" />
<rect x="104" y="328.1" width="3" height="35.6" fill="#000" />
<rect x="138" y="328.1" width="3" height="35.6" fill="#000" />
<rect x="140.1" y="328.7" width="24.2" height="3" fill="#000" />
<rect x="140.1" y="364.1" width="24.2" height="3" fill="#000" />
<rect x="140.1" y="328.7" width="3" height="38.4" fill="#000" />
<rect x="161.3" y="328.7" width="3" height="38.4" fill="#000" />
<rect x="98.2" y="490.9" width="47" height="3" fill="#000" />
<rect x="98.2" y="533.2" width="47" height="3" fill="#000" />
<rect x="98.2" y="490.9" width="3" height="45.3" fill="#000" />
<rect x="142.2" y="490.9" width="3" height="45.3" fill="#000" />
<rect x="145.6" y="498.6" width="19.9" height="3" fill="#000" />
<rect x="145.6" y="538.9" width="19.9" height="3" fill="#000" />
<rect x="145.6" y="498.6" width="3" height="43.3" fill="#000" />
<rect x="162.5" y="498.6" width="3" height="43.3" fill="#000" />
<text x="117.11" y="326.60" font-size="16.15" font-weight="bold" textLength="17.20" lengthAdjust="spacingAndGlyphs" fill="#000" >M</text>
<text x="149.18" y="326.80" font-size="16.49" font-weight="bold" textLength="15.90" lengthAdjust="spacingAndGlyphs" fill="#000" >G</text>
<text x="113.65" y="490.30" font-size="18.62" font-weight="bold" textLength="16.72" lengthAdjust="spacingAndGlyphs" fill="#000" >M</text>
<text x="153.52" y="489.80" font-size="17.49" font-weight="bold" textLength="15.10" lengthAdjust="spacingAndGlyphs" fill="#000" >G</text>
<text x="32.60" y="312.60" font-size="6.88" font-weight="normal" textLength="22.31" lengthAdjust="spacingAndGlyphs" fill="#000" stroke="#000" stroke-width="0.25">10000</text>
<text x="36.80" y="342.40" font-size="6.88" font-weight="normal" textLength="17.71" lengthAdjust="spacingAndGlyphs" fill="#000" stroke="#000" stroke-width="0.25">1000</text>
<text x="40.78" y="372.20" font-size="6.88" font-weight="normal" textLength="13.73" lengthAdjust="spacingAndGlyphs" fill="#000" stroke="#000" stroke-width="0.25">100</text>
<text x="44.74" y="403.10" font-size="6.88" font-weight="normal" textLength="9.81" lengthAdjust="spacingAndGlyphs" fill="#000" stroke="#000" stroke-width="0.25">10</text>
<text x="47.88" y="433.90" font-size="6.98" font-weight="normal" textLength="3.86" lengthAdjust="spacingAndGlyphs" fill="#000" stroke="#000" stroke-width="0.25">1</text>
<text x="34.20" y="472.60" font-size="6.88" font-weight="normal" textLength="22.31" lengthAdjust="spacingAndGlyphs" fill="#000" stroke="#000" stroke-width="0.25">10000</text>
<text x="38.20" y="502.60" font-size="6.88" font-weight="normal" textLength="17.71" lengthAdjust="spacingAndGlyphs" fill="#000" stroke="#000" stroke-width="0.25">1000</text>
<text x="42.18" y="532.70" font-size="6.88" font-weight="normal" textLength="13.73" lengthAdjust="spacingAndGlyphs" fill="#000" stroke="#000" stroke-width="0.25">100</text>
<text x="46.14" y="563.70" font-size="6.88" font-weight="normal" textLength="9.81" lengthAdjust="spacingAndGlyphs" fill="#000" stroke="#000" stroke-width="0.25">10</text>
<text x="49.08" y="594.00" font-size="6.98" font-weight="normal" textLength="3.86" lengthAdjust="spacingAndGlyphs" fill="#000" stroke="#000" stroke-width="0.25">1</text>
<text x="54.48" y="442.90" font-size="6.98" font-weight="normal" textLength="3.86" lengthAdjust="spacingAndGlyphs" fill="#000" stroke="#000" stroke-width="0.25">1</text>
<text x="82.08" y="442.90" font-size="6.88" font-weight="normal" textLength="9.14" lengthAdjust="spacingAndGlyphs" fill="#000" stroke="#000" stroke-width="0.25">10</text>
<text x="110.45" y="442.90" font-size="6.88" font-weight="normal" textLength="13.41" lengthAdjust="spacingAndGlyphs" fill="#000" stroke="#000" stroke-width="0.25">100</text>
<text x="139.80" y="442.90" font-size="6.88" font-weight="normal" textLength="17.92" lengthAdjust="spacingAndGlyphs" fill="#000" stroke="#000" stroke-width="0.25">1000</text>
<text x="167.25" y="442.90" font-size="6.88" font-weight="normal" textLength="22.41" lengthAdjust="spacingAndGlyphs" fill="#000" stroke="#000" stroke-width="0.25">10000</text>
<text x="61.58" y="603.70" font-size="6.98" font-weight="normal" textLength="3.86" lengthAdjust="spacingAndGlyphs" fill="#000" stroke="#000" stroke-width="0.25">1</text>
<text x="88.88" y="603.70" font-size="6.88" font-weight="normal" textLength="9.14" lengthAdjust="spacingAndGlyphs" fill="#000" stroke="#000" stroke-width="0.25">10</text>
<text x="116.35" y="603.70" font-size="6.88" font-weight="normal" textLength="13.41" lengthAdjust="spacingAndGlyphs" fill="#000" stroke="#000" stroke-width="0.25">100</text>
<text x="144.50" y="603.70" font-size="6.88" font-weight="normal" textLength="17.92" lengthAdjust="spacingAndGlyphs" fill="#000" stroke="#000" stroke-width="0.25">1000</text>
<text x="173.40" y="603.70" font-size="6.88" font-weight="normal" textLength="22.10" lengthAdjust="spacingAndGlyphs" fill="#000" stroke="#000" stroke-width="0.25">10000</text>
<text x="103.50" y="462.20" font-size="15.77" font-weight="bold" textLength="39.07" lengthAdjust="spacingAndGlyphs" fill="#000" >B220</text>
<rect x="144" y="448" width="5" height="2.2" fill="#000" />
<text x="108.36" y="619.00" font-size="14.48" font-weight="bold" textLength="33.11" lengthAdjust="spacingAndGlyphs" fill="#000" >GR1</text>
<rect x="61.1" y="613" width="38.7" height="2.2" fill="#000" />
<rect x="147.3" y="613" width="30.7" height="2.2" fill="#000" />
<polygon points="177.7,609.4 188.6,614.1 177.7,618.6" fill="#000" />
<polygon points="219.5,311.6 213.8,322 225,322" fill="#000" />
<rect x="218.2" y="321" width="2.7" height="284.8" fill="#000" />
<text transform="translate(215.60,498.70) rotate(-90)" x="-0.78" y="0" font-size="15.45" font-weight="normal" textLength="77.51" lengthAdjust="spacingAndGlyphs" fill="#000" stroke="#000" stroke-width="0.3">cell count</text>
<rect x="223.7" y="612.1" width="111.5" height="2.7" fill="#000" />
<text x="339.76" y="618.50" font-size="13.91" font-weight="bold" textLength="32.70" lengthAdjust="spacingAndGlyphs" fill="#000" >GFP</text>
<rect x="376.7" y="612.1" width="109.3" height="2.7" fill="#000" />
<polygon points="485.3,607.6 497.6,613.4 485.3,619.2" fill="#000" />
<polygon points="241.3,428 241.3,427.6 241.3,426.6 241.3,425.8 241.3,425.4 241.3,424.8 241.3,423.5 241.3,423.5 241.3,422 241.3,421.7 241.3,420.8 241.3,420 241.3,419.5 241.3,418.9 241.3,418.1 241.3,417.6 241.3,417.1 241.3,415.7 241.3,415.1 241.3,414.7 241.3,413.8 241.3,413 241.3,412.5 241.3,411.9 241.3,411.4 241.3,410.7 241.3,409.9 241.3,408.8 241.3,408.5 241.3,407.7 241.3,406.6 241.3,406.5 241.3,405.2 241.3,404.9 241.3,404 241.4,403.5 241.5,402.9 241.6,402.1 241.7,401.6 241.8,400.2 241.9,399.5 242.1,398.9 242.2,398.5 242.3,397.7 242.4,396.7 242.5,396.1 242.6,395.8 242.7,395 242.8,394.2 242.8,393.8 242.9,392.8 242.9,392.5 243,391.7 243,390.7 243.1,389.9 243.1,389.1 243.2,388.4 243.2,387.8 243.3,387.1 243.3,386.2 243.4,385.7 243.5,384.7 243.5,384.6 243.6,383.7 243.6,382.6 243.7,382.1 243.7,381.3 243.8,380.5 243.8,380.1 243.9,379.1 243.9,378.4 244,378.1 244,377.2 244.1,376.7 244.2,375.8 244.2,375.1 244.3,374.3 244.3,373.6 244.4,373 244.4,372.1 244.5,371.8 244.5,370.6 244.6,369.9 244.6,369.3 244.7,368.9 244.7,368.3 244.8,367.3 244.9,366.6 245,365.8 245.2,365.3 245.3,364.8 245.4,363.6 245.5,363.2 245.7,362.6 245.8,361.6 245.9,360.7 246,360.4 246.1,359.3 246.3,358.8 246.4,358.2 246.5,357.8 246.6,356.5 246.7,355.7 246.9,355.4 247,355 247.1,353.6 247.2,353.4 247.4,352.2 247.5,351.9 247.6,350.8 247.7,350.6 247.8,349.6 248,349.2 248.1,348.1 248.2,347.3 248.3,346.7 248.5,346.1 248.6,345.3 248.7,344.6 248.8,344.2 248.9,343.4 249.1,343 249.2,342 249.3,341.4 249.4,340.8 249.5,340.2 249.7,339.3 249.8,338.1 249.9,337.8 250,336.7 250.2,336.5 250.3,335.4 250.4,335 250.5,334.3 250.6,333.3 250.7,333.2 250.8,331.9 250.9,331.6 251,331 251.1,329.9 251.2,329.5 251.3,328.6 251.4,327.8 251.5,327.1 251.6,326.3 251.7,326.1 251.8,324.9 251.9,324.3 252,323.5 252.1,323.4 252.2,322.5 252.3,321.7 252.4,321.1 252.5,320.6 252.6,319.8 252.7,319 252.8,318.1 252.9,317.6 253,317.3 253.1,316.2 253.8,315.6 254.5,314.8 255.2,314.8 255.9,315.2 256.6,315 257.2,315 257.9,315.5 258.5,316.2 258.6,317.1 258.7,318 258.7,318 258.8,318.7 258.9,319.4 259,320.5 259.1,320.9 259.1,321.9 259.2,322.7 259.3,322.9 259.4,324.3 259.5,324.5 259.5,325.5 259.6,326 259.7,326.8 259.8,327.5 259.9,327.9 259.9,329 260,329.5 260.1,330.3 260.2,330.9 260.2,331.7 260.3,332.7 260.4,333.7 260.5,333.8 260.6,335 260.6,335.5 260.7,335.8 260.8,336.5 260.9,337.9 261,338.1 261,338.7 261.1,339.8 261.2,340.4 261.2,341.3 261.3,342.1 261.3,342.5 261.4,343.1 261.4,343.8 261.4,344.4 261.5,345.5 261.5,346.4 261.5,346.4 261.6,347.4 261.6,348.1 261.7,348.6 261.7,349.7 261.7,350.7 261.8,350.9 261.8,351.9 261.9,352.8 261.9,353 261.9,354.2 262,354.8 262,355.4 262,355.7 262.1,356.5 262.1,357.1 262.2,358.4 262.2,359.1 262.2,359.2 262.3,360.3 262.3,360.7 262.4,361.9 262.4,362.4 262.4,363.4 262.5,364 262.5,364.2 262.6,365.1 262.6,366 262.6,367 262.7,367.2 262.7,367.8 262.7,368.6 262.8,369.3 262.8,369.9 262.9,370.8 262.9,371.4 262.9,372.3 263,373.3 263,374.1 263.1,374.1 263.1,375.2 263.1,376 263.2,376.3 263.2,377.3 263.2,377.7 263.3,378.6 263.3,379.2 263.4,380.3 263.4,380.8 263.5,381.3 263.5,382.2 263.6,383 263.6,383.5 263.7,384.7 263.7,384.9 263.8,385.6 263.8,386.6 263.9,387.2 263.9,388.1 264,388.3 264,389 264.1,390.2 264.1,390.6 264.2,391.7 264.2,391.9 264.2,392.6 264.3,393.8 264.4,394.1 264.4,394.6 264.5,395.4 264.5,396.6 264.6,396.9 264.6,397.8 264.7,398.8 264.7,399.3 264.8,400.1 264.8,401 264.9,401.2 264.9,402.3 264.9,402.8 265,403.2 265.1,403.9 265.1,404.7 265.2,405.3 265.2,406.5 265.2,407 265.3,407.7 265.4,408 265.6,409.4 265.7,409.9 265.9,410.5 266,410.9 266.2,411.9 266.3,413 266.5,413.4 266.6,414 266.7,414.8 266.9,415.5 267,416.3 267.2,416.6 267.3,417.3 267.5,417.9 267.6,419.3 267.8,419.3 267.9,420.4 268.5,420.6 269.1,421.2 269.7,421.6 270.2,422.3 270.8,422.1 271.4,422.4 272,423.1 272.7,422.9 273.4,423.2 274.1,423.1 274.8,423.3 275.6,423.6 276.3,423.4 277,423.7 277.7,423.3 278.4,423.8 279.1,424.1 279.8,424.2 280.5,424 281.2,424.4 281.9,423.8 282.7,424 283.4,424.2 284.1,424.3 284.8,424.6 285.5,424.4 286.2,424.4 286.9,424.1 287.6,424.6 288.3,424.3 289,424.8 289.7,424.3 290.5,424.4 291.2,424.3 291.9,424.4 292.6,424.7 293.3,424.4 294,424.3 294.7,424.7 295.4,424.9 296.1,424.4 296.8,424.7 297.5,424.4 298.2,424.4 298.9,424.7 299.7,424.6 300.4,425.1 301.1,424.4 301.8,425 302.5,425.1 303.2,424.8 303.9,424.9 304.6,424.7 305.3,424.8 306,424.6 306.7,425.3 307.4,424.6 308.2,424.7 308.9,425.2 309.6,425 310.3,425.1 311,424.9 311.7,424.9 312.4,425.4 313.1,424.9 313.8,425 314.5,425.4 315.2,425.1 315.9,425.6 316.6,425 317.4,425.3 318.1,425.3 318.8,425.3 319.5,425.6 320.2,425 320.9,425.4 321.6,425.4 322.3,425.6 323,425.1 323.7,425.5 324.4,425.4 325.2,425.4 325.9,425.5 326.6,425.6 327.3,425.6 328,425.8 328.7,425.6 329.4,425.9 330.1,425.6 330.8,425.3 331.5,425.2 332.3,425.2 333,425.3 333.7,425.2 334.4,425.7 335.1,425.7 335.8,425.7 336.5,425.5 337.2,425.6 337.9,425.4 338.6,425.9 339.4,425.2 340.1,425.5 340.8,425.7 341.5,425.4 342.2,425.9 342.9,425.6 343.6,425.5 344.3,425.3 345,425.5 345.7,425.7 346.5,425.5 347.2,425.3 347.9,425.8 348.6,425.6 349.3,426 350,425.9 350.7,425.9 351.4,426.1 352.1,426 352.8,425.6 353.6,425.8 354.3,425.6 355,425.5 355.7,425.6 356.4,425.8 356.4,427.2" fill="#9a9a9a" />
<polygon points="241.3,428 241.3,426.7 241.3,426.2 241.3,425.5 241.3,425.4 241.3,424.1 241.3,423.1 241.3,422.9 241.3,421.9 241.3,421.9 241.3,420.6 241.3,420.3 241.3,419.1 241.3,418.8 241.3,418.6 241.3,417.1 241.3,416.7 241.3,415.9 241.3,414.7 241.3,413.9 241.3,414.4 241.3,413 241.3,412.7 241.3,411.6 241.3,411.5 241.3,409.9 241.3,409.6 241.3,409 241.3,408.6 241.3,406.9 241.3,406.6 241.3,406.1 241.3,405.5 241.3,404.2 241.3,404 241.4,403.4 241.5,402.9 241.6,402.2 241.7,400.8 241.8,400.5 241.9,399.6 242.1,399 242.2,398.3 242.3,398.4 242.4,396.4 242.5,397 242.6,395 242.7,395 242.8,393.7 242.8,393.2 242.9,392.6 242.9,392.7 243,391.9 243,391.3 243.1,389.9 243.1,388.6 243.2,388.8 243.2,388.5 243.3,386.6 243.3,386.9 243.4,385.1 243.5,385.4 243.5,384.3 243.6,384.2 243.6,383.5 243.7,381.6 243.7,381.5 243.8,380.4 243.8,380 243.9,378.8 243.9,378.5 244,377.8 244,376.5 244.1,376.5 244.2,376.4 244.2,374.5 244.3,375 244.3,373.7 244.4,372.6 244.4,372.9 244.5,371.5 244.5,370.8 244.6,370 244.6,370 244.7,368.2 244.7,367.6 244.8,367.3 244.9,366.3 245,365.3 245.1,365.7 245.1,364.5 245.2,363.9 245.3,363.6 245.4,362.4 245.5,361.4 245.6,361 245.7,360.3 245.8,359.3 245.8,358.5 245.9,358 246,357.8 246.1,356.3 246.2,356.8 246.3,355 246.4,354.3 246.5,353.4 246.5,353.1 246.6,352.4 246.7,352.1 246.8,351.7 246.9,350.1 247,350.2 247.1,348.8 247.1,348.2 247.2,347.1 247.3,347.5 247.4,346.1 247.5,345.8 247.6,344.2 247.7,344.4 247.8,343 247.8,342.7 247.9,342.3 248,340.9 248.1,340.7 248.2,340.4 248.3,338.7 248.4,338.5 248.5,337.4 248.5,336.6 248.6,336.4 248.7,335.6 248.8,335 248.9,334.5 249,334.1 249.1,333.2 249.2,332 249.3,331.5 249.4,331.1 249.5,330.6 249.6,329.7 249.7,328.7 249.8,327.5 249.9,327.9 250,326.3 250.1,325.8 250.2,325.8 250.3,324.1 250.4,324.4 250.5,322.8 250.6,321.9 250.7,321.8 250.8,321.5 250.9,320.2 251,320.2 251.1,318.8 251.2,318.7 251.3,317.1 251.4,316.6 251.5,316.2 252.2,315 252.9,314.8 253.6,315.2 254.3,314.9 255,315 255.6,315.6 256.3,315.4 256.9,316.2 257,317.2 257.1,318.3 257.1,317.7 257.2,318.8 257.3,320.3 257.4,321 257.5,321.7 257.5,321.5 257.6,322.7 257.7,322.7 257.8,323.9 257.9,324.8 257.9,325.1 258,326.1 258.1,326.7 258.2,327 258.2,327.7 258.3,329.4 258.4,329 258.5,331.1 258.6,331.7 258.6,332.5 258.7,333 258.8,332.6 258.9,333.5 259,334.5 259,335 259.1,335.5 259.2,337.4 259.3,338.1 259.4,338.6 259.4,338.6 259.5,340.2 259.6,340.4 259.6,341.6 259.7,341.6 259.7,342 259.8,342.7 259.8,343.8 259.8,345.1 259.9,344.8 259.9,346 259.9,346.6 260,348 260,347.7 260.1,349.1 260.1,349.4 260.1,350.5 260.2,351.5 260.2,352.2 260.3,352.9 260.3,352.9 260.3,353.6 260.4,354 260.4,354.9 260.4,355.5 260.5,357.1 260.5,356.8 260.6,357.7 260.6,359.2 260.6,359.9 260.7,360.9 260.7,360.8 260.8,361 260.8,362.8 260.8,362.8 260.9,364.2 260.9,363.8 261,364.6 261,366.1 261,366.9 261.1,367.4 261.1,368.1 261.1,368.9 261.2,368.9 261.2,369.6 261.3,370.7 261.3,371.7 261.3,371.9 261.4,372.6 261.4,373.6 261.5,374.3 261.5,374.8 261.5,376.4 261.6,377.2 261.6,376.6 261.6,377.9 261.7,378.3 261.7,379.2 261.8,379.4 261.8,380.8 261.9,380.9 261.9,381.6 261.9,382.4 262,383.8 262.1,383.7 262.1,385.6 262.2,386.2 262.2,386.1 262.2,387.4 262.3,388.5 262.4,388 262.4,389.4 262.4,390 262.5,390.4 262.6,391.1 262.6,391.5 262.6,393 262.7,393.1 262.8,394.1 262.8,395.6 262.9,395.5 262.9,396.1 262.9,397.7 263,397.9 263.1,398.6 263.1,398.8 263.1,400.1 263.2,400.5 263.2,401.4 263.3,401.9 263.3,402.2 263.4,404 263.4,404.4 263.5,405.5 263.6,405.3 263.6,406 263.6,406.5 263.7,407.7 263.8,408.1 264,408.9 264.1,409.4 264.2,410.2 264.4,411 264.5,412.5 264.7,412.6 264.8,413.8 264.9,413.5 265.1,414.4 265.2,416.1 265.3,415.6 265.5,416.3 265.6,417.7 265.8,418.1 265.9,418.6 266,419.9 266.2,420.6 266.3,421.2 266.9,421.1 267.5,422 268.1,422.3 268.6,423.2 269.2,422.5 269.8,423.1 270.4,423.9 271.1,424.1 271.8,423.4 272.5,424.6 273.2,424.8 274,424 274.7,424.7 275.4,424 276.1,425.1 276.8,424.1 277.5,423.9 278.2,424 278.9,424.7 279.6,424.1 280.3,425.5 281.1,425.1 281.8,425.1 282.5,425.2 283.2,425 283.9,425.2 284.6,425.8 285.3,425.5 286,425.2 286.7,425 287.4,424.8 288.1,425.1 288.9,425.1 289.6,424.8 290.3,426 291,425.1 291.7,425.5 292.4,424.8 293.1,425.5 293.8,425.7 294.5,424.9 295.2,426.2 295.9,425.1 296.6,425.2 297.3,425.9 298.1,425.4 298.8,426.1 299.5,425.3 300.2,425.4 300.9,425.9 301.6,426.2 302.3,426.2 303,425.4 303.7,425.8 304.4,425.6 305.1,426 305.8,425.4 306.6,426.3 307.3,426.1 308,425.4 308.7,425.6 309.4,425.7 310.1,426.5 310.8,425.9 311.5,426.1 312.2,426.6 312.9,425.9 313.6,426.6 314.3,425.8 315,425.4 315.8,425.5 316.5,426.4 317.2,426 317.9,426.6 318.6,426.2 319.3,426.4 320,426.2 320.7,426 321.4,426.3 322.1,426.5 322.8,426.1 323.5,426.2 324.2,426.7 324.9,426.9 325.6,426.1 326.3,425.7 327,426.8 327.7,426.2 328.4,426.9 329.1,426.7 329.8,426.1 330.5,426.8 331.2,426.4 331.9,426.6 332.6,426.9 333.3,426.5 334,427 334.7,426.2 335.4,426.2 336.1,426.6 336.8,426.3 337.5,426.7 338.2,426.4 338.9,426.7 339.6,426.9 340.3,426.5 341,427 341.7,426.8 342.4,426.9 343.1,425.8 343.8,425.8 344.5,426.7 345.2,426.2 345.9,427 346.6,426.3 347.3,426.8 348,426.2 348.7,426.7 349.4,427.1 350.1,427 350.8,426.4 351.5,426.5 352.2,426.6 352.9,426.3 353.6,426.5 354.3,427.2 355,427.1 355.7,426.3 356.4,426.6 356.4,428" fill="#000" />
<rect x="239" y="309.2" width="119.4" height="2" fill="#000" />
<rect x="356.4" y="309.2" width="2" height="120.3" fill="#000" />
<rect x="239" y="309.2" width="2.4" height="120.3" fill="#000" />
<rect x="239" y="427" width="119.4" height="2.5" fill="#000" />
<rect x="236.4" y="427.4" width="2.6" height="1.8" fill="#000" />
<rect x="236.4" y="403.8" width="2.6" height="1.8" fill="#000" />
<rect x="236.4" y="380.2" width="2.6" height="1.8" fill="#000" />
<rect x="236.4" y="356.5" width="2.6" height="1.8" fill="#000" />
<rect x="236.4" y="332.9" width="2.6" height="1.8" fill="#000" />
<rect x="236.4" y="309.3" width="2.6" height="1.8" fill="#000" />
<rect x="237.8" y="421.8" width="1.2" height="1.2" fill="#000" />
<rect x="237.8" y="415.9" width="1.2" height="1.2" fill="#000" />
<rect x="237.8" y="410" width="1.2" height="1.2" fill="#000" />
<rect x="237.8" y="398.2" width="1.2" height="1.2" fill="#000" />
<rect x="237.8" y="392.3" width="1.2" height="1.2" fill="#000" />
<rect x="237.8" y="386.4" width="1.2" height="1.2" fill="#000" />
<rect x="237.8" y="374.6" width="1.2" height="1.2" fill="#000" />
<rect x="237.8" y="368.6" width="1.2" height="1.2" fill="#000" />
<rect x="237.8" y="362.7" width="1.2" height="1.2" fill="#000" />
<rect x="237.8" y="350.9" width="1.2" height="1.2" fill="#000" />
<rect x="237.8" y="345" width="1.2" height="1.2" fill="#000" />
<rect x="237.8" y="339.1" width="1.2" height="1.2" fill="#000" />
<rect x="237.8" y="327.3" width="1.2" height="1.2" fill="#000" />
<rect x="237.8" y="321.4" width="1.2" height="1.2" fill="#000" />
<rect x="237.8" y="315.5" width="1.2" height="1.2" fill="#000" />
<text x="233.93" y="430.70" font-size="6.88" font-weight="normal" textLength="3.73" lengthAdjust="spacingAndGlyphs" fill="#000" stroke="#000" stroke-width="0.25">0</text>
<text x="229.85" y="407.08" font-size="6.88" font-weight="normal" textLength="7.83" lengthAdjust="spacingAndGlyphs" fill="#000" stroke="#000" stroke-width="0.25">20</text>
<text x="230.05" y="383.46" font-size="6.88" font-weight="normal" textLength="7.63" lengthAdjust="spacingAndGlyphs" fill="#000" stroke="#000" stroke-width="0.25">40</text>
<text x="229.85" y="359.84" font-size="6.88" font-weight="normal" textLength="7.83" lengthAdjust="spacingAndGlyphs" fill="#000" stroke="#000" stroke-width="0.25">60</text>
<text x="229.90" y="336.22" font-size="6.88" font-weight="normal" textLength="7.78" lengthAdjust="spacingAndGlyphs" fill="#000" stroke="#000" stroke-width="0.25">80</text>
<text x="226.39" y="312.60" font-size="6.88" font-weight="normal" textLength="11.27" lengthAdjust="spacingAndGlyphs" fill="#000" stroke="#000" stroke-width="0.25">100</text>
<rect x="239.6" y="429.5" width="1.8" height="2.2" fill="#000" />
<rect x="248.8" y="429.5" width="1" height="1.2" fill="#000" />
<rect x="253.9" y="429.5" width="1" height="1.2" fill="#000" />
<rect x="257.5" y="429.5" width="1" height="1.2" fill="#000" />
<rect x="260.3" y="429.5" width="1" height="1.2" fill="#000" />
<rect x="262.6" y="429.5" width="1" height="1.2" fill="#000" />
<rect x="264.6" y="429.5" width="1" height="1.2" fill="#000" />
<rect x="266.3" y="429.5" width="1" height="1.2" fill="#000" />
<rect x="267.8" y="429.5" width="1" height="1.2" fill="#000" />
<rect x="268.7" y="429.5" width="1.8" height="2.2" fill="#000" />
<rect x="277.9" y="429.5" width="1" height="1.2" fill="#000" />
<rect x="283" y="429.5" width="1" height="1.2" fill="#000" />
<rect x="286.6" y="429.5" width="1" height="1.2" fill="#000" />
<rect x="289.4" y="429.5" width="1" height="1.2" fill="#000" />
<rect x="291.7" y="429.5" width="1" height="1.2" fill="#000" />
<rect x="293.7" y="429.5" width="1" height="1.2" fill="#000" />
<rect x="295.4" y="429.5" width="1" height="1.2" fill="#000" />
<rect x="296.9" y="429.5" width="1" height="1.2" fill="#000" />
<rect x="297.8" y="429.5" width="1.8" height="2.2" fill="#000" />
<rect x="307" y="429.5" width="1" height="1.2" fill="#000" />
<rect x="312.1" y="429.5" width="1" height="1.2" fill="#000" />
<rect x="315.7" y="429.5" width="1" height="1.2" fill="#000" />
<rect x="318.5" y="429.5" width="1" height="1.2" fill="#000" />
<rect x="320.8" y="429.5" width="1" height="1.2" fill="#000" />
<rect x="322.8" y="429.5" width="1" height="1.2" fill="#000" />
<rect x="324.5" y="429.5" width="1" height="1.2" fill="#000" />
<rect x="326" y="429.5" width="1" height="1.2" fill="#000" />
<rect x="326.9" y="429.5" width="1.8" height="2.2" fill="#000" />
<rect x="336.1" y="429.5" width="1" height="1.2" fill="#000" />
<rect x="341.2" y="429.5" width="1" height="1.2" fill="#000" />
<rect x="344.8" y="429.5" width="1" height="1.2" fill="#000" />
<rect x="347.6" y="429.5" width="1" height="1.2" fill="#000" />
<rect x="349.9" y="429.5" width="1" height="1.2" fill="#000" />
<rect x="351.9" y="429.5" width="1" height="1.2" fill="#000" />
<rect x="353.6" y="429.5" width="1" height="1.2" fill="#000" />
<rect x="355.1" y="429.5" width="1" height="1.2" fill="#000" />
<rect x="356" y="429.5" width="1.8" height="2.2" fill="#000" />
<polygon points="370.6,428 370.6,427.4 370.6,426.9 370.6,425.7 370.6,425.4 370.6,424.7 370.6,424 370.6,422.7 370.6,422.6 370.6,421.9 370.6,420.6 370.6,420.2 370.6,419.1 370.6,418.8 370.6,418.1 370.6,417.5 370.6,416.8 370.6,415.7 370.6,414.8 370.6,414.6 370.6,413.3 370.6,412.7 370.6,412 370.6,411.7 370.6,410.8 370.6,410.4 370.6,409.5 370.6,408.9 370.6,408.2 370.6,407.5 370.6,406.3 370.6,405.7 370.6,405.2 370.6,404.4 370.6,403.9 370.6,403.2 370.6,402.1 370.6,401.5 370.7,400.5 370.8,400.2 370.8,399.5 370.9,398.4 371,397.5 371.1,396.7 371.2,396.2 371.2,395.5 371.3,394.7 371.4,393.9 371.5,393.2 371.6,392.6 371.7,391.7 371.7,391.1 371.8,390.5 371.9,390.1 372,389.4 372.1,388.3 372.1,387.4 372.2,386.7 372.3,386.2 372.4,385.6 372.5,384.7 372.6,384.1 372.7,383.6 372.8,382.8 372.9,382.3 373,380.9 373.1,380.4 373.2,379.5 373.3,379.2 373.4,378.5 373.4,377.5 373.5,376.7 373.6,376.3 373.7,375.3 373.8,374.7 373.9,374.1 374,373.8 374.1,372.7 374.2,372.2 374.3,371.3 374.4,370.6 374.5,369.7 374.6,369 374.7,368.8 374.8,367.8 374.9,367 375,366.8 375.1,366 375.2,364.8 375.3,364.3 375.4,363.7 375.5,362.6 375.6,362.1 375.7,361.3 375.8,361 375.8,359.7 375.9,359.8 376,358.4 376.1,357.8 376.2,356.9 376.3,356.9 376.4,356.1 376.5,354.8 376.6,354.4 376.7,353.6 376.8,353.1 376.9,352.3 377,351.5 377.2,351.3 377.3,350 377.4,349.8 377.6,348.6 377.7,348.2 377.8,347.4 378,346.8 378.1,346.1 378.2,345.4 378.4,344.3 378.5,343.6 378.6,343.6 378.8,342.4 378.9,341.8 379,341 379.2,340.6 379.3,340.2 379.4,339 379.6,338.3 379.7,337.6 379.8,336.6 380,336 380.1,335.3 380.2,334.8 380.4,334.6 380.5,333.2 380.6,332.9 380.8,331.9 380.9,331.1 381,331 381.2,329.8 381.3,329.1 381.4,328.9 381.6,327.8 381.7,327 381.8,326.9 382,325.6 382.1,325.5 382.2,324.3 382.4,323.8 382.5,323.1 382.8,322.2 383.1,321.6 383.3,321.3 383.6,320.6 383.9,319.3 384.2,319.1 384.5,317.9 384.8,317.3 385,316.5 385.3,316.2 385.6,315.4 386.3,315.8 387.1,316 387.8,316 387.9,316.9 388,317.3 388.2,317.9 388.3,318.5 388.4,319.5 388.5,320.6 388.6,320.9 388.8,321.8 388.9,322.7 389,323.4 389.1,324 389.2,324.6 389.4,325 389.5,326.2 389.6,326.6 389.7,327.6 389.8,327.9 390,329.2 390.1,329.3 390.2,330.5 390.3,331.3 390.4,331.4 390.6,332.7 390.7,333.2 390.8,333.8 390.9,334.6 390.9,335 391,335.8 391,336.4 391.1,337.3 391.1,338.2 391.2,338.9 391.2,339.6 391.3,340 391.3,340.7 391.4,341.8 391.4,342.7 391.5,342.8 391.5,343.6 391.6,344.2 391.6,345.5 391.7,345.4 391.7,346.8 391.8,347.4 391.8,347.8 391.9,348.8 391.9,349.2 392,350.2 392,350.7 392.1,351.8 392.1,352.1 392.2,353.1 392.2,353.6 392.3,354.2 392.3,355.4 392.4,355.5 392.4,356.7 392.5,357.5 392.5,358.1 392.6,358.6 392.6,359.3 392.7,360.3 392.7,360.6 392.8,361.6 392.8,362.3 392.9,363.1 392.9,363.4 393,364.3 393,364.6 393.1,365.3 393.1,366 393.2,367.2 393.2,367.6 393.3,368.7 393.3,368.8 393.4,369.6 393.4,370.8 393.5,371.2 393.5,371.7 393.6,372.9 393.6,373.2 393.7,374.5 393.7,374.6 393.8,375.8 393.8,376.2 393.9,376.9 394,377.9 394,378.1 394.1,379.3 394.2,379.5 394.3,380.4 394.3,381.2 394.4,381.8 394.5,382.6 394.5,383.4 394.6,383.7 394.7,384.2 394.7,385.5 394.8,386.1 394.9,386.8 395,387.4 395,388.4 395.1,388.6 395.2,389.8 395.2,389.9 395.3,391.1 395.4,392 395.5,392 395.5,393.2 395.6,393.5 395.7,394 395.7,395 395.8,396 395.9,396.3 395.9,397.6 396,397.5 396.1,398.4 396.2,399.2 396.2,399.9 396.3,400.5 396.4,401 396.4,401.9 396.5,402.6 396.6,403.6 396.6,404.1 396.7,405.1 396.8,405.6 396.9,406.2 396.9,406.7 397,407.7 397.2,408.2 397.3,409.4 397.5,409.7 397.7,410.3 397.8,410.9 398,412.1 398.1,412.7 398.3,413.3 398.5,414.1 398.6,414.3 398.8,415.4 399,415.6 399.1,416.7 399.3,417.1 399.4,418.1 399.6,418.4 399.8,419.2 399.9,420.2 400.1,420.7 400.8,421.3 401.5,421.1 402.2,421.3 402.9,421.5 403.6,422.2 404.3,422.7 405,422.3 405.7,422.8 406.4,423 407.1,423.9 407.8,423.8 408.5,423.5 409.2,423.5 409.9,424.1 410.6,424.3 411.3,424.2 412,423.7 412.7,423.9 413.4,424 414.1,424.4 414.8,424.3 415.5,423.8 416.2,424.1 417,424.4 417.7,424.2 418.4,424.4 419.1,424.6 419.8,424.7 420.5,424.6 421.2,424.4 421.9,424.2 422.6,424.1 423.3,424.2 424,424.6 424.7,424.7 425.4,424.8 426.1,424.9 426.8,424.4 427.5,424.5 428.2,424.4 428.9,424.7 429.6,425.1 430.3,424.9 431,424.7 431.7,424.5 432.4,425.1 433.2,425.2 433.9,425.1 434.6,424.7 435.3,424.8 436,425 436.7,425.3 437.4,424.8 438.1,425 438.8,424.7 439.5,424.7 440.2,424.9 440.9,425.4 441.6,425.2 442.3,425.3 443,425.2 443.7,425.2 444.4,425.1 445.1,425.5 445.8,425.2 446.5,424.9 447.2,425.4 447.9,425.7 448.6,425 449.3,425.7 450,425 450.7,425.2 451.4,425.7 452.1,425.7 452.8,425.1 453.5,425.5 454.2,425.5 454.9,425.3 455.6,425.6 456.3,425.5 457,425.2 457.7,425.4 458.4,425.6 459.1,425.5 459.8,425.5 460.5,425.6 461.2,425.2 461.9,425.1 462.6,425.1 463.3,425.6 464.1,425.5 464.8,425.8 465.5,425.9 466.2,425.2 466.9,425.4 467.6,425.5 468.3,425.6 469,425.9 469.7,425.7 470.4,425.4 471.1,425.7 471.8,425.5 472.5,425.7 473.2,425.3 473.9,425.7 474.6,425.6 475.3,425.8 476,425.7 476.7,425.7 477.4,425.9 478.1,425.4 478.8,425.9 479.5,425.8 480.2,425.9 480.9,425.7 481.6,425.4 482.3,426.1 483,426 483.7,426.2 484.4,425.7 485.1,426.1 485.8,425.8 485.8,427.2" fill="#9a9a9a" />
<polygon points="370.6,428 370.6,427.8 370.6,426.6 370.6,426.4 370.6,425.6 370.6,423.9 370.6,423.2 370.6,422.9 370.6,422.3 370.6,421.8 370.6,420.9 370.6,420.6 370.6,419.8 370.6,418.1 370.6,417.7 370.6,417.8 370.6,416.9 370.6,415.1 370.6,415.3 370.6,413.9 370.6,413.7 370.6,413.7 370.6,411.6 370.6,412 370.6,410.8 370.6,410.8 370.6,409.9 370.6,408.1 370.6,408.1 370.6,407.7 370.6,406.2 370.6,406.1 370.6,404.7 370.6,404 370.6,403.4 370.6,402.6 370.6,402.9 370.6,401.5 370.7,400.4 370.8,399.9 370.8,399.3 370.9,398.9 371,398.5 371.1,397.3 371.2,396.9 371.2,395.2 371.3,395.2 371.4,393.8 371.5,394 371.6,392.9 371.7,391.5 371.7,391.8 371.8,390.6 371.9,389.8 372,388.5 372.1,389 372.1,387.7 372.2,387.4 372.3,386.2 372.4,384.9 372.5,385 372.6,383.9 372.7,383.4 372.8,382.8 372.9,382.4 373,381.8 373.1,380.1 373.2,380.3 373.3,378.6 373.4,377.7 373.4,377.4 373.5,376.7 373.6,376.7 373.7,375.7 373.8,374.7 373.9,374.6 374,374.1 374.1,373 374.2,372.3 374.3,371.9 374.4,370.4 374.5,370.7 374.6,368.8 374.7,367.9 374.8,368.3 374.9,366.7 375,366.2 375.1,365.7 375.2,364.5 375.3,364.2 375.4,363.4 375.5,362.3 375.6,362.3 375.7,361.4 375.8,360.3 375.8,360.5 375.9,359.2 376,358 376.1,358.5 376.2,357.1 376.3,356 376.4,355.5 376.5,354.8 376.6,353.8 376.7,353.5 376.8,352.5 376.9,352.3 377,351.2 377.1,351.2 377.2,349.7 377.3,348.8 377.4,348.4 377.5,347.8 377.6,347 377.7,346.9 377.8,346.6 377.9,345.8 377.9,344.6 378,344.4 378.1,343.7 378.2,342.8 378.3,342.3 378.4,341 378.5,340.8 378.6,339.8 378.7,339.4 378.8,338.7 378.9,337.1 379,337.5 379.1,335.7 379.2,335.5 379.3,335 379.4,334.7 379.5,332.9 379.6,333.1 379.7,331.9 379.8,330.8 379.9,330.5 379.9,330.2 380,328.8 380.1,329.1 380.2,327.3 380.3,326.9 380.4,326.3 380.5,325.3 380.6,325.8 380.7,325.1 380.8,324.4 380.9,323.1 381.2,322 381.5,322.2 381.7,320.8 382,320 382.3,319.9 382.6,318.3 382.9,317.5 383.2,318.1 383.4,316.6 383.7,316.5 384,315.4 384.7,315.5 385.5,315.2 386.2,316 386.3,316.7 386.4,317 386.6,317.5 386.7,318.2 386.8,319.4 386.9,319.9 387,320.8 387.2,322.3 387.3,322.9 387.4,323.4 387.5,323.5 387.6,324.9 387.8,325.5 387.9,326 388,326.3 388.1,327 388.2,328 388.4,328.5 388.5,330.1 388.6,330.2 388.7,331.2 388.8,332.2 389,332.5 389.1,332.6 389.2,333.8 389.3,334.3 389.3,335.8 389.4,335.3 389.4,336.2 389.5,337.5 389.5,338.5 389.6,339.2 389.6,339.8 389.7,340.4 389.7,340.7 389.8,341 389.8,342.5 389.9,342.4 389.9,344.1 390,343.9 390,344.4 390.1,346.5 390.1,346.1 390.2,347.3 390.2,347.3 390.3,349.3 390.3,348.7 390.4,350.3 390.4,351.2 390.5,351.2 390.5,351.5 390.6,352.2 390.6,353 390.7,354.6 390.7,355 390.8,356.3 390.8,356.6 390.9,357.2 390.9,357.4 391,358.1 391,359.9 391.1,360.6 391.1,360.6 391.2,361.8 391.2,362.4 391.3,362.5 391.3,363.1 391.4,364.5 391.4,365.5 391.5,366.3 391.5,366.1 391.6,366.4 391.6,367.5 391.7,367.8 391.7,369.8 391.8,369.6 391.8,371 391.9,370.9 391.9,372.6 392,372.6 392,373.8 392.1,374.2 392.1,375.2 392.2,374.9 392.2,375.6 392.3,376.9 392.4,377.4 392.4,378.8 392.5,379.6 392.6,380 392.7,380.5 392.7,380.5 392.8,382.4 392.9,382.7 392.9,383.4 393,384.4 393.1,384.2 393.1,385.5 393.2,386.3 393.3,387.1 393.4,386.8 393.4,388.4 393.5,389.4 393.6,389.7 393.6,389.7 393.7,391.5 393.8,391 393.9,391.9 393.9,393.5 394,393.8 394.1,394.2 394.1,395.5 394.2,396 394.3,396 394.3,396.8 394.4,398.3 394.5,399 394.6,398.7 394.6,400 394.7,401 394.8,401.2 394.8,401.5 394.9,402.7 395,404.1 395,404.5 395.1,404.5 395.2,406.1 395.3,406.5 395.3,406.7 395.4,407.7 395.6,408.1 395.7,408.6 395.9,409.6 396,410.3 396.2,410.8 396.3,412.4 396.5,412.9 396.6,413.2 396.8,414.6 396.9,414.8 397.1,415.9 397.3,416.4 397.4,416.9 397.6,417.6 397.7,418.4 397.9,419.1 398,420 398.2,419.9 398.3,420.6 398.5,421.5 399.2,421.4 399.9,422.7 400.6,422.9 401.3,422.5 402,422.8 402.7,422.7 403.4,424.1 404.1,424 404.8,424.7 405.5,424.5 406.2,424.6 406.9,424.6 407.6,425 408.3,425.2 409,425.2 409.7,424.5 410.4,424.8 411.1,425.4 411.8,424.8 412.5,425.3 413.2,424.9 413.9,425.4 414.6,424.3 415.4,424.3 416.1,424.4 416.8,424.9 417.5,424.9 418.2,425.7 418.9,425.8 419.6,424.6 420.3,425.7 421,425.2 421.7,425.7 422.4,425.1 423.1,425.7 423.8,424.6 424.5,425.3 425.2,425.2 425.9,425.1 426.6,425.2 427.3,425.4 428,425.5 428.7,425.6 429.4,425.9 430.1,426 430.8,426.3 431.6,425.9 432.3,425.3 433,425.8 433.7,425.7 434.4,425.4 435.1,425.6 435.8,425.4 436.5,425.9 437.2,425.3 437.9,426 438.6,425.8 439.3,425.3 440,426 440.7,425.7 441.4,426.7 442.1,426.1 442.8,425.4 443.5,426.2 444.2,426.3 444.9,425.6 445.6,425.9 446.3,425.7 447,426.2 447.8,426.6 448.5,425.7 449.2,425.6 449.9,425.6 450.6,426.3 451.3,425.5 452,426.2 452.7,426.6 453.4,426.5 454.1,426.4 454.8,425.5 455.5,426.1 456.2,425.9 456.9,426.2 457.6,425.7 458.3,425.7 459,426.9 459.7,426.8 460.4,425.7 461.1,426.7 461.8,425.7 462.5,426.1 463.3,427 464,426.9 464.7,426.3 465.4,426.6 466.1,426.2 466.8,426.8 467.5,426.1 468.2,426 468.9,425.9 469.6,426.6 470.3,426.5 471,427 471.7,425.9 472.4,426.9 473.1,427.1 473.8,426.8 474.5,425.9 475.2,426 475.9,425.9 476.6,426.2 477.3,426.9 478,426 478.8,426.4 479.5,425.9 480.2,426.8 480.9,426 481.6,427 482.3,426.7 483,426.1 483.7,426.9 484.4,426.4 485.1,426.6 485.8,426.6 485.8,428" fill="#000" />
<rect x="368.2" y="309.4" width="119.7" height="2" fill="#000" />
<rect x="485.9" y="309.4" width="2" height="120.2" fill="#000" />
<rect x="368.2" y="309.4" width="2.4" height="120.2" fill="#000" />
<rect x="368.2" y="427.1" width="119.7" height="2.5" fill="#000" />
<rect x="365.6" y="427.5" width="2.6" height="1.8" fill="#000" />
<rect x="365.6" y="403.9" width="2.6" height="1.8" fill="#000" />
<rect x="365.6" y="380.3" width="2.6" height="1.8" fill="#000" />
<rect x="365.6" y="356.7" width="2.6" height="1.8" fill="#000" />
<rect x="365.6" y="333.1" width="2.6" height="1.8" fill="#000" />
<rect x="365.6" y="309.5" width="2.6" height="1.8" fill="#000" />
<rect x="367" y="421.9" width="1.2" height="1.2" fill="#000" />
<rect x="367" y="416" width="1.2" height="1.2" fill="#000" />
<rect x="367" y="410.1" width="1.2" height="1.2" fill="#000" />
<rect x="367" y="398.3" width="1.2" height="1.2" fill="#000" />
<rect x="367" y="392.4" width="1.2" height="1.2" fill="#000" />
<rect x="367" y="386.5" width="1.2" height="1.2" fill="#000" />
<rect x="367" y="374.7" width="1.2" height="1.2" fill="#000" />
<rect x="367" y="368.8" width="1.2" height="1.2" fill="#000" />
<rect x="367" y="362.9" width="1.2" height="1.2" fill="#000" />
<rect x="367" y="351.1" width="1.2" height="1.2" fill="#000" />
<rect x="367" y="345.2" width="1.2" height="1.2" fill="#000" />
<rect x="367" y="339.3" width="1.2" height="1.2" fill="#000" />
<rect x="367" y="327.5" width="1.2" height="1.2" fill="#000" />
<rect x="367" y="321.6" width="1.2" height="1.2" fill="#000" />
<rect x="367" y="315.7" width="1.2" height="1.2" fill="#000" />
<rect x="368.8" y="429.6" width="1.8" height="2.2" fill="#000" />
<rect x="378" y="429.6" width="1" height="1.2" fill="#000" />
<rect x="383.1" y="429.6" width="1" height="1.2" fill="#000" />
<rect x="386.8" y="429.6" width="1" height="1.2" fill="#000" />
<rect x="389.6" y="429.6" width="1" height="1.2" fill="#000" />
<rect x="391.9" y="429.6" width="1" height="1.2" fill="#000" />
<rect x="393.9" y="429.6" width="1" height="1.2" fill="#000" />
<rect x="395.5" y="429.6" width="1" height="1.2" fill="#000" />
<rect x="397" y="429.6" width="1" height="1.2" fill="#000" />
<rect x="398" y="429.6" width="1.8" height="2.2" fill="#000" />
<rect x="407.2" y="429.6" width="1" height="1.2" fill="#000" />
<rect x="412.3" y="429.6" width="1" height="1.2" fill="#000" />
<rect x="415.9" y="429.6" width="1" height="1.2" fill="#000" />
<rect x="418.8" y="429.6" width="1" height="1.2" fill="#000" />
<rect x="421.1" y="429.6" width="1" height="1.2" fill="#000" />
<rect x="423" y="429.6" width="1" height="1.2" fill="#000" />
<rect x="424.7" y="429.6" width="1" height="1.2" fill="#000" />
<rect x="426.2" y="429.6" width="1" height="1.2" fill="#000" />
<rect x="427.1" y="429.6" width="1.8" height="2.2" fill="#000" />
<rect x="436.3" y="429.6" width="1" height="1.2" fill="#000" />
<rect x="441.5" y="429.6" width="1" height="1.2" fill="#000" />
<rect x="445.1" y="429.6" width="1" height="1.2" fill="#000" />
<rect x="447.9" y="429.6" width="1" height="1.2" fill="#000" />
<rect x="450.3" y="429.6" width="1" height="1.2" fill="#000" />
<rect x="452.2" y="429.6" width="1" height="1.2" fill="#000" />
<rect x="453.9" y="429.6" width="1" height="1.2" fill="#000" />
<rect x="455.4" y="429.6" width="1" height="1.2" fill="#000" />
<rect x="456.3" y="429.6" width="1.8" height="2.2" fill="#000" />
<rect x="465.5" y="429.6" width="1" height="1.2" fill="#000" />
<rect x="470.6" y="429.6" width="1" height="1.2" fill="#000" />
<rect x="474.3" y="429.6" width="1" height="1.2" fill="#000" />
<rect x="477.1" y="429.6" width="1" height="1.2" fill="#000" />
<rect x="479.4" y="429.6" width="1" height="1.2" fill="#000" />
<rect x="481.4" y="429.6" width="1" height="1.2" fill="#000" />
<rect x="483.1" y="429.6" width="1" height="1.2" fill="#000" />
<rect x="484.6" y="429.6" width="1" height="1.2" fill="#000" />
<rect x="485.5" y="429.6" width="1.8" height="2.2" fill="#000" />
<polygon points="262.3,589 262.3,588.3 262.3,587.3 262.3,586.7 262.3,586.4 262.3,585.8 262.3,585.1 262.3,584 262.3,583.6 262.3,582 262.3,582.3 262.3,580.5 262.3,580.8 262.3,579.9 262.3,578.7 262.3,578.4 262.3,577.9 262.3,576.2 262.3,576.1 262.3,574.6 262.3,574.7 262.3,573.2 262.3,573 263,573.5 263.7,573.1 264.4,574 264.8,574.5 265.2,575.7 265.6,575.7 266,577.1 266.4,577.2 266.8,576.5 267.1,575.6 267.4,575.9 267.8,574.3 268.1,574.2 268.5,574 268.9,573.4 269.2,572.3 269.6,571.3 269.9,571 270.2,570.2 270.6,569.8 270.9,568.9 271.2,568.3 271.4,567.5 271.7,566.6 272,566.8 272.3,565.2 272.6,565.2 272.8,564.3 273.1,564 273.4,563.3 273.7,562.5 273.9,562.2 274.2,561.3 274.5,561 274.8,560 275.1,559.6 275.3,559 275.6,558.1 275.9,557.2 276.1,556.3 276.3,555.8 276.5,554.6 276.7,554.7 276.9,553.9 277.1,553.4 277.3,551.8 277.5,551.2 277.7,551.1 277.9,550.5 278.1,549 278.3,548.3 278.5,548 278.7,547.3 278.9,546.2 279.1,545.6 279.3,545 279.5,544.1 279.7,543.6 279.9,542.7 280.1,542.6 280.2,541.7 280.3,541.5 280.4,540.7 280.5,539.9 280.6,539.1 280.7,538 280.8,537.2 280.9,536.6 281,536.3 281.1,536.1 281.2,535.3 281.3,534.3 281.4,533.6 281.4,533.1 281.5,532.5 281.6,531.1 281.7,531.1 281.8,530.2 281.9,529 282,528.3 282.1,527.5 282.1,527.3 282.2,527.1 282.3,526.1 282.4,524.7 282.5,523.9 282.6,523.4 282.7,522.6 282.8,521.9 282.8,521.9 282.9,520.7 283,520.3 283.1,519.5 283.2,518.6 283.3,518.7 283.5,517.5 283.6,516.3 283.7,516.3 283.8,515 283.9,514.5 284,513.6 284.1,513.2 284.3,512.3 284.4,511.6 284.5,510.7 284.6,511 284.7,509.3 284.9,508.7 285,508.2 285.1,507.1 285.2,506.9 285.4,507.3 285.6,508.2 285.7,509.1 285.9,509.7 286.1,510.2 286.2,511.3 286.4,512.1 286.6,512.2 286.8,512.9 286.9,514.1 287.1,514.5 287.3,515.3 287.4,515 287.4,513.3 287.5,513.2 287.6,512.2 287.6,511.4 287.7,511.4 287.8,509.9 287.8,509.9 287.9,509.3 288,508.7 288,506.9 288.1,506.3 288.2,505.5 288.2,505 288.3,505 288.4,504 288.4,502.7 288.5,501.9 288.5,501.9 288.6,501.1 288.7,499.6 288.7,499.6 288.8,498.4 288.9,497.8 288.9,496.9 289,497.2 289.1,495.8 289.1,495.3 289.2,494.1 289.3,493.6 289.3,493.2 289.4,492.3 289.5,491.9 289.6,491.3 289.7,489.8 289.8,489.1 290,488.6 290.1,487.7 290.2,487.6 290.3,486.4 290.4,485.7 290.5,485.1 290.6,484.4 290.7,483.5 290.8,482.3 290.9,482.5 291.1,481 291.2,481.2 291.3,479.7 291.4,479 291.5,478.6 291.6,479.4 291.7,480.5 291.8,480.6 291.9,481.5 292.1,482.1 292.2,482.5 292.3,483.4 292.4,484.9 292.5,485.6 292.6,485.5 292.7,487 292.8,486.7 292.9,488.2 293,488.1 293.2,489.3 293.3,490 293.4,490.8 293.5,492.1 293.6,492.3 293.7,492.8 293.9,493.1 294,493.9 294.2,495.4 294.3,495.3 294.4,495.9 294.6,496.8 294.7,498.4 294.9,498.5 295,498.8 295.1,500.1 295.3,500.5 295.4,501.4 295.6,502.6 295.7,502.7 295.8,502.2 295.9,501.3 296,501.2 296.1,499.9 296.2,499.1 296.3,498.9 296.4,498.3 296.5,497.3 296.6,496.1 296.7,495.5 296.8,494.3 296.9,493.9 297,493.8 297,492.7 297.1,492.5 297.2,491.5 297.3,490.7 297.4,490.3 297.5,489.2 297.6,488.7 297.7,487.8 297.8,486.9 297.9,486.7 298,485.1 298.1,485.5 298.2,484.8 298.3,483.9 298.4,482.8 298.6,483.5 298.7,484.2 298.9,484.9 299,485.7 299.2,486.1 299.4,487.5 299.5,488.4 299.7,488.6 299.9,489.8 300,489.9 300.2,491.3 300.3,492.1 300.5,492.3 300.7,491.8 300.9,491.4 301.1,490.4 301.3,489.6 301.6,488.6 301.8,487.3 302,486.7 302.2,486.8 302.4,485.3 302.6,484.9 302.8,485.8 302.9,485.9 303.1,487.4 303.2,488.3 303.4,488.6 303.6,488.7 303.7,490.2 303.9,490.6 304.1,491.8 304.2,491.7 304.4,492.5 304.6,494 304.7,494.6 304.9,495.5 305,495.7 305.2,496.4 305.3,497.3 305.4,498.3 305.5,498.7 305.6,498.7 305.7,499.5 305.8,500 305.9,500.8 306,501.4 306.1,502.6 306.2,503.5 306.3,504.5 306.4,504.7 306.5,505.1 306.6,506.7 306.7,507.4 306.8,508.2 306.9,507.7 307,509.1 307.1,509.9 307.2,510.4 307.3,511.1 307.4,511.4 307.5,513 307.6,513.2 307.7,513.3 307.8,514.4 307.9,515.6 308,515.6 308.1,517 308.1,517.1 308.2,518 308.3,518.6 308.4,519.1 308.5,520.7 308.6,520.7 308.7,521.9 308.8,522.8 308.9,522.7 309,523.1 309.1,524.4 309.2,524.8 309.3,526.2 309.4,526.1 309.5,527.5 309.6,527.3 309.6,528.3 309.7,528.9 309.8,530.4 309.9,530.8 310,531.6 310.1,531.6 310.2,532.6 310.3,534 310.4,534.2 310.5,535 310.6,535.9 310.7,536.3 310.8,536.6 310.9,538.2 311,538.1 311.1,538.7 311.2,540 311.3,540 311.4,541.5 311.5,542.2 311.6,542.5 311.7,543.3 311.8,544 311.9,544.2 312,544.9 312.1,545.9 312.2,546.2 312.3,547.1 312.4,548 312.5,548.9 312.6,549.7 312.6,550.3 312.7,550.6 312.8,552 312.9,552.7 312.9,553.3 313,554 313.1,554.2 313.1,555.6 313.2,556 313.3,556.2 313.3,557.5 313.4,558.1 313.5,558.7 313.6,559.3 313.6,560.4 313.7,561 313.8,561.5 313.8,561.6 313.9,562.5 314,564.1 314,564.1 314.1,565.1 314.2,565.2 314.2,566.4 314.3,567.1 314.4,568 314.5,569 314.5,569.1 314.6,569.8 314.7,570.3 314.9,570.8 315,571.7 315.2,572.5 315.3,573.9 315.5,574 315.6,574.9 315.8,575.7 315.9,575.5 316.1,576.5 316.2,577.5 316.4,577.7 316.5,578.5 316.7,579.9 316.8,580.5 317,580.6 317.1,581.2 317.3,582.8 317.4,583.1 317.6,583.6 317.7,584.5 318.3,585.1 318.9,585.5 319.5,586.3 320.1,585.6 320.7,586.8 321.3,586.8 321.9,587.2 322.6,586.9 323.3,587.2 324,586.7 324.7,586.8 325.4,586.8 326.1,587.6 326.8,587.6 327.5,587.1 328.2,587.2 328.9,587.7 329.6,587.3 330.3,587.3 331.1,588 331.8,587.5 332.5,587.6 333.2,587.7 333.9,587 334.6,587.4 335.3,587.9 336,587.8 336.7,588.1 337.4,587.4 338.1,587.6 338.8,587.4 339.5,587.3 340.2,587.2 340.9,587.4 341.6,587.4 342.3,587.7 343,587.7 343.7,588.1 344.4,588.2 345.1,587.9 345.8,588.1 346.5,587.9 347.2,587.7 348,588 348.7,588.1 349.4,588.5 350.1,588.4 350.8,587.5 351.5,588.2 352.2,587.6 352.9,588.2 353.6,588.5 354.3,588.4 355,587.7 355.7,588.1 356.4,588.2 356.4,589" fill="#737373" />
<polygon points="241.5,589.5 241.5,588.4 241.5,588.3 241.5,587.7 241.5,587 241.5,585.8 241.5,585.4 241.5,584.2 241.5,584.5 241.5,583.8 241.5,581.8 241.5,581.9 241.5,581.4 241.5,580 241.5,579 241.5,578.3 241.5,578.6 241.5,576.9 241.5,576.7 241.5,576.6 241.5,574.8 241.5,575 241.5,574 241.5,573.2 241.5,572.6 241.5,571.7 241.5,571.8 241.5,570.8 241.5,569.7 241.5,568.6 241.5,568.4 241.5,568.4 241.5,567.6 241.5,565.7 241.5,565.4 241.5,564.9 241.5,564.1 241.5,563 241.5,562.4 241.5,562.2 241.5,561.7 241.5,561 241.5,560.3 241.5,559.6 241.5,557.9 241.5,557.5 241.5,557 241.5,556.2 241.5,555.7 241.5,555 241.5,554.2 241.5,553 241.5,553 241.6,552.7 241.7,552.1 241.8,550.8 241.9,549.6 242,549.1 242.1,548.9 242.2,547.7 242.3,546.8 242.5,547.8 242.7,548.6 242.9,549.7 243.2,550 243.4,550 243.6,551.3 243.8,552 243.9,551.9 243.9,550.1 244,549.2 244,548.5 244.1,547.9 244.1,547.3 244.2,547.4 244.2,546.5 244.2,545.9 244.3,545 244.3,544 244.4,543.9 244.5,542.3 244.5,541.9 244.6,541.2 244.6,540.9 244.7,540.3 244.7,539.3 244.8,538.7 244.8,537.5 244.8,537.2 244.9,536.9 245,535.6 245,535.3 245.1,534.3 245.1,533.6 245.2,533 245.2,531.6 245.2,531 245.3,530.3 245.3,530.1 245.4,529.6 245.4,528.9 245.5,527.9 245.6,526.8 245.7,526.3 245.8,525.3 245.8,525.3 245.9,524.3 246,523.4 246.1,522.6 246.2,522.9 246.2,521.6 246.3,521.6 246.4,519.9 246.5,519.5 246.7,518.4 246.8,518.4 247,518 247.1,516.2 247.3,516.5 247.4,515.4 247.6,515.2 247.7,514.5 247.9,513.1 248.1,513.1 248.2,511.4 248.4,511 248.5,510.3 248.7,509.3 248.8,509 249,508.7 249.1,507.1 249.3,506.9 249.4,506.2 249.4,505.5 249.5,504.4 249.5,504.3 249.6,503 249.6,502.8 249.7,502 249.7,501.6 249.8,501.1 249.8,500.4 249.9,499.1 249.9,498.1 250,497.3 250,497.4 250.1,496.7 250.1,496 250.2,495.3 250.2,494.3 250.3,494 250.4,493 250.4,492.2 250.5,491.8 250.5,490.8 250.6,490.3 250.6,489.8 250.7,488.4 250.7,488.1 250.8,486.8 250.8,486.4 250.9,486.2 250.9,485.6 251,484.9 251,483.9 251.1,483.3 251.1,482.7 251.2,481.6 251.2,480.4 251.3,479.3 251.3,479.7 251.4,478.6 251.4,479.7 251.5,480.3 251.5,480.8 251.6,481.7 251.6,482.5 251.7,482.9 251.7,483.8 251.8,483.9 251.8,485 251.9,485.9 251.9,486.5 251.9,486.8 252,487.3 252,488.8 252.1,488.7 252.1,490.4 252.2,490.2 252.2,491.8 252.3,491.9 252.3,493.4 252.3,493.1 252.4,493.7 252.4,495.2 252.5,496 252.5,496.1 252.6,497 252.6,498 252.7,498.2 252.7,499 252.8,500 252.8,500.6 252.9,501 253,501.5 253.2,503.3 253.3,502.9 253.4,504.8 253.5,505.3 253.6,505.4 253.7,506.7 253.9,506.3 254,507.7 254.1,508.1 254.2,508.7 254.3,510.3 254.4,509.8 254.6,511.6 254.7,511.2 254.8,512.7 254.9,513.2 255,513.6 255.1,514.6 255.1,515.9 255.2,516.4 255.3,516.1 255.4,517.1 255.5,518.1 255.5,519.1 255.6,518.8 255.7,520.7 255.8,521.4 255.9,522.2 256,521.9 256,522.6 256.1,524.2 256.2,524.4 256.3,524.7 256.4,525.1 256.4,526.1 256.5,527.4 256.6,527.9 256.6,528.9 256.7,529.1 256.7,530.6 256.8,530.7 256.8,531.4 256.9,532 256.9,532.7 257,533.3 257,534.7 257.1,534.8 257.1,535.2 257.2,536.2 257.2,537.6 257.3,537.9 257.3,537.8 257.3,539 257.4,539.8 257.4,539.8 257.5,541.8 257.5,542.5 257.6,542 257.6,543.4 257.7,543.7 257.7,544.3 257.8,545.1 257.8,545.5 257.9,547.1 257.9,547.3 258,548.5 258,548.9 258.1,550 258.1,550.4 258.2,550.8 258.3,551.2 258.4,552.6 258.4,553.3 258.5,554.2 258.6,554 258.7,554.5 258.7,556.4 258.8,556.7 258.9,556.7 259,558.2 259,558 259.1,559.5 259.2,560.1 259.2,561 259.3,560.9 259.4,562.7 259.5,563.4 259.5,564.2 259.6,564.6 259.7,564.7 259.8,566.3 259.8,566.5 259.9,567.3 260,567.9 260.1,568 260.1,569.6 260.2,569.8 260.4,570.7 260.5,570.8 260.7,571.7 260.9,572.1 261.1,573.2 261.2,574.7 261.4,574.5 261.6,575.3 261.8,576.5 261.9,576.2 262.1,577 262.3,578.5 262.4,578.4 262.6,579.8 262.8,580.7 263,581.1 263.1,581.1 263.3,582.4 263.7,582.6 264.1,583.7 264.5,584.8 264.9,585 265.2,585.7 265.6,586.1 266,586.4 266.4,587.2 267.1,587.4 267.8,586.6 268.5,587.1 269.2,587.7 269.9,586.9 270.6,587.5 271.3,587.7 272,586.9 272.7,587.9 273.4,587.1 274.1,588.1 274.8,587.3 275.5,587.7 276.2,588.1 276.9,588 277.6,587.5 278.3,587.2 279,587.8 279.7,587.8 280.4,587 281.1,587.5 281.8,588.3 282.5,587.8 283.2,587.3 283.9,588 284.6,587.7 285.3,588.4 286,587.8 286.7,587.2 287.4,587.4 288.1,587.5 288.8,588.6 289.5,587.8 290.2,587.8 290.9,588.7 291.6,587.6 292.3,588.2 293,588.7 293.7,588.7 294.4,587.6 295.1,588.1 295.8,587.8 296.5,588.5 297.2,587.9 297.9,587.8 298.6,587.9 299.3,587.8 300,588.3 300.7,588.6 301.4,588 302.1,588.2 302.8,588 303.5,588.2 304.2,588 304.9,588.1 305.6,588.6 306.3,587.9 307.1,588.6 307.8,588.1 308.5,587.8 309.2,587.8 309.9,588.9 310.6,587.7 311.3,588 312,588.9 312.7,587.8 313.4,588 314.1,588.1 314.8,588.8 315.5,587.8 316.2,589 316.9,587.9 317.6,588.5 318.3,588.8 319,588.5 319.7,588.4 320.4,588.3 321.1,588.1 321.9,589.1 322.6,588.3 323.3,588.6 324,588.5 324.7,589.1 325.4,588.1 326.1,588 326.8,589 327.5,588.5 328.2,588.6 328.9,588.6 329.6,588.9 330.3,588.9 331,588.7 331.7,587.8 332.4,588.9 333.1,587.8 333.8,589 334.5,587.8 335.2,588.9 336,588.7 336.7,587.8 337.4,588.9 338.1,588.6 338.8,588 339.5,589 340.2,588.6 340.9,588.5 341.6,589.1 342.3,588.1 343,588.1 343.7,589.1 344.4,588.1 345.1,589 345.8,588.1 346.5,589 347.2,588.4 347.9,588.7 348.6,588.7 349.3,588.4 350.1,588.6 350.8,588.8 351.5,588.1 352.2,589.2 352.9,589 353.6,588.2 354.3,588.2 355,588.4 355.7,589 356.4,588.6 356.4,589.5" fill="#000" />
<rect x="239" y="471.8" width="118.8" height="2" fill="#000" />
<rect x="355.8" y="471.8" width="2" height="119.7" fill="#000" />
<rect x="239" y="471.8" width="2.4" height="119.7" fill="#000" />
<rect x="239" y="589" width="118.8" height="2.5" fill="#000" />
<rect x="236.4" y="589.4" width="2.6" height="1.8" fill="#000" />
<rect x="236.4" y="565.9" width="2.6" height="1.8" fill="#000" />
<rect x="236.4" y="542.4" width="2.6" height="1.8" fill="#000" />
<rect x="236.4" y="518.9" width="2.6" height="1.8" fill="#000" />
<rect x="236.4" y="495.4" width="2.6" height="1.8" fill="#000" />
<rect x="236.4" y="471.9" width="2.6" height="1.8" fill="#000" />
<rect x="237.8" y="583.8" width="1.2" height="1.2" fill="#000" />
<rect x="237.8" y="577.9" width="1.2" height="1.2" fill="#000" />
<rect x="237.8" y="572.1" width="1.2" height="1.2" fill="#000" />
<rect x="237.8" y="560.3" width="1.2" height="1.2" fill="#000" />
<rect x="237.8" y="554.4" width="1.2" height="1.2" fill="#000" />
<rect x="237.8" y="548.6" width="1.2" height="1.2" fill="#000" />
<rect x="237.8" y="536.8" width="1.2" height="1.2" fill="#000" />
<rect x="237.8" y="530.9" width="1.2" height="1.2" fill="#000" />
<rect x="237.8" y="525.1" width="1.2" height="1.2" fill="#000" />
<rect x="237.8" y="513.3" width="1.2" height="1.2" fill="#000" />
<rect x="237.8" y="507.4" width="1.2" height="1.2" fill="#000" />
<rect x="237.8" y="501.6" width="1.2" height="1.2" fill="#000" />
<rect x="237.8" y="489.8" width="1.2" height="1.2" fill="#000" />
<rect x="237.8" y="483.9" width="1.2" height="1.2" fill="#000" />
<rect x="237.8" y="478.1" width="1.2" height="1.2" fill="#000" />
<text x="233.93" y="592.70" font-size="6.88" font-weight="normal" textLength="3.73" lengthAdjust="spacingAndGlyphs" fill="#000" stroke="#000" stroke-width="0.25">0</text>
<text x="229.85" y="569.20" font-size="6.88" font-weight="normal" textLength="7.83" lengthAdjust="spacingAndGlyphs" fill="#000" stroke="#000" stroke-width="0.25">20</text>
<text x="230.05" y="545.70" font-size="6.88" font-weight="normal" textLength="7.63" lengthAdjust="spacingAndGlyphs" fill="#000" stroke="#000" stroke-width="0.25">40</text>
<text x="229.85" y="522.20" font-size="6.88" font-weight="normal" textLength="7.83" lengthAdjust="spacingAndGlyphs" fill="#000" stroke="#000" stroke-width="0.25">60</text>
<text x="229.90" y="498.70" font-size="6.88" font-weight="normal" textLength="7.78" lengthAdjust="spacingAndGlyphs" fill="#000" stroke="#000" stroke-width="0.25">80</text>
<text x="226.39" y="475.20" font-size="6.88" font-weight="normal" textLength="11.27" lengthAdjust="spacingAndGlyphs" fill="#000" stroke="#000" stroke-width="0.25">100</text>
<rect x="239.6" y="591.5" width="1.8" height="2.2" fill="#000" />
<rect x="248.7" y="591.5" width="1" height="1.2" fill="#000" />
<rect x="253.8" y="591.5" width="1" height="1.2" fill="#000" />
<rect x="257.4" y="591.5" width="1" height="1.2" fill="#000" />
<rect x="260.2" y="591.5" width="1" height="1.2" fill="#000" />
<rect x="262.5" y="591.5" width="1" height="1.2" fill="#000" />
<rect x="264.5" y="591.5" width="1" height="1.2" fill="#000" />
<rect x="266.1" y="591.5" width="1" height="1.2" fill="#000" />
<rect x="267.6" y="591.5" width="1" height="1.2" fill="#000" />
<rect x="268.6" y="591.5" width="1.8" height="2.2" fill="#000" />
<rect x="277.7" y="591.5" width="1" height="1.2" fill="#000" />
<rect x="282.8" y="591.5" width="1" height="1.2" fill="#000" />
<rect x="286.4" y="591.5" width="1" height="1.2" fill="#000" />
<rect x="289.2" y="591.5" width="1" height="1.2" fill="#000" />
<rect x="291.5" y="591.5" width="1" height="1.2" fill="#000" />
<rect x="293.4" y="591.5" width="1" height="1.2" fill="#000" />
<rect x="295.1" y="591.5" width="1" height="1.2" fill="#000" />
<rect x="296.6" y="591.5" width="1" height="1.2" fill="#000" />
<rect x="297.5" y="591.5" width="1.8" height="2.2" fill="#000" />
<rect x="306.6" y="591.5" width="1" height="1.2" fill="#000" />
<rect x="311.7" y="591.5" width="1" height="1.2" fill="#000" />
<rect x="315.3" y="591.5" width="1" height="1.2" fill="#000" />
<rect x="318.1" y="591.5" width="1" height="1.2" fill="#000" />
<rect x="320.4" y="591.5" width="1" height="1.2" fill="#000" />
<rect x="322.4" y="591.5" width="1" height="1.2" fill="#000" />
<rect x="324" y="591.5" width="1" height="1.2" fill="#000" />
<rect x="325.5" y="591.5" width="1" height="1.2" fill="#000" />
<rect x="326.5" y="591.5" width="1.8" height="2.2" fill="#000" />
<rect x="335.6" y="591.5" width="1" height="1.2" fill="#000" />
<rect x="340.7" y="591.5" width="1" height="1.2" fill="#000" />
<rect x="344.3" y="591.5" width="1" height="1.2" fill="#000" />
<rect x="347.1" y="591.5" width="1" height="1.2" fill="#000" />
<rect x="349.4" y="591.5" width="1" height="1.2" fill="#000" />
<rect x="351.3" y="591.5" width="1" height="1.2" fill="#000" />
<rect x="353" y="591.5" width="1" height="1.2" fill="#000" />
<rect x="354.5" y="591.5" width="1" height="1.2" fill="#000" />
<rect x="355.4" y="591.5" width="1.8" height="2.2" fill="#000" />
<polygon points="394.4,589 394.4,588.3 394.4,587.3 394.4,587.1 394.4,585.7 394.4,585.6 394.4,584.9 394.4,583.4 394.4,583.2 394.4,582.4 394.7,581.9 394.9,581.7 395.2,580.2 395.4,579.7 395.7,579.6 395.9,578 396.2,578.3 396.4,577 396.7,576.3 397,576.4 397.2,575 397.5,574.2 397.7,573.5 398,573.4 398.2,572.7 398.5,571.9 398.8,570.9 399,570.6 399.3,569.7 399.6,569.7 399.8,568.4 400.1,568.1 400.3,567.8 400.6,566.3 400.9,566.5 401.1,565.3 401.4,564.8 401.6,563.8 401.9,563.6 402.2,563 402.4,562.2 402.7,561.4 403,561.2 403.3,560.1 403.7,558.9 404,559.3 404.3,558.3 404.6,557.7 405,557 405.3,555.7 405.6,555.3 405.9,554.4 406.3,554.5 406.6,554.1 406.9,553 406.9,552.5 407,551.9 407,550.6 407.1,549.5 407.1,549.3 407.2,548.2 407.2,547.7 407.3,546.9 407.3,546.1 407.4,546 407.4,545.1 407.5,544.7 407.5,544.1 407.6,542.5 407.6,542.6 407.7,541.7 407.7,540.7 407.8,540.5 407.8,539.2 407.9,537.9 407.9,537.3 408,536.8 408,536.3 408.2,535.8 408.4,534.9 408.6,534.3 408.8,532.8 409.1,532.3 409.3,532 409.5,531.4 409.7,530.4 409.9,529.4 410.1,529 410.6,528.2 411.1,528.2 411.6,527.7 412.2,526.6 412.7,526.9 413.2,525.8 413.3,524.6 413.4,524.1 413.5,523.6 413.6,523.4 413.7,522.4 413.8,521.8 413.9,521.4 414,520 414.1,519.1 414.2,518.7 414.3,518.2 414.4,517 414.5,516.1 414.6,516.3 414.7,515.9 414.8,515.1 414.9,513.8 415,513.1 415.1,512.9 415.2,512.4 415.3,511.1 415.4,510.2 415.5,510.2 415.6,509.2 415.7,507.9 415.8,507.5 415.9,506.3 416,506.1 416.1,505.5 416.2,505.2 416.3,503.9 416.4,503.6 416.5,502.9 416.6,502 416.7,501.4 416.8,500.6 416.9,500 417,499.2 417.1,499 417.2,497.3 417.3,497.5 417.4,496.4 417.5,496 417.6,494.4 417.7,494.5 417.8,493.4 417.9,492.8 418,492.1 418.1,491.7 418.2,490.7 418.3,490.2 418.4,488.9 418.5,488.1 418.6,488.1 418.7,487.7 418.8,485.9 418.9,486.2 419,484.9 419.1,484.5 419.2,483.3 419.3,483.1 419.4,482.1 419.5,481.8 419.6,480.5 419.7,479.8 419.8,479.5 419.9,478.6 420.1,478.9 420.2,480.7 420.4,480.9 420.5,482.1 420.7,481.9 420.9,483.3 421,483.4 421.2,484 421.3,485.2 421.5,486 422,486.5 422.6,487.1 423.1,487.5 423.6,488.1 423.8,488.4 424,489.7 424.1,489.9 424.3,490.6 424.5,491.9 424.6,492.5 424.8,493.2 425,494.1 425.2,494.7 425.4,494.7 425.5,496.3 425.7,496.4 425.8,497.1 426,497.9 426.1,498.2 426.3,499.1 426.4,500 426.5,500 426.7,501.6 426.8,501.8 427,502.9 427.1,503.7 427.2,504.2 427.4,504.3 427.5,505.6 427.7,506 427.8,506.9 428.1,507.8 428.3,508.5 428.6,508.9 428.9,509.8 429.1,509.8 429.4,511.3 429.6,512.1 429.9,512.2 430.2,513.5 430.4,514.1 430.7,514.4 431,515.3 431.1,516.5 431.1,516.8 431.2,517.1 431.2,518.2 431.3,519.2 431.3,519.7 431.4,520.6 431.4,520.3 431.5,522.2 431.6,522.8 431.6,523 431.7,524.2 431.7,524 431.8,524.9 431.8,525.4 431.9,526.7 431.9,527.7 432,527.9 432.1,529.1 432.2,528.8 432.3,530.3 432.4,530.8 432.4,531.1 432.5,532.6 432.6,532.8 432.7,533 432.8,534.1 432.9,535.1 433,536 433.1,535.9 433.1,537.1 433.2,537.2 433.3,538.9 433.4,538.5 433.5,540.4 433.6,540.6 433.7,541.5 433.8,542.1 433.8,542.6 433.9,543.2 434,543.6 434.1,544.7 434.2,545.1 434.3,545.6 434.4,546.5 434.5,547.7 434.5,548.2 434.6,549 434.7,549.6 434.8,550.8 434.9,551.4 435,551.4 435.1,552.4 435.1,553.6 435.2,553.5 435.3,554.7 435.4,555.3 435.5,556 435.6,556.6 435.7,557.5 435.8,557.8 435.9,559.1 435.9,559.4 436,559.8 436.1,560.9 436.2,561.4 436.3,562.3 436.4,563.3 436.5,563.7 436.6,564.2 436.7,564.7 436.8,565.5 436.9,566 437,567.1 437.1,568.1 437.2,568.5 437.3,568.7 437.4,569.2 437.5,571 437.6,571 437.7,572.1 437.8,573.1 437.9,573.8 438,574.1 438.1,575.2 438.2,575.3 438.3,576.1 438.5,577.3 438.7,577.7 438.9,577.7 439.1,579.3 439.3,579.2 439.5,580.9 439.7,580.5 440,582 440.2,582 440.4,583.1 440.6,583.6 440.8,585 441,584.9 441.2,586.2 441.4,586.6 442.1,587.4 442.8,586.7 443.5,587.8 444.2,587.3 444.9,588.4 445.6,588.4 446.3,588.8 447,588 447.7,588.9 448.4,588.3 449.1,588.2 449.8,589 450.5,588.3 451.2,588.1 451.9,588.2 452.7,588.9 453.4,589 454.1,588.4 454.8,588.4 455.5,588.6 456.2,588.9 456.9,587.9 457.6,588.8 458.3,589 459,588.4 459.7,588.4 460.4,589 461.1,588.4 461.8,588.3 462.5,588.9 463.2,588.5 463.9,588.7 464.6,588.2 465.3,588.7 466.1,588.3 466.8,588.8 467.5,588.5 468.2,589 468.9,588.6 469.6,588.9 470.3,588.5 471,588.7 471.7,588.3 472.4,588.6 473.1,588.7 473.8,588.2 474.5,588.6 475.2,589.1 475.9,588.2 476.6,588.5 477.3,589 478,588.5 478.7,588 479.5,588.6 480.2,588.5 480.9,589.1 481.6,588.8 482.3,588.9 483,588.4 483.7,589.1 484.4,589 485.1,588.1 485.8,588.6 485.8,589" fill="#737373" />
<polygon points="370.6,589.5 370.6,589 370.6,588.7 370.6,587.6 370.6,587.3 370.6,585.6 370.6,585.4 370.6,584.6 370.6,583.6 370.6,583.6 370.6,582.4 370.6,582 370.6,581.4 370.6,580.7 370.6,579.1 370.6,578.3 370.6,578.7 370.6,577.7 370.6,576.3 370.6,575.6 370.6,575.4 370.6,574.3 370.6,574.6 370.6,572.9 370.6,573.2 370.6,572.2 370.6,571.3 370.6,570.7 370.6,570.1 370.6,568.8 370.6,568.4 370.6,567.1 370.6,566.3 370.6,566.9 370.6,566.1 370.6,565.2 370.6,563.6 370.6,563.6 370.6,563 370.6,561.9 370.6,561.2 370.6,561 370.6,559.2 370.6,559.2 370.6,558.2 370.6,557.7 370.6,557.2 370.6,556.3 370.6,556.2 370.6,555.5 370.6,554.7 370.6,554 370.6,552.9 370.6,551.9 370.6,551.9 370.6,550.2 370.6,550.2 370.6,549.6 370.6,548.1 370.6,547.5 370.6,547.5 370.6,547.1 370.6,545.7 370.6,545.2 370.6,544.7 370.6,543.9 370.6,543 370.6,542.5 370.6,541.9 370.6,541.3 370.6,540.3 370.6,539.7 370.6,538.4 370.6,537.6 370.6,537.8 370.6,536.3 370.6,535.9 370.6,535.8 370.6,534.1 370.6,534.1 370.6,532.8 370.6,532.7 370.6,532.2 370.6,531.5 370.6,530.8 370.6,529.7 370.6,529 370.6,527.8 370.6,527 370.6,527.2 370.6,525.5 370.6,526 370.6,524.3 370.6,524.3 370.6,523.3 370.6,522.8 370.6,522.3 370.6,520.9 370.6,521 370.6,520.2 370.6,519.2 370.6,518.5 370.6,517.5 370.6,517.6 370.6,516.1 370.6,515.2 370.6,515 370.6,514.8 370.6,514.1 370.6,512.9 370.6,511.9 370.6,511.7 370.6,510.7 370.6,510.4 370.6,509.7 370.6,508.8 370.6,508.5 370.6,507.3 370.6,507.1 370.6,505.9 370.6,504.6 370.6,504.5 370.6,504 370.6,502.8 370.6,501.7 370.6,501.3 370.6,501.2 370.6,499.7 370.6,498.7 370.6,499.2 370.6,498.6 370.6,497.8 370.6,497 370.6,496.2 370.6,495.2 370.6,494.7 370.6,494.1 370.6,492.8 370.6,491.9 370.6,491.9 370.6,491.1 370.6,490.9 370.6,489.4 370.6,488.7 370.6,487.6 370.6,486.7 370.6,486.2 370.6,486.1 370.6,486 370.6,484.1 370.6,483.9 370.7,484.2 370.7,485.6 370.8,485.8 370.9,486.2 371,488.1 371,487.8 371.1,488.9 371.2,490.1 371.2,490.9 371.3,491.2 371.4,491.1 371.6,489.9 371.7,488.6 371.9,487.8 372,487.9 372.1,487 372.3,485.9 372.4,485.1 372.6,484.7 372.7,483.9 372.9,483.3 373,482.8 373.2,483.3 373.5,484.6 373.7,484.8 373.9,486.1 374.2,486.3 374.4,487 374.5,486 374.6,486.2 374.8,485.1 374.9,484.7 375,483.1 375.1,483.5 375.3,482.3 375.4,481.2 375.5,480.7 375.6,481.1 375.6,481.6 375.7,482.2 375.8,483.2 375.8,484.1 375.9,485.1 375.9,485.6 376,485.9 376.1,486.7 376.1,487.3 376.2,488 376.2,489.1 376.3,490.3 376.4,490.4 376.4,492.1 376.5,492.3 376.6,492.3 376.7,491 376.8,489.5 376.9,489 377.1,488.7 377.2,488.6 377.3,487.9 377.4,486.9 377.5,486.4 377.6,484.5 377.7,484.4 377.8,483.6 377.9,482.5 378,482.3 378.2,481.6 378.3,481.4 378.4,479.4 378.5,479 378.6,478.6 378.7,478.9 378.8,479.7 378.9,480.5 379,481.3 379.1,482.9 379.2,482.7 379.3,483.7 379.4,483.9 379.4,484.7 379.5,485.5 379.6,486.7 379.7,487 379.8,487.7 379.9,488.8 380,488.8 380.1,490.2 380.2,491.4 380.4,491 380.5,492.2 380.7,493.7 380.8,493.2 381,493.7 381.1,495 381.2,495.9 381.4,496.3 381.5,496.7 381.7,498.1 381.8,498.5 381.9,499.3 382.1,499.7 382.2,500.8 382.4,501.8 382.5,502 382.6,502.5 382.8,503.6 382.9,504.1 383.1,504.2 383.2,506.1 383.3,505.7 383.5,507.2 383.6,507.5 383.8,508.7 383.9,509 384,509.7 384.1,510.8 384.2,511.1 384.3,511.4 384.4,512.9 384.5,513.7 384.6,513.9 384.7,515.2 384.8,515.6 384.9,516.6 385,516.3 385.1,518 385.2,518.5 385.3,519.4 385.4,519.3 385.5,520.3 385.6,521.5 385.7,521.8 385.8,522 385.9,522.7 386,523.7 386.1,525 386.2,525.3 386.3,525.2 386.4,526.2 386.5,527.3 386.6,527.5 386.7,528.6 386.8,529.5 386.9,529.4 387,530.4 387.1,531.9 387.2,531.5 387.3,532.3 387.4,533.9 387.5,534.4 387.6,534.9 387.7,536.1 387.8,535.9 387.9,536.3 388,538.1 388.1,538.4 388.2,539.3 388.3,539.6 388.4,540.6 388.5,540.6 388.5,541.6 388.6,542.7 388.7,543.8 388.8,543.7 388.9,544 389,544.8 389.1,545.8 389.1,546.9 389.2,547.7 389.3,548.4 389.4,549.4 389.5,549.8 389.6,550.5 389.7,551.1 389.8,551.9 389.9,552.6 389.9,553.7 390,553.3 390.1,554.6 390.2,555.1 390.3,555.3 390.4,556.1 390.5,557.8 390.6,557.8 390.7,558.7 390.8,558.9 390.9,560 391,560 391.1,561.5 391.2,562.7 391.3,563.1 391.4,563.7 391.5,564.3 391.6,564.6 391.7,566 391.8,566.1 391.9,566.8 392,567.8 392.1,569.1 392.2,569.4 392.3,569.8 392.4,570.7 392.6,570.7 392.7,572.3 392.9,572.5 393,573.5 393.1,574.1 393.3,575.1 393.4,574.7 393.6,575.5 393.7,576.5 393.8,577.1 394,578.5 394.1,578.4 394.3,579 394.4,580.3 394.6,581 394.8,581.1 395.1,582.8 395.3,582.9 395.5,583.5 395.7,584.6 396,585.9 396.2,585.6 396.4,586.6 397.1,586.5 397.8,587 398.5,587.9 399.2,588.4 399.9,587.6 400.6,588.4 401.3,587.7 402,588.1 402.7,588.2 403.4,588.8 404.1,588.7 404.8,588.8 405.5,588.3 406.2,588.3 406.9,589 407.6,587.8 408.3,587.7 409,587.7 409.8,588.9 410.5,588.4 411.2,588.7 411.9,588.6 412.6,588.9 413.3,588.5 414,588.2 414.7,587.9 415.4,588.3 416.1,588 416.8,589 417.5,588.8 418.2,588.1 418.9,588.5 419.6,588.4 420.3,588.6 421,589.1 421.7,588.1 422.4,588.6 423.1,588.5 423.8,589.1 424.5,588.1 425.2,588.7 425.9,587.9 426.7,588.5 427.4,589.1 428.1,588.8 428.8,587.8 429.5,589.1 430.2,588.5 430.9,588.6 431.6,589.1 432.3,588.6 433,588.1 433.7,588.4 434.4,588.8 435.1,588.3 435.8,588 436.5,588.3 437.2,587.9 437.9,587.9 438.6,588 439.3,588.5 440,588.2 440.7,588 441.4,588.8 442.1,588.7 442.8,588.9 443.6,588 444.3,588.7 445,588.2 445.7,588.5 446.4,588.4 447.1,588.6 447.8,588.6 448.5,589.1 449.2,588.7 449.9,588.3 450.6,588.9 451.3,588 452,588.9 452.7,588.6 453.4,588.2 454.1,588.9 454.8,588 455.5,587.9 456.2,588.2 456.9,588.5 457.6,588.7 458.3,588.3 459,588.6 459.7,589.2 460.5,589.2 461.2,588.9 461.9,588.3 462.6,588.5 463.3,589 464,589.1 464.7,589.2 465.4,588.4 466.1,588.3 466.8,588.3 467.5,589 468.2,589.2 468.9,588.6 469.6,588.5 470.3,588.8 471,588.5 471.7,588.7 472.4,588.1 473.1,588 473.8,588.4 474.5,588.2 475.2,588.1 475.9,589.2 476.6,588.9 477.4,588.4 478.1,589.3 478.8,588 479.5,588.4 480.2,589.1 480.9,589.2 481.6,589 482.3,588.2 483,588.7 483.7,588 484.4,588 485.1,589.1 485.8,588.6 485.8,589.5" fill="#000" />
<rect x="368.4" y="471.8" width="119.5" height="2" fill="#000" />
<rect x="485.9" y="471.8" width="2" height="119.7" fill="#000" />
<rect x="368.4" y="471.8" width="2.4" height="119.7" fill="#000" />
<rect x="368.4" y="589" width="119.5" height="2.5" fill="#000" />
<rect x="365.8" y="589.4" width="2.6" height="1.8" fill="#000" />
<rect x="365.8" y="565.9" width="2.6" height="1.8" fill="#000" />
<rect x="365.8" y="542.4" width="2.6" height="1.8" fill="#000" />
<rect x="365.8" y="518.9" width="2.6" height="1.8" fill="#000" />
<rect x="365.8" y="495.4" width="2.6" height="1.8" fill="#000" />
<rect x="365.8" y="471.9" width="2.6" height="1.8" fill="#000" />
<rect x="367.2" y="583.8" width="1.2" height="1.2" fill="#000" />
<rect x="367.2" y="577.9" width="1.2" height="1.2" fill="#000" />
<rect x="367.2" y="572.1" width="1.2" height="1.2" fill="#000" />
<rect x="367.2" y="560.3" width="1.2" height="1.2" fill="#000" />
<rect x="367.2" y="554.4" width="1.2" height="1.2" fill="#000" />
<rect x="367.2" y="548.6" width="1.2" height="1.2" fill="#000" />
<rect x="367.2" y="536.8" width="1.2" height="1.2" fill="#000" />
<rect x="367.2" y="530.9" width="1.2" height="1.2" fill="#000" />
<rect x="367.2" y="525.1" width="1.2" height="1.2" fill="#000" />
<rect x="367.2" y="513.3" width="1.2" height="1.2" fill="#000" />
<rect x="367.2" y="507.4" width="1.2" height="1.2" fill="#000" />
<rect x="367.2" y="501.6" width="1.2" height="1.2" fill="#000" />
<rect x="367.2" y="489.8" width="1.2" height="1.2" fill="#000" />
<rect x="367.2" y="483.9" width="1.2" height="1.2" fill="#000" />
<rect x="367.2" y="478.1" width="1.2" height="1.2" fill="#000" />
<rect x="369" y="591.5" width="1.8" height="2.2" fill="#000" />
<rect x="378.2" y="591.5" width="1" height="1.2" fill="#000" />
<rect x="383.3" y="591.5" width="1" height="1.2" fill="#000" />
<rect x="386.9" y="591.5" width="1" height="1.2" fill="#000" />
<rect x="389.8" y="591.5" width="1" height="1.2" fill="#000" />
<rect x="392.1" y="591.5" width="1" height="1.2" fill="#000" />
<rect x="394" y="591.5" width="1" height="1.2" fill="#000" />
<rect x="395.7" y="591.5" width="1" height="1.2" fill="#000" />
<rect x="397.2" y="591.5" width="1" height="1.2" fill="#000" />
<rect x="398.1" y="591.5" width="1.8" height="2.2" fill="#000" />
<rect x="407.3" y="591.5" width="1" height="1.2" fill="#000" />
<rect x="412.4" y="591.5" width="1" height="1.2" fill="#000" />
<rect x="416.1" y="591.5" width="1" height="1.2" fill="#000" />
<rect x="418.9" y="591.5" width="1" height="1.2" fill="#000" />
<rect x="421.2" y="591.5" width="1" height="1.2" fill="#000" />
<rect x="423.1" y="591.5" width="1" height="1.2" fill="#000" />
<rect x="424.8" y="591.5" width="1" height="1.2" fill="#000" />
<rect x="426.3" y="591.5" width="1" height="1.2" fill="#000" />
<rect x="427.2" y="591.5" width="1.8" height="2.2" fill="#000" />
<rect x="436.4" y="591.5" width="1" height="1.2" fill="#000" />
<rect x="441.5" y="591.5" width="1" height="1.2" fill="#000" />
<rect x="445.2" y="591.5" width="1" height="1.2" fill="#000" />
<rect x="448" y="591.5" width="1" height="1.2" fill="#000" />
<rect x="450.3" y="591.5" width="1" height="1.2" fill="#000" />
<rect x="452.3" y="591.5" width="1" height="1.2" fill="#000" />
<rect x="454" y="591.5" width="1" height="1.2" fill="#000" />
<rect x="455.4" y="591.5" width="1" height="1.2" fill="#000" />
<rect x="456.4" y="591.5" width="1.8" height="2.2" fill="#000" />
<rect x="465.5" y="591.5" width="1" height="1.2" fill="#000" />
<rect x="470.7" y="591.5" width="1" height="1.2" fill="#000" />
<rect x="474.3" y="591.5" width="1" height="1.2" fill="#000" />
<rect x="477.1" y="591.5" width="1" height="1.2" fill="#000" />
<rect x="479.4" y="591.5" width="1" height="1.2" fill="#000" />
<rect x="481.4" y="591.5" width="1" height="1.2" fill="#000" />
<rect x="483.1" y="591.5" width="1" height="1.2" fill="#000" />
<rect x="484.6" y="591.5" width="1" height="1.2" fill="#000" />
<rect x="485.5" y="591.5" width="1.8" height="2.2" fill="#000" />
<text x="233.08" y="439.55" font-size="6.55" font-weight="normal" textLength="3.86" lengthAdjust="spacingAndGlyphs" fill="#000" stroke="#000" stroke-width="0.25">1</text>
<text x="259.07" y="439.55" font-size="6.45" font-weight="normal" textLength="7.81" lengthAdjust="spacingAndGlyphs" fill="#000" stroke="#000" stroke-width="0.25">10</text>
<text x="287.04" y="439.55" font-size="6.45" font-weight="normal" textLength="11.27" lengthAdjust="spacingAndGlyphs" fill="#000" stroke="#000" stroke-width="0.25">100</text>
<text x="313.83" y="439.55" font-size="6.45" font-weight="normal" textLength="15.29" lengthAdjust="spacingAndGlyphs" fill="#000" stroke="#000" stroke-width="0.25">1000</text>
<text x="342.13" y="439.55" font-size="6.45" font-weight="normal" textLength="19.29" lengthAdjust="spacingAndGlyphs" fill="#000" stroke="#000" stroke-width="0.25">10000</text>
<text x="367.18" y="439.55" font-size="6.55" font-weight="normal" textLength="3.86" lengthAdjust="spacingAndGlyphs" fill="#000" stroke="#000" stroke-width="0.25">1</text>
<text x="394.47" y="439.55" font-size="6.45" font-weight="normal" textLength="7.81" lengthAdjust="spacingAndGlyphs" fill="#000" stroke="#000" stroke-width="0.25">10</text>
<text x="423.44" y="439.55" font-size="6.45" font-weight="normal" textLength="11.27" lengthAdjust="spacingAndGlyphs" fill="#000" stroke="#000" stroke-width="0.25">100</text>
<text x="450.73" y="439.55" font-size="6.45" font-weight="normal" textLength="15.29" lengthAdjust="spacingAndGlyphs" fill="#000" stroke="#000" stroke-width="0.25">1000</text>
<text x="474.83" y="439.55" font-size="6.45" font-weight="normal" textLength="19.29" lengthAdjust="spacingAndGlyphs" fill="#000" stroke="#000" stroke-width="0.25">10000</text>
<text x="237.38" y="599.55" font-size="6.55" font-weight="normal" textLength="3.86" lengthAdjust="spacingAndGlyphs" fill="#000" stroke="#000" stroke-width="0.25">1</text>
<text x="265.67" y="599.55" font-size="6.45" font-weight="normal" textLength="7.81" lengthAdjust="spacingAndGlyphs" fill="#000" stroke="#000" stroke-width="0.25">10</text>
<text x="293.64" y="599.55" font-size="6.45" font-weight="normal" textLength="11.27" lengthAdjust="spacingAndGlyphs" fill="#000" stroke="#000" stroke-width="0.25">100</text>
<text x="321.03" y="599.55" font-size="6.45" font-weight="normal" textLength="15.29" lengthAdjust="spacingAndGlyphs" fill="#000" stroke="#000" stroke-width="0.25">1000</text>
<text x="347.93" y="599.55" font-size="6.45" font-weight="normal" textLength="19.29" lengthAdjust="spacingAndGlyphs" fill="#000" stroke="#000" stroke-width="0.25">10000</text>
<text x="368.68" y="601.25" font-size="6.55" font-weight="normal" textLength="3.86" lengthAdjust="spacingAndGlyphs" fill="#000" stroke="#000" stroke-width="0.25">1</text>
<text x="394.47" y="601.25" font-size="6.45" font-weight="normal" textLength="7.81" lengthAdjust="spacingAndGlyphs" fill="#000" stroke="#000" stroke-width="0.25">10</text>
<text x="423.44" y="601.25" font-size="6.45" font-weight="normal" textLength="11.27" lengthAdjust="spacingAndGlyphs" fill="#000" stroke="#000" stroke-width="0.25">100</text>
<text x="450.73" y="601.25" font-size="6.45" font-weight="normal" textLength="15.29" lengthAdjust="spacingAndGlyphs" fill="#000" stroke="#000" stroke-width="0.25">1000</text>
<text x="474.83" y="601.25" font-size="6.45" font-weight="normal" textLength="19.29" lengthAdjust="spacingAndGlyphs" fill="#000" stroke="#000" stroke-width="0.25">10000</text>
<rect x="434.5" y="314.5" width="15.2" height="31.6" fill="#000" />
<rect x="437.8" y="333.9" width="8.8" height="9.1" fill="#737373" />
<text x="450.03" y="326.50" font-size="11.49" font-weight="bold" textLength="14.64" lengthAdjust="spacingAndGlyphs" fill="#000" >wt</text>
<text x="450.03" y="342.40" font-size="11.31" font-weight="bold" textLength="31.27" lengthAdjust="spacingAndGlyphs" fill="#000" >wt/KI</text>
<rect x="435.7" y="477.4" width="15.7" height="31.9" fill="#000" />
<rect x="438.8" y="496.9" width="9.4" height="9.2" fill="#737373" />
<text x="452.33" y="488.80" font-size="11.03" font-weight="bold" textLength="14.24" lengthAdjust="spacingAndGlyphs" fill="#000" >wt</text>
<text x="452.33" y="504.30" font-size="10.90" font-weight="bold" textLength="31.58" lengthAdjust="spacingAndGlyphs" fill="#000" >wt/KI</text>
<text x="250.30" y="460.80" font-size="16.73" font-weight="bold" textLength="85.47" lengthAdjust="spacingAndGlyphs" fill="#000" >Monocytes</text>
<text x="370.35" y="460.80" font-size="14.90" font-weight="bold" textLength="103.92" lengthAdjust="spacingAndGlyphs" fill="#000" >Granulocytes</text>
<text x="489.96" y="370.30" font-size="17.60" font-weight="bold" textLength="30.88" lengthAdjust="spacingAndGlyphs" fill="#000" >BM</text>
<text x="491.85" y="539.90" font-size="17.45" font-weight="bold" textLength="25.66" lengthAdjust="spacingAndGlyphs" fill="#000" >PB</text>
</svg>
</body></html>
